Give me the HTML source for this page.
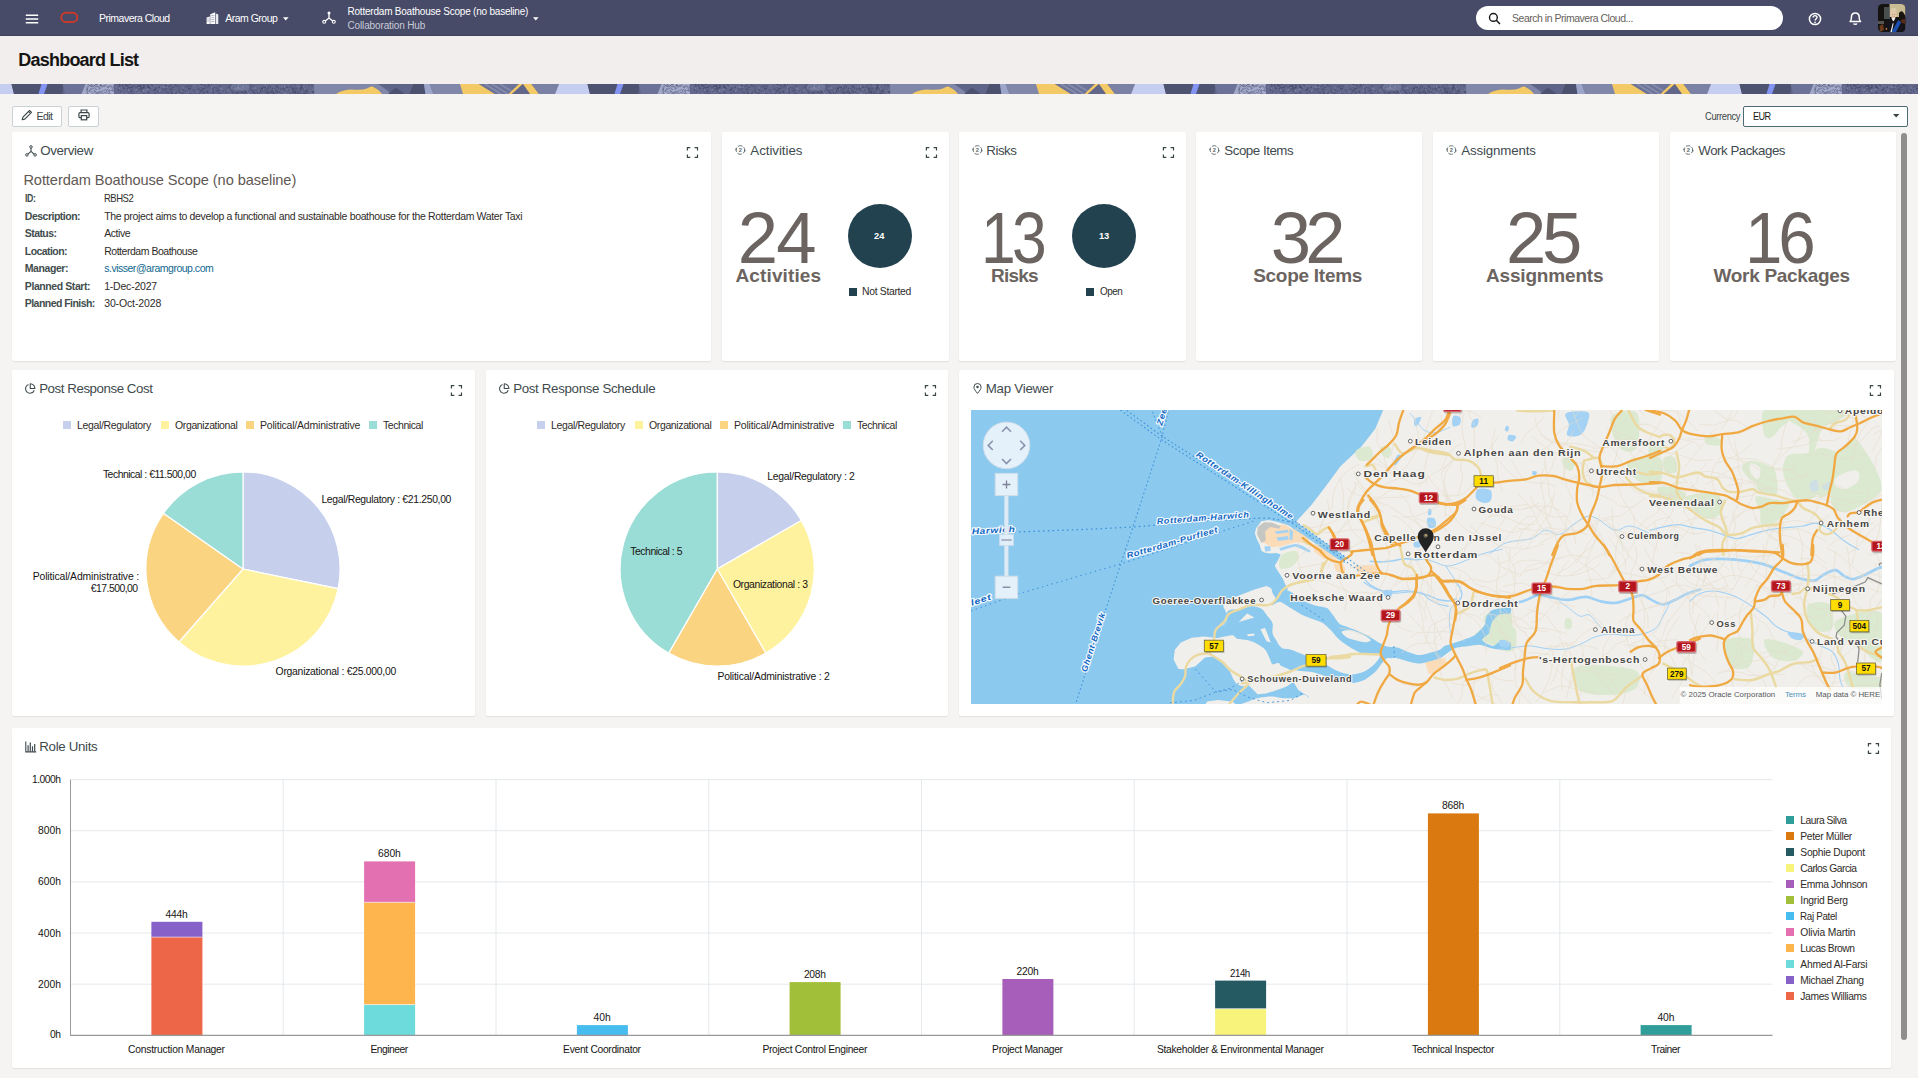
<!DOCTYPE html>
<html lang="en"><head><meta charset="utf-8"><title>Dashboard List</title>
<style>
html,body{margin:0;padding:0;}
body{width:1918px;height:1078px;overflow:hidden;position:relative;background:#f5f4f2;font-family:"Liberation Sans",sans-serif;}
.t{position:absolute;white-space:nowrap;line-height:1;transform-origin:left top;font-family:"Liberation Sans",sans-serif;}
.abs{position:absolute;}
.card{position:absolute;background:#fff;border-radius:2px;box-shadow:0 1px 1.5px rgba(0,0,0,.085);}
svg{position:absolute;overflow:visible;}
</style></head><body>
<div class="abs" style="left:0;top:0;width:1918px;height:36px;background:#474b68;box-shadow:inset 0 -1px 0 #3d4160;"></div>
<svg style="left:25px;top:14px" width="14" height="10" viewBox="0 0 14 10"><path d="M0.8 1.3h12.4M0.8 5h12.4M0.8 8.7h12.4" stroke="#fff" stroke-width="1.5" fill="none"/></svg>
<svg style="left:60px;top:11px" width="19" height="13" viewBox="0 0 19 13"><rect x="1.3" y="1.8" width="16" height="9.2" rx="4.6" ry="4.6" fill="none" stroke="#c9392c" stroke-width="2"/></svg>
<span class="t" style="font-size:10.5px;color:#fff;letter-spacing:-0.504px;left:99.00px;top:13.00px;">Primavera Cloud</span>
<svg style="left:206px;top:12px" width="13" height="13" viewBox="0 0 13 13">
<path d="M4.3 2.2 L9.2 0.3 L9.2 12 L4.3 12 Z" fill="#fff"/>
<path d="M9.8 1.6 L12.3 2.6 L12.3 12 L9.8 12 Z" fill="#e9e9f0"/>
<path d="M0.6 5.6 L3.8 4.6 L3.8 12 L0.6 12 Z" fill="#fff"/>
<path d="M5.3 3.6h3M5.3 5.6h3M5.3 7.6h3M5.3 9.6h3M1.2 7h2M1.2 9h2" stroke="#8a8da6" stroke-width=".7"/>
</svg>
<span class="t" style="font-size:10.5px;color:#fff;letter-spacing:-0.516px;left:225.30px;top:13.00px;">Aram Group</span>
<svg style="left:283px;top:16.7px" width="6" height="4" viewBox="0 0 6 4"><path d="M0 0.2h5.6L2.8 3.4z" fill="#fff"/></svg>
<svg style="left:322px;top:11px" width="14" height="13" viewBox="0 0 14 13">
<path d="M7 2.6V7M7 7L2.6 10.6M7 7L11.4 10.6" stroke="#fff" stroke-width="1.3" fill="none"/>
<circle cx="7" cy="1.9" r="1.5" fill="#fff"/><circle cx="2.2" cy="10.8" r="1.45" fill="#474b68" stroke="#fff" stroke-width="1.1"/><circle cx="11.8" cy="10.8" r="1.45" fill="#474b68" stroke="#fff" stroke-width="1.1"/>
</svg>
<span class="t" style="font-size:10px;color:#fff;letter-spacing:-0.215px;left:347.50px;top:7.00px;">Rotterdam Boathouse Scope (no baseline)</span>
<span class="t" style="font-size:10px;color:#c9cad6;letter-spacing:-0.137px;left:347.50px;top:21.00px;">Collaboration Hub</span>
<svg style="left:533px;top:16.7px" width="6" height="4" viewBox="0 0 6 4"><path d="M0 0.2h5.6L2.8 3.4z" fill="#fff"/></svg>
<div class="abs" style="left:1476px;top:6px;width:307px;height:24px;border-radius:12px;background:#fff;"></div>
<svg style="left:1488px;top:12px" width="13" height="13" viewBox="0 0 13 13"><circle cx="5.4" cy="5.4" r="3.9" fill="none" stroke="#161513" stroke-width="1.4"/><path d="M8.3 8.3L12 12" stroke="#161513" stroke-width="1.5"/></svg>
<span class="t" style="font-size:10.5px;color:#66615c;letter-spacing:-0.478px;left:1512.00px;top:13.00px;">Search in Primavera Cloud...</span>
<svg style="left:1808px;top:12px" width="14" height="14" viewBox="0 0 14 14"><circle cx="7" cy="7" r="5.6" fill="none" stroke="#fff" stroke-width="1.5"/>
<path d="M5.1 5.6c0-2.6 3.9-2.5 3.9-.2c0 1.5-1.9 1.4-1.9 3" fill="none" stroke="#fff" stroke-width="1.4"/><circle cx="7.05" cy="10.3" r=".85" fill="#fff"/></svg>
<svg style="left:1849px;top:12px" width="13" height="14" viewBox="0 0 13 14">
<path d="M1 9.6C2.5 8.6 2.4 7 2.4 5.2C2.4 2.6 4.1 .9 6.3 .9C8.5 .9 10.2 2.6 10.2 5.2C10.2 7 10.1 8.6 11.6 9.6Z" fill="none" stroke="#fff" stroke-width="1.5" stroke-linejoin="round"/>
<path d="M4.6 11.4c.5 1.2 2.9 1.2 3.4 0" fill="none" stroke="#fff" stroke-width="1.4"/></svg>
<svg style="left:1878px;top:4px" width="27.5" height="28" viewBox="0 0 27.5 28">
<defs><clipPath id="avc"><rect x="0" y="0" width="27.5" height="28" rx="4.5" ry="4.5"/></clipPath></defs>
<g clip-path="url(#avc)">
<rect width="27.5" height="28" fill="#15130f"/>
<rect x="11.5" y="0" width="16" height="13" fill="#c9bb92"/>
<rect x="6" y="3" width="6" height="12" fill="#5b6465" opacity=".75"/>
<path d="M21 9 Q23 6 25 8 L27.5 12 L27.5 20 L21 18 Z" fill="#1a1410"/>
<ellipse cx="15.4" cy="10.2" rx="3.2" ry="4.1" fill="#e3c9a8"/>
<path d="M11.9 8.5 Q12.5 3.8 15.6 3.9 Q18.9 4 18.9 8.4 Q17.5 5.8 15.2 6 Q13 6.1 11.9 8.5Z" fill="#d9cfb0"/>
<path d="M14 10.6h1M16.2 10.6h1" stroke="#7a5a48" stroke-width=".5"/>
<path d="M14.4 12.6h2" stroke="#c97b78" stroke-width=".6"/>
<path d="M7 28 L8 18.5 Q10.5 15.2 13.4 14.4 L15.4 17.5 L17.4 14.4 Q21 15.4 23.4 18.5 L27.5 28 Z" fill="#14141a"/>
<path d="M13.4 14.4 L15.4 17.5 L17.4 14.4 L15.6 13.6Z" fill="#f2f2f2"/>
<path d="M13.6 28 L20.2 16 L23.2 18.2 L18 28Z" fill="#1c50b0"/>
<path d="M12.4 28 L14.8 19 L15.6 19.6 L13.8 28Z" fill="#f2f2f2"/>
<path d="M0 17h6v3H0z" fill="#70706c" opacity=".7"/>
<path d="M1.5 22 L5 20 L6 26 L2 28Z" fill="#6c3a1c"/>
<path d="M22.5 16 L27.5 15 L27.5 20 L24 19Z" fill="#5a2c18"/>
<circle cx="8.4" cy="24.8" r=".9" fill="#d8863a"/>
</g></svg>
<div class="abs" style="left:0;top:36px;width:1918px;height:48px;background:#f1eeed;"></div>
<span class="t" style="font-size:18px;color:#161513;font-weight:700;letter-spacing:-0.786px;left:18.30px;top:51.00px;">Dashboard List</span>
<svg style="left:0;top:84px;overflow:hidden" width="1918" height="10" viewBox="0 0 1918 10"><defs><pattern id="bn" x="-6" y="0" width="576" height="10" patternUnits="userSpaceOnUse"><g transform="translate(18,0)"><rect x="-18" y="0" width="576" height="10" fill="#5d6286"/><path d="M-19 0H-0.5L2 10H-19Z" fill="#c5cdf1"/><path d="M-0.5 0H52L50 10H2Z" fill="#4e5372"/><path d="M29.5 0H35.5L32 10H26.5Z" fill="#8393f3"/><path d="M50.5 0H73.5L69.5 10H53Z" fill="#6b7197"/><path d="M73.5 0H103V10H69.5Z" fill="#a3a9c8"/><rect x="102" y="0" width="200" height="10" fill="#62678b"/><rect x="302" y="0" width="150" height="10" fill="#8087a9"/><path d="M366 0H401L397 10H380Q372 4 366 0Z" fill="#5f6589"/><path d="M324 10Q330 5.4 340 5.4Q350 6.2 355 4.4Q359 2 361 2.8Q366 5 370 10Z" fill="#f3ca66"/><path d="M376 10L384 3.6L393 10Z" fill="#4c5170"/><path d="M401 0H412L413.5 10H397Z" fill="#4c5170"/><path d="M412 0H417.5L421 10H413.5Z" fill="#9ca6cb"/><path d="M448 0H467L483 10H451Z" fill="#f3ca66"/><path d="M467 0H509L498 10H483Z" fill="#6e7499"/><path d="M473 0L489 10M480 0L496 10M488 0L501 8" stroke="#858bad" stroke-width="1.6" fill="none"/><path d="M507 0H511L500 10H496.5Z" fill="#f3ca66"/><path d="M511 0L518 10H500Z" fill="#61668a"/><path d="M511 0H519.5L527 10H518Z" fill="#f3ca66"/><path d="M519.5 0H547L543 10H527Z" fill="#7a81a5"/><path d="M547 0H559V10H543Z" fill="#c5cdf1"/><g fill="none"><path d="M147.8 1.5l-0.6 1.2" stroke="#3f4362" stroke-width=".7"/><path d="M157.4 0.6l-0.0 1.3" stroke="#3f4362" stroke-width=".7"/><path d="M89.9 0.9l0.6 2.5" stroke="#5d6286" stroke-width=".7"/><path d="M102.2 2.2l-1.1 2.5" stroke="#5d6286" stroke-width=".7"/><path d="M205.6 4.0l-1.3 0.1" stroke="#3f4362" stroke-width=".7"/><path d="M140.0 1.4l1.6 0.6" stroke="#3f4362" stroke-width=".7"/><path d="M115.2 5.8l-0.8 1.6" stroke="#3f4362" stroke-width=".7"/><path d="M88.3 0.6l1.8 1.4" stroke="#5d6286" stroke-width=".7"/><path d="M171.5 3.1l-0.5 1.9" stroke="#8288ab" stroke-width=".7"/><path d="M255.1 7.0l1.5 1.5" stroke="#3f4362" stroke-width=".7"/><path d="M273.5 7.3l1.7 2.2" stroke="#8288ab" stroke-width=".7"/><path d="M169.3 7.6l1.8 0.9" stroke="#8288ab" stroke-width=".7"/><path d="M226.4 7.6l-0.6 2.5" stroke="#3f4362" stroke-width=".7"/><path d="M232.5 5.9l-0.5 1.9" stroke="#3f4362" stroke-width=".7"/><path d="M289.4 4.7l-0.6 1.1" stroke="#3f4362" stroke-width=".7"/><path d="M221.5 9.9l-1.4 0.9" stroke="#3f4362" stroke-width=".7"/><path d="M226.5 0.2l0.2 1.5" stroke="#8288ab" stroke-width=".7"/><path d="M87.4 7.7l1.5 0.6" stroke="#5d6286" stroke-width=".7"/><path d="M163.1 8.7l1.9 0.5" stroke="#3f4362" stroke-width=".7"/><path d="M275.4 8.2l-1.5 0.7" stroke="#3f4362" stroke-width=".7"/><path d="M155.8 8.8l-1.4 0.2" stroke="#8288ab" stroke-width=".7"/><path d="M126.9 2.3l0.1 2.1" stroke="#8288ab" stroke-width=".7"/><path d="M74.9 4.2l0.8 1.9" stroke="#5d6286" stroke-width=".7"/><path d="M291.3 6.9l-0.1 2.2" stroke="#3f4362" stroke-width=".7"/><path d="M86.3 9.0l-2.0 1.7" stroke="#5d6286" stroke-width=".7"/><path d="M255.9 3.9l0.4 1.3" stroke="#3f4362" stroke-width=".7"/><path d="M88.2 0.7l1.2 0.9" stroke="#5d6286" stroke-width=".7"/><path d="M151.5 0.5l1.4 0.0" stroke="#8288ab" stroke-width=".7"/><path d="M156.9 0.3l-2.0 0.8" stroke="#8288ab" stroke-width=".7"/><path d="M131.5 3.5l0.6 1.3" stroke="#3f4362" stroke-width=".7"/><path d="M300.4 4.7l0.1 1.3" stroke="#8288ab" stroke-width=".7"/><path d="M152.1 2.6l-1.3 0.7" stroke="#8288ab" stroke-width=".7"/><path d="M290.8 5.3l1.9 0.9" stroke="#8288ab" stroke-width=".7"/><path d="M194.4 9.8l-2.1 1.0" stroke="#8288ab" stroke-width=".7"/><path d="M157.6 1.7l-1.5 1.3" stroke="#3f4362" stroke-width=".7"/><path d="M149.2 2.2l-2.3 1.5" stroke="#3f4362" stroke-width=".7"/><path d="M257.8 8.2l-1.1 1.1" stroke="#3f4362" stroke-width=".7"/><path d="M155.1 0.3l1.6 0.1" stroke="#8288ab" stroke-width=".7"/><path d="M231.9 9.6l0.4 2.7" stroke="#3f4362" stroke-width=".7"/><path d="M291.7 3.6l1.2 1.0" stroke="#8288ab" stroke-width=".7"/><path d="M120.6 6.2l-2.4 0.8" stroke="#3f4362" stroke-width=".7"/><path d="M222.9 8.0l2.2 0.6" stroke="#3f4362" stroke-width=".7"/><path d="M252.4 7.5l0.1 1.5" stroke="#3f4362" stroke-width=".7"/><path d="M149.8 8.0l-1.8 0.2" stroke="#3f4362" stroke-width=".7"/><path d="M289.9 7.2l1.2 0.7" stroke="#8288ab" stroke-width=".7"/><path d="M280.3 8.1l2.3 1.1" stroke="#3f4362" stroke-width=".7"/><path d="M223.9 3.5l-0.2 1.4" stroke="#8288ab" stroke-width=".7"/><path d="M295.4 6.5l-0.2 2.7" stroke="#3f4362" stroke-width=".7"/><path d="M272.8 8.3l1.3 1.0" stroke="#8288ab" stroke-width=".7"/><path d="M128.8 5.9l1.3 1.4" stroke="#8288ab" stroke-width=".7"/><path d="M281.5 3.5l0.3 2.1" stroke="#3f4362" stroke-width=".7"/><path d="M169.9 9.2l-0.0 2.1" stroke="#3f4362" stroke-width=".7"/><path d="M78.3 4.4l1.0 0.7" stroke="#5d6286" stroke-width=".7"/><path d="M256.2 1.7l0.2 2.4" stroke="#3f4362" stroke-width=".7"/><path d="M148.3 5.2l-0.4 2.4" stroke="#8288ab" stroke-width=".7"/><path d="M201.7 2.5l1.6 1.9" stroke="#3f4362" stroke-width=".7"/><path d="M202.1 7.6l-1.8 0.5" stroke="#3f4362" stroke-width=".7"/><path d="M189.3 5.1l-1.1 1.6" stroke="#3f4362" stroke-width=".7"/><path d="M183.0 9.4l-1.5 2.1" stroke="#3f4362" stroke-width=".7"/><path d="M133.2 5.6l-2.5 0.5" stroke="#8288ab" stroke-width=".7"/><path d="M101.7 4.4l1.5 0.4" stroke="#5d6286" stroke-width=".7"/><path d="M90.7 6.7l-2.1 1.7" stroke="#5d6286" stroke-width=".7"/><path d="M109.2 7.2l-0.7 1.3" stroke="#3f4362" stroke-width=".7"/><path d="M294.6 2.2l-1.8 0.3" stroke="#3f4362" stroke-width=".7"/><path d="M299.7 8.3l1.7 0.9" stroke="#3f4362" stroke-width=".7"/><path d="M151.3 2.0l1.3 2.0" stroke="#8288ab" stroke-width=".7"/><path d="M200.3 4.4l1.7 0.1" stroke="#3f4362" stroke-width=".7"/><path d="M190.8 0.6l-2.5 0.1" stroke="#3f4362" stroke-width=".7"/><path d="M97.9 2.7l2.4 0.3" stroke="#5d6286" stroke-width=".7"/><path d="M135.7 1.3l0.6 2.6" stroke="#3f4362" stroke-width=".7"/><path d="M133.0 1.5l-2.0 0.5" stroke="#3f4362" stroke-width=".7"/><path d="M94.4 0.6l-1.0 1.6" stroke="#5d6286" stroke-width=".7"/><path d="M90.5 9.4l-1.0 2.3" stroke="#5d6286" stroke-width=".7"/><path d="M93.1 8.6l2.5 0.5" stroke="#5d6286" stroke-width=".7"/><path d="M177.5 3.4l-0.4 2.6" stroke="#8288ab" stroke-width=".7"/><path d="M103.5 5.3l1.0 0.9" stroke="#8288ab" stroke-width=".7"/><path d="M85.5 2.0l0.9 1.4" stroke="#5d6286" stroke-width=".7"/><path d="M247.2 2.9l-0.0 1.5" stroke="#3f4362" stroke-width=".7"/><path d="M78.1 2.5l2.4 0.1" stroke="#5d6286" stroke-width=".7"/><path d="M199.6 1.9l0.2 2.7" stroke="#8288ab" stroke-width=".7"/><path d="M260.7 4.3l0.0 2.5" stroke="#3f4362" stroke-width=".7"/><path d="M189.5 6.9l-1.7 0.1" stroke="#3f4362" stroke-width=".7"/><path d="M235.1 6.4l0.5 1.7" stroke="#8288ab" stroke-width=".7"/><path d="M103.6 0.7l-1.1 1.2" stroke="#8288ab" stroke-width=".7"/><path d="M93.3 8.4l-2.1 0.9" stroke="#5d6286" stroke-width=".7"/><path d="M138.3 2.4l1.2 1.5" stroke="#8288ab" stroke-width=".7"/><path d="M175.6 2.6l-2.7 0.3" stroke="#3f4362" stroke-width=".7"/><path d="M129.7 9.7l1.0 1.5" stroke="#8288ab" stroke-width=".7"/><path d="M161.0 4.7l-0.0 1.5" stroke="#3f4362" stroke-width=".7"/><path d="M75.1 2.6l1.8 0.5" stroke="#5d6286" stroke-width=".7"/><path d="M83.5 0.2l0.9 1.3" stroke="#5d6286" stroke-width=".7"/><path d="M207.5 5.3l-1.6 1.6" stroke="#3f4362" stroke-width=".7"/><path d="M274.4 3.9l1.4 2.4" stroke="#8288ab" stroke-width=".7"/><path d="M239.1 6.4l2.5 0.3" stroke="#3f4362" stroke-width=".7"/><path d="M217.0 7.3l-1.2 0.8" stroke="#3f4362" stroke-width=".7"/><path d="M189.0 8.3l-2.1 1.5" stroke="#3f4362" stroke-width=".7"/><path d="M277.6 6.8l-0.9 1.3" stroke="#8288ab" stroke-width=".7"/><path d="M104.3 3.6l2.4 0.8" stroke="#3f4362" stroke-width=".7"/><path d="M217.1 6.3l-1.1 1.7" stroke="#8288ab" stroke-width=".7"/><path d="M255.9 7.5l-0.0 2.1" stroke="#3f4362" stroke-width=".7"/><path d="M89.1 7.4l0.9 0.9" stroke="#5d6286" stroke-width=".7"/><path d="M134.5 7.3l1.9 1.4" stroke="#3f4362" stroke-width=".7"/><path d="M186.6 3.8l0.2 2.3" stroke="#3f4362" stroke-width=".7"/><path d="M214.7 6.4l1.4 0.3" stroke="#8288ab" stroke-width=".7"/><path d="M243.5 3.0l-0.3 1.2" stroke="#8288ab" stroke-width=".7"/><path d="M135.3 6.7l-1.3 1.9" stroke="#8288ab" stroke-width=".7"/><path d="M191.8 4.6l0.1 1.4" stroke="#3f4362" stroke-width=".7"/><path d="M119.4 9.8l-1.2 0.2" stroke="#3f4362" stroke-width=".7"/><path d="M260.9 9.7l0.3 1.6" stroke="#8288ab" stroke-width=".7"/><path d="M289.6 2.1l-0.4 1.4" stroke="#3f4362" stroke-width=".7"/><path d="M291.2 1.3l-1.7 1.1" stroke="#3f4362" stroke-width=".7"/><path d="M234.4 2.3l-1.9 0.6" stroke="#8288ab" stroke-width=".7"/><path d="M74.8 4.9l0.3 1.7" stroke="#5d6286" stroke-width=".7"/><path d="M106.1 3.4l1.4 2.1" stroke="#8288ab" stroke-width=".7"/><path d="M245.2 8.4l2.5 1.0" stroke="#3f4362" stroke-width=".7"/><path d="M279.6 2.9l0.7 1.7" stroke="#3f4362" stroke-width=".7"/><path d="M208.3 3.6l0.4 1.6" stroke="#8288ab" stroke-width=".7"/><path d="M97.2 8.3l1.7 2.1" stroke="#5d6286" stroke-width=".7"/><path d="M130.8 2.7l-0.1 1.5" stroke="#3f4362" stroke-width=".7"/><path d="M292.0 8.8l-1.8 1.2" stroke="#3f4362" stroke-width=".7"/><path d="M288.5 5.5l-0.8 1.0" stroke="#3f4362" stroke-width=".7"/><path d="M176.8 7.5l-0.7 1.5" stroke="#8288ab" stroke-width=".7"/><path d="M285.3 1.3l0.2 1.7" stroke="#8288ab" stroke-width=".7"/><path d="M242.5 9.8l1.5 1.6" stroke="#3f4362" stroke-width=".7"/><path d="M201.1 3.9l1.3 0.7" stroke="#8288ab" stroke-width=".7"/><path d="M280.6 5.0l2.0 1.7" stroke="#3f4362" stroke-width=".7"/><path d="M176.6 1.4l1.1 0.8" stroke="#3f4362" stroke-width=".7"/><path d="M94.8 2.4l1.5 1.5" stroke="#5d6286" stroke-width=".7"/><path d="M276.3 7.5l0.5 1.8" stroke="#3f4362" stroke-width=".7"/><path d="M159.9 3.4l1.6 0.3" stroke="#3f4362" stroke-width=".7"/><path d="M102.7 5.0l-1.0 2.4" stroke="#5d6286" stroke-width=".7"/><path d="M123.2 2.7l1.3 1.3" stroke="#3f4362" stroke-width=".7"/><path d="M291.5 8.5l-1.1 0.5" stroke="#8288ab" stroke-width=".7"/><path d="M235.8 9.0l0.2 2.1" stroke="#8288ab" stroke-width=".7"/><path d="M163.3 9.3l-2.2 1.3" stroke="#3f4362" stroke-width=".7"/><path d="M130.7 1.1l1.8 0.9" stroke="#3f4362" stroke-width=".7"/><path d="M288.7 7.2l-1.1 2.2" stroke="#3f4362" stroke-width=".7"/><path d="M199.7 0.4l-1.2 1.0" stroke="#3f4362" stroke-width=".7"/><path d="M221.2 3.0l1.5 0.6" stroke="#3f4362" stroke-width=".7"/><path d="M233.3 1.1l2.0 0.4" stroke="#3f4362" stroke-width=".7"/><path d="M162.5 2.2l-0.4 1.2" stroke="#3f4362" stroke-width=".7"/><path d="M179.0 9.6l-1.1 2.3" stroke="#3f4362" stroke-width=".7"/><path d="M127.5 2.5l-2.3 0.3" stroke="#3f4362" stroke-width=".7"/><path d="M79.0 5.0l-1.0 1.6" stroke="#5d6286" stroke-width=".7"/><path d="M132.7 6.7l-1.5 0.4" stroke="#8288ab" stroke-width=".7"/><path d="M151.1 4.2l-0.8 1.3" stroke="#3f4362" stroke-width=".7"/><path d="M242.5 5.0l2.2 1.7" stroke="#3f4362" stroke-width=".7"/><path d="M261.0 2.3l1.9 1.5" stroke="#8288ab" stroke-width=".7"/><path d="M291.0 5.0l1.3 0.9" stroke="#3f4362" stroke-width=".7"/><path d="M225.7 9.5l1.6 0.8" stroke="#8288ab" stroke-width=".7"/><path d="M296.1 1.4l1.3 0.2" stroke="#3f4362" stroke-width=".7"/><path d="M278.8 8.8l-1.9 2.1" stroke="#3f4362" stroke-width=".7"/><path d="M149.1 1.9l-2.3 0.5" stroke="#8288ab" stroke-width=".7"/><path d="M225.5 3.8l0.7 1.6" stroke="#8288ab" stroke-width=".7"/><path d="M74.7 2.8l1.2 2.4" stroke="#5d6286" stroke-width=".7"/><path d="M102.2 9.6l1.4 1.1" stroke="#5d6286" stroke-width=".7"/><path d="M261.3 8.2l0.3 1.3" stroke="#3f4362" stroke-width=".7"/><path d="M159.0 9.2l1.5 1.0" stroke="#3f4362" stroke-width=".7"/><path d="M80.9 4.1l-2.0 1.4" stroke="#5d6286" stroke-width=".7"/><path d="M83.3 0.3l2.6 0.5" stroke="#5d6286" stroke-width=".7"/><path d="M132.6 7.5l-1.7 0.5" stroke="#8288ab" stroke-width=".7"/><path d="M292.4 6.2l1.6 1.7" stroke="#3f4362" stroke-width=".7"/><path d="M136.8 0.0l-1.9 1.9" stroke="#3f4362" stroke-width=".7"/><path d="M289.1 0.2l1.5 1.3" stroke="#3f4362" stroke-width=".7"/><path d="M291.5 3.9l1.3 1.3" stroke="#3f4362" stroke-width=".7"/><path d="M285.6 1.8l-1.9 1.4" stroke="#3f4362" stroke-width=".7"/><path d="M250.2 6.1l0.9 1.5" stroke="#3f4362" stroke-width=".7"/><path d="M252.4 0.8l2.0 1.4" stroke="#8288ab" stroke-width=".7"/><path d="M88.8 0.3l-0.3 1.7" stroke="#5d6286" stroke-width=".7"/><path d="M297.5 8.8l-1.6 0.1" stroke="#8288ab" stroke-width=".7"/><path d="M96.0 5.0l-1.2 1.5" stroke="#5d6286" stroke-width=".7"/><path d="M127.4 4.2l-0.8 2.1" stroke="#3f4362" stroke-width=".7"/><path d="M267.1 6.6l2.4 0.9" stroke="#8288ab" stroke-width=".7"/><path d="M203.2 3.7l-1.0 1.1" stroke="#8288ab" stroke-width=".7"/><path d="M129.9 1.5l-2.0 0.8" stroke="#3f4362" stroke-width=".7"/><path d="M164.3 9.9l-0.0 1.6" stroke="#3f4362" stroke-width=".7"/><path d="M223.0 9.9l1.9 0.6" stroke="#3f4362" stroke-width=".7"/><path d="M265.6 9.1l1.7 0.2" stroke="#8288ab" stroke-width=".7"/><path d="M117.2 9.7l-0.7 2.6" stroke="#3f4362" stroke-width=".7"/><path d="M271.5 4.5l1.7 1.8" stroke="#3f4362" stroke-width=".7"/><path d="M98.1 6.0l-0.6 1.4" stroke="#5d6286" stroke-width=".7"/><path d="M158.1 1.4l1.3 1.0" stroke="#3f4362" stroke-width=".7"/><path d="M222.6 2.0l1.7 0.1" stroke="#3f4362" stroke-width=".7"/><path d="M116.2 3.1l2.0 1.5" stroke="#3f4362" stroke-width=".7"/><path d="M88.4 1.0l0.7 2.0" stroke="#5d6286" stroke-width=".7"/><path d="M219.7 0.9l2.0 1.1" stroke="#3f4362" stroke-width=".7"/><path d="M138.6 3.1l-1.7 0.2" stroke="#3f4362" stroke-width=".7"/><path d="M155.4 4.2l-2.5 1.2" stroke="#3f4362" stroke-width=".7"/><path d="M119.0 7.3l1.0 0.7" stroke="#3f4362" stroke-width=".7"/><path d="M170.6 8.2l0.8 2.5" stroke="#3f4362" stroke-width=".7"/><path d="M111.1 0.1l-0.4 2.2" stroke="#3f4362" stroke-width=".7"/><path d="M94.3 6.2l0.8 1.8" stroke="#5d6286" stroke-width=".7"/><path d="M107.3 2.8l-0.2 2.7" stroke="#8288ab" stroke-width=".7"/><path d="M185.8 8.0l-1.5 0.2" stroke="#8288ab" stroke-width=".7"/><path d="M289.0 9.8l0.1 1.3" stroke="#3f4362" stroke-width=".7"/><path d="M162.4 9.0l-0.9 2.3" stroke="#8288ab" stroke-width=".7"/><path d="M253.2 2.2l0.8 2.4" stroke="#3f4362" stroke-width=".7"/><path d="M115.7 2.2l0.6 1.9" stroke="#3f4362" stroke-width=".7"/><path d="M102.1 2.5l-1.7 2.0" stroke="#5d6286" stroke-width=".7"/><path d="M83.4 5.6l-0.9 0.9" stroke="#5d6286" stroke-width=".7"/><path d="M265.1 1.2l-0.6 2.0" stroke="#3f4362" stroke-width=".7"/><path d="M143.8 4.2l-0.5 1.8" stroke="#3f4362" stroke-width=".7"/><path d="M175.9 4.4l2.2 0.2" stroke="#3f4362" stroke-width=".7"/><path d="M127.6 7.6l-1.5 1.2" stroke="#8288ab" stroke-width=".7"/><path d="M181.9 1.1l1.7 0.7" stroke="#8288ab" stroke-width=".7"/><path d="M174.8 5.1l2.2 0.3" stroke="#8288ab" stroke-width=".7"/><path d="M241.2 7.8l-0.0 1.3" stroke="#3f4362" stroke-width=".7"/><path d="M160.2 9.5l2.3 1.1" stroke="#3f4362" stroke-width=".7"/><path d="M240.9 8.1l2.3 1.6" stroke="#3f4362" stroke-width=".7"/><path d="M292.1 9.2l2.1 1.2" stroke="#3f4362" stroke-width=".7"/><path d="M88.9 3.5l-1.0 1.0" stroke="#5d6286" stroke-width=".7"/><path d="M278.4 2.7l-1.2 0.8" stroke="#3f4362" stroke-width=".7"/><path d="M283.7 2.1l1.4 1.5" stroke="#3f4362" stroke-width=".7"/><path d="M82.4 1.8l2.4 1.3" stroke="#5d6286" stroke-width=".7"/><path d="M229.0 9.0l2.1 1.2" stroke="#8288ab" stroke-width=".7"/><path d="M195.0 6.4l1.1 2.3" stroke="#3f4362" stroke-width=".7"/><path d="M206.2 8.8l2.6 0.9" stroke="#3f4362" stroke-width=".7"/><path d="M163.9 8.0l1.9 2.1" stroke="#3f4362" stroke-width=".7"/><path d="M156.1 7.6l0.3 1.5" stroke="#3f4362" stroke-width=".7"/><path d="M85.0 8.2l1.6 1.6" stroke="#5d6286" stroke-width=".7"/><path d="M298.4 5.9l-0.8 1.5" stroke="#8288ab" stroke-width=".7"/><path d="M81.7 1.5l-0.7 1.8" stroke="#5d6286" stroke-width=".7"/><path d="M190.9 9.0l1.4 0.6" stroke="#3f4362" stroke-width=".7"/><path d="M79.1 0.0l0.6 1.2" stroke="#5d6286" stroke-width=".7"/><path d="M155.4 2.2l-0.6 2.1" stroke="#8288ab" stroke-width=".7"/><path d="M216.3 4.7l2.5 1.1" stroke="#8288ab" stroke-width=".7"/><path d="M108.0 1.0l-1.1 2.4" stroke="#3f4362" stroke-width=".7"/><path d="M165.6 2.6l2.2 0.1" stroke="#3f4362" stroke-width=".7"/><path d="M153.9 6.5l0.5 2.7" stroke="#3f4362" stroke-width=".7"/><path d="M130.7 9.0l2.0 0.3" stroke="#3f4362" stroke-width=".7"/><path d="M128.2 0.6l-0.9 0.8" stroke="#3f4362" stroke-width=".7"/><path d="M288.5 1.4l1.8 1.3" stroke="#3f4362" stroke-width=".7"/><path d="M220.3 8.1l1.4 0.9" stroke="#3f4362" stroke-width=".7"/><path d="M85.1 8.9l-1.8 1.5" stroke="#5d6286" stroke-width=".7"/><path d="M75.4 8.4l-1.4 1.4" stroke="#5d6286" stroke-width=".7"/><path d="M243.1 4.5l1.0 0.9" stroke="#8288ab" stroke-width=".7"/><path d="M82.9 3.4l-1.6 1.6" stroke="#5d6286" stroke-width=".7"/><path d="M266.7 7.1l1.4 1.5" stroke="#3f4362" stroke-width=".7"/><path d="M253.8 5.2l1.5 1.6" stroke="#3f4362" stroke-width=".7"/><path d="M123.5 8.8l1.6 0.1" stroke="#8288ab" stroke-width=".7"/><path d="M243.6 9.4l-1.2 1.2" stroke="#3f4362" stroke-width=".7"/><path d="M148.9 2.4l-2.1 0.6" stroke="#3f4362" stroke-width=".7"/><path d="M225.7 9.8l0.2 2.5" stroke="#3f4362" stroke-width=".7"/><path d="M269.5 4.4l-1.4 1.6" stroke="#3f4362" stroke-width=".7"/><path d="M122.3 6.2l2.6 0.6" stroke="#8288ab" stroke-width=".7"/><path d="M80.1 1.1l-1.7 0.4" stroke="#5d6286" stroke-width=".7"/><path d="M106.3 0.3l2.3 0.3" stroke="#3f4362" stroke-width=".7"/><path d="M232.9 7.4l2.1 0.4" stroke="#3f4362" stroke-width=".7"/><path d="M260.4 8.2l-1.2 0.4" stroke="#3f4362" stroke-width=".7"/><path d="M282.5 9.4l1.4 0.5" stroke="#8288ab" stroke-width=".7"/><path d="M81.8 8.5l-1.8 1.2" stroke="#5d6286" stroke-width=".7"/><path d="M262.1 6.3l0.8 1.1" stroke="#8288ab" stroke-width=".7"/><path d="M246.7 2.0l1.0 1.6" stroke="#8288ab" stroke-width=".7"/><path d="M132.5 2.8l-1.1 1.4" stroke="#3f4362" stroke-width=".7"/><path d="M293.8 5.0l-2.0 1.0" stroke="#8288ab" stroke-width=".7"/><path d="M168.1 4.4l-1.3 1.1" stroke="#3f4362" stroke-width=".7"/><path d="M196.6 2.2l-1.2 0.6" stroke="#3f4362" stroke-width=".7"/><path d="M112.8 0.0l1.9 1.4" stroke="#3f4362" stroke-width=".7"/><path d="M75.0 4.9l0.1 2.5" stroke="#5d6286" stroke-width=".7"/><path d="M116.1 4.9l1.2 2.2" stroke="#8288ab" stroke-width=".7"/><path d="M289.2 2.8l1.8 1.4" stroke="#3f4362" stroke-width=".7"/><path d="M99.1 6.4l2.4 0.6" stroke="#5d6286" stroke-width=".7"/><path d="M233.0 7.9l-0.7 1.6" stroke="#3f4362" stroke-width=".7"/><path d="M164.0 8.9l2.5 0.7" stroke="#8288ab" stroke-width=".7"/><path d="M121.0 2.6l-1.9 0.6" stroke="#3f4362" stroke-width=".7"/><path d="M275.5 2.3l0.3 2.0" stroke="#3f4362" stroke-width=".7"/><path d="M245.7 6.5l0.8 1.5" stroke="#8288ab" stroke-width=".7"/><path d="M266.2 6.6l-1.0 1.1" stroke="#3f4362" stroke-width=".7"/><path d="M250.3 5.8l1.8 0.7" stroke="#3f4362" stroke-width=".7"/><path d="M128.3 1.9l1.4 1.9" stroke="#3f4362" stroke-width=".7"/><path d="M109.2 1.6l1.2 1.2" stroke="#3f4362" stroke-width=".7"/><path d="M110.7 3.3l2.3 1.5" stroke="#3f4362" stroke-width=".7"/><path d="M97.2 9.6l1.7 0.6" stroke="#5d6286" stroke-width=".7"/><path d="M298.3 7.9l-1.3 1.4" stroke="#8288ab" stroke-width=".7"/><path d="M219.5 1.1l1.5 1.1" stroke="#8288ab" stroke-width=".7"/><path d="M165.0 7.9l-1.1 1.6" stroke="#3f4362" stroke-width=".7"/><path d="M179.6 1.4l-0.6 1.8" stroke="#3f4362" stroke-width=".7"/><path d="M281.0 4.3l-0.6 2.3" stroke="#3f4362" stroke-width=".7"/><path d="M126.1 7.2l-2.3 0.9" stroke="#3f4362" stroke-width=".7"/><path d="M268.4 6.8l-0.8 1.7" stroke="#3f4362" stroke-width=".7"/><path d="M217.2 1.0l0.6 2.4" stroke="#3f4362" stroke-width=".7"/><path d="M217.6 2.5l0.5 1.9" stroke="#3f4362" stroke-width=".7"/><path d="M167.3 6.8l-1.5 0.3" stroke="#3f4362" stroke-width=".7"/><path d="M251.4 3.9l0.1 2.8" stroke="#8288ab" stroke-width=".7"/><path d="M197.9 1.6l-2.1 1.7" stroke="#3f4362" stroke-width=".7"/><path d="M97.0 5.7l-0.3 2.3" stroke="#5d6286" stroke-width=".7"/><path d="M190.8 6.4l-1.7 1.0" stroke="#3f4362" stroke-width=".7"/><path d="M290.1 2.1l-1.0 1.5" stroke="#3f4362" stroke-width=".7"/><path d="M101.9 9.8l0.6 1.2" stroke="#5d6286" stroke-width=".7"/><path d="M136.6 4.0l1.9 0.1" stroke="#3f4362" stroke-width=".7"/><path d="M233.2 3.5l1.0 1.2" stroke="#3f4362" stroke-width=".7"/><path d="M288.3 5.3l1.9 1.6" stroke="#3f4362" stroke-width=".7"/><path d="M122.3 1.3l-1.9 1.6" stroke="#3f4362" stroke-width=".7"/><path d="M181.0 5.6l2.1 1.8" stroke="#3f4362" stroke-width=".7"/><path d="M219.6 8.2l-1.6 1.1" stroke="#8288ab" stroke-width=".7"/><path d="M199.0 1.3l-1.5 0.9" stroke="#3f4362" stroke-width=".7"/><path d="M135.0 3.8l1.3 1.3" stroke="#8288ab" stroke-width=".7"/><path d="M74.6 7.2l1.0 1.2" stroke="#5d6286" stroke-width=".7"/><path d="M142.8 4.8l0.5 2.2" stroke="#3f4362" stroke-width=".7"/><path d="M156.6 9.3l-1.2 0.6" stroke="#3f4362" stroke-width=".7"/><path d="M280.5 7.8l2.3 1.1" stroke="#3f4362" stroke-width=".7"/><path d="M77.4 0.1l-2.2 0.3" stroke="#5d6286" stroke-width=".7"/><path d="M131.0 1.0l1.4 0.7" stroke="#3f4362" stroke-width=".7"/><path d="M153.0 1.5l-2.4 0.7" stroke="#8288ab" stroke-width=".7"/><path d="M277.2 6.1l-1.8 1.4" stroke="#3f4362" stroke-width=".7"/><path d="M253.7 8.4l1.9 1.3" stroke="#3f4362" stroke-width=".7"/><path d="M243.2 4.4l-1.9 0.8" stroke="#8288ab" stroke-width=".7"/><path d="M127.4 1.4l0.0 1.3" stroke="#3f4362" stroke-width=".7"/><path d="M106.9 4.9l0.0 2.1" stroke="#3f4362" stroke-width=".7"/><path d="M75.5 8.4l0.2 2.1" stroke="#5d6286" stroke-width=".7"/><path d="M225.7 8.4l0.7 1.7" stroke="#3f4362" stroke-width=".7"/><path d="M91.2 6.4l-0.5 1.1" stroke="#5d6286" stroke-width=".7"/><path d="M213.0 6.8l-1.7 0.4" stroke="#3f4362" stroke-width=".7"/><path d="M190.4 4.8l-1.2 0.4" stroke="#3f4362" stroke-width=".7"/><path d="M216.6 3.4l-1.6 0.8" stroke="#3f4362" stroke-width=".7"/><path d="M193.8 7.7l1.5 1.2" stroke="#3f4362" stroke-width=".7"/><path d="M200.3 8.3l1.5 2.0" stroke="#3f4362" stroke-width=".7"/><path d="M188.9 2.7l-0.1 2.8" stroke="#3f4362" stroke-width=".7"/><path d="M254.6 3.3l0.9 1.4" stroke="#3f4362" stroke-width=".7"/><path d="M218.7 7.8l2.3 0.3" stroke="#3f4362" stroke-width=".7"/><path d="M198.4 0.5l0.7 1.0" stroke="#8288ab" stroke-width=".7"/><path d="M284.1 6.1l-1.2 2.2" stroke="#3f4362" stroke-width=".7"/><path d="M213.5 6.2l-0.9 2.1" stroke="#3f4362" stroke-width=".7"/><path d="M229.3 2.1l-1.0 1.7" stroke="#3f4362" stroke-width=".7"/><path d="M97.1 1.8l2.4 0.3" stroke="#5d6286" stroke-width=".7"/><path d="M282.4 6.6l1.0 2.3" stroke="#3f4362" stroke-width=".7"/><path d="M202.2 2.6l1.1 1.5" stroke="#3f4362" stroke-width=".7"/><path d="M172.2 6.4l-1.3 0.3" stroke="#3f4362" stroke-width=".7"/><path d="M83.0 1.2l-1.8 1.2" stroke="#5d6286" stroke-width=".7"/><path d="M283.4 4.5l1.8 0.1" stroke="#3f4362" stroke-width=".7"/><path d="M287.8 9.8l0.1 1.9" stroke="#8288ab" stroke-width=".7"/><path d="M220.9 2.1l1.1 0.6" stroke="#8288ab" stroke-width=".7"/><path d="M229.9 1.2l-1.3 0.1" stroke="#3f4362" stroke-width=".7"/><path d="M103.4 0.2l-1.0 1.2" stroke="#3f4362" stroke-width=".7"/><path d="M116.7 0.5l-1.8 1.5" stroke="#3f4362" stroke-width=".7"/><path d="M240.4 0.8l-0.9 2.1" stroke="#3f4362" stroke-width=".7"/><path d="M286.6 2.5l-2.3 0.3" stroke="#8288ab" stroke-width=".7"/><path d="M77.4 6.5l-1.1 0.7" stroke="#5d6286" stroke-width=".7"/><path d="M144.9 7.3l2.2 1.3" stroke="#3f4362" stroke-width=".7"/><path d="M87.6 3.7l-0.4 1.8" stroke="#5d6286" stroke-width=".7"/><path d="M228.3 1.4l-1.4 1.1" stroke="#3f4362" stroke-width=".7"/><path d="M217.6 4.2l0.9 2.3" stroke="#3f4362" stroke-width=".7"/><path d="M252.9 5.7l0.8 1.0" stroke="#3f4362" stroke-width=".7"/><path d="M234.3 8.3l1.1 1.9" stroke="#3f4362" stroke-width=".7"/><path d="M263.5 6.0l1.1 1.6" stroke="#3f4362" stroke-width=".7"/><path d="M159.9 6.8l-0.8 2.5" stroke="#3f4362" stroke-width=".7"/><path d="M138.6 0.0l1.3 1.4" stroke="#3f4362" stroke-width=".7"/><path d="M260.0 8.9l2.5 0.3" stroke="#3f4362" stroke-width=".7"/><path d="M271.7 5.7l1.7 1.9" stroke="#3f4362" stroke-width=".7"/><path d="M230.1 9.1l0.6 1.2" stroke="#3f4362" stroke-width=".7"/><path d="M255.8 2.0l-1.9 1.9" stroke="#8288ab" stroke-width=".7"/><path d="M212.4 6.8l0.2 1.5" stroke="#8288ab" stroke-width=".7"/><path d="M245.3 7.9l0.2 1.3" stroke="#3f4362" stroke-width=".7"/><path d="M250.1 2.3l-0.7 2.6" stroke="#3f4362" stroke-width=".7"/><path d="M193.0 4.8l-0.4 1.4" stroke="#8288ab" stroke-width=".7"/><path d="M115.2 7.0l0.9 1.9" stroke="#3f4362" stroke-width=".7"/><path d="M191.9 1.5l2.8 0.4" stroke="#3f4362" stroke-width=".7"/><path d="M98.2 6.3l-1.1 0.9" stroke="#5d6286" stroke-width=".7"/><path d="M210.2 3.4l-0.1 1.2" stroke="#8288ab" stroke-width=".7"/><path d="M299.8 8.7l0.1 2.1" stroke="#8288ab" stroke-width=".7"/><path d="M251.7 4.3l-2.4 0.4" stroke="#3f4362" stroke-width=".7"/><path d="M293.7 2.5l1.5 0.2" stroke="#8288ab" stroke-width=".7"/><path d="M93.1 0.5l-0.5 2.6" stroke="#5d6286" stroke-width=".7"/><path d="M178.5 9.5l-1.3 0.4" stroke="#3f4362" stroke-width=".7"/><path d="M164.6 1.2l-1.6 0.2" stroke="#3f4362" stroke-width=".7"/><path d="M220.1 9.6l-0.9 1.6" stroke="#3f4362" stroke-width=".7"/><path d="M110.4 9.7l-1.6 0.0" stroke="#8288ab" stroke-width=".7"/><path d="M132.3 3.5l-2.5 0.8" stroke="#3f4362" stroke-width=".7"/><path d="M84.7 7.9l-1.4 1.8" stroke="#5d6286" stroke-width=".7"/><path d="M298.7 0.6l2.2 1.1" stroke="#3f4362" stroke-width=".7"/><path d="M228.3 3.0l-0.7 2.3" stroke="#8288ab" stroke-width=".7"/><path d="M147.9 2.6l1.8 0.7" stroke="#8288ab" stroke-width=".7"/><path d="M128.4 1.4l-0.6 1.0" stroke="#3f4362" stroke-width=".7"/><path d="M118.5 0.4l-1.5 0.3" stroke="#3f4362" stroke-width=".7"/><path d="M271.6 8.9l1.7 0.8" stroke="#8288ab" stroke-width=".7"/><path d="M285.8 8.4l-0.8 1.8" stroke="#3f4362" stroke-width=".7"/><path d="M261.7 4.8l-0.6 1.3" stroke="#8288ab" stroke-width=".7"/><path d="M86.9 7.1l-0.2 1.4" stroke="#5d6286" stroke-width=".7"/><path d="M272.5 2.7l0.4 1.4" stroke="#8288ab" stroke-width=".7"/><path d="M265.4 3.3l1.7 1.0" stroke="#3f4362" stroke-width=".7"/><path d="M279.9 1.1l-1.3 0.1" stroke="#3f4362" stroke-width=".7"/><path d="M226.4 2.1l0.1 1.7" stroke="#8288ab" stroke-width=".7"/><path d="M120.0 3.6l-2.8 0.1" stroke="#3f4362" stroke-width=".7"/><path d="M96.2 2.9l-1.2 0.4" stroke="#5d6286" stroke-width=".7"/><path d="M239.6 2.9l-1.2 0.1" stroke="#3f4362" stroke-width=".7"/><path d="M151.7 1.4l2.5 0.0" stroke="#3f4362" stroke-width=".7"/><path d="M116.4 4.4l-1.5 0.4" stroke="#3f4362" stroke-width=".7"/><path d="M105.5 1.8l-1.8 1.5" stroke="#8288ab" stroke-width=".7"/><path d="M92.1 0.9l-0.7 1.9" stroke="#5d6286" stroke-width=".7"/><path d="M136.4 2.1l-0.8 2.2" stroke="#3f4362" stroke-width=".7"/><path d="M206.9 2.0l2.3 0.5" stroke="#3f4362" stroke-width=".7"/><path d="M238.5 0.6l-1.4 1.0" stroke="#3f4362" stroke-width=".7"/><path d="M271.1 4.9l2.7 0.1" stroke="#3f4362" stroke-width=".7"/><path d="M272.8 2.7l2.1 1.4" stroke="#3f4362" stroke-width=".7"/><path d="M111.3 3.7l-0.4 1.2" stroke="#3f4362" stroke-width=".7"/><path d="M175.6 5.2l2.2 0.9" stroke="#3f4362" stroke-width=".7"/><path d="M271.3 3.2l-1.1 1.4" stroke="#3f4362" stroke-width=".7"/><path d="M88.0 8.7l-2.0 0.3" stroke="#5d6286" stroke-width=".7"/><path d="M191.0 5.3l-0.1 1.2" stroke="#3f4362" stroke-width=".7"/><path d="M125.0 1.8l1.5 0.5" stroke="#3f4362" stroke-width=".7"/><path d="M80.9 1.0l-0.9 1.2" stroke="#5d6286" stroke-width=".7"/><path d="M78.0 6.0l-0.5 2.0" stroke="#5d6286" stroke-width=".7"/><path d="M234.2 1.0l-2.2 0.9" stroke="#8288ab" stroke-width=".7"/><path d="M102.1 4.9l-0.0 1.6" stroke="#5d6286" stroke-width=".7"/><path d="M101.8 4.1l2.0 0.9" stroke="#5d6286" stroke-width=".7"/><path d="M270.3 1.5l-0.5 2.3" stroke="#8288ab" stroke-width=".7"/><path d="M262.3 9.4l0.6 1.8" stroke="#3f4362" stroke-width=".7"/><path d="M193.8 4.0l-2.4 0.4" stroke="#3f4362" stroke-width=".7"/><path d="M128.8 3.4l0.6 2.7" stroke="#3f4362" stroke-width=".7"/><path d="M282.1 8.2l-1.1 0.6" stroke="#3f4362" stroke-width=".7"/><path d="M292.4 9.3l1.3 1.3" stroke="#3f4362" stroke-width=".7"/><path d="M157.1 5.3l1.8 0.4" stroke="#3f4362" stroke-width=".7"/><path d="M78.7 1.4l-2.4 0.2" stroke="#5d6286" stroke-width=".7"/><path d="M287.6 6.3l-2.2 1.5" stroke="#3f4362" stroke-width=".7"/><path d="M81.8 6.4l1.5 1.7" stroke="#5d6286" stroke-width=".7"/><path d="M136.3 5.4l-2.1 0.5" stroke="#8288ab" stroke-width=".7"/><path d="M192.6 4.3l-1.6 0.3" stroke="#3f4362" stroke-width=".7"/><path d="M221.6 1.2l-0.8 2.6" stroke="#3f4362" stroke-width=".7"/><path d="M135.2 4.7l-0.2 1.4" stroke="#8288ab" stroke-width=".7"/><path d="M104.0 2.9l0.5 1.6" stroke="#8288ab" stroke-width=".7"/><path d="M94.0 5.5l-1.9 1.0" stroke="#5d6286" stroke-width=".7"/><path d="M204.0 6.5l1.9 1.4" stroke="#3f4362" stroke-width=".7"/><path d="M199.0 6.1l0.2 1.7" stroke="#8288ab" stroke-width=".7"/><path d="M124.5 5.1l0.8 2.0" stroke="#8288ab" stroke-width=".7"/><path d="M154.4 8.6l1.5 1.4" stroke="#3f4362" stroke-width=".7"/><path d="M138.9 9.9l1.5 1.9" stroke="#8288ab" stroke-width=".7"/><path d="M89.2 8.7l0.2 1.3" stroke="#5d6286" stroke-width=".7"/><path d="M162.4 4.4l-0.9 1.0" stroke="#8288ab" stroke-width=".7"/><path d="M292.7 7.4l1.5 0.8" stroke="#3f4362" stroke-width=".7"/><path d="M228.0 6.2l-2.2 1.1" stroke="#3f4362" stroke-width=".7"/><path d="M242.4 7.4l-1.4 1.3" stroke="#3f4362" stroke-width=".7"/><path d="M235.5 9.1l2.4 1.0" stroke="#8288ab" stroke-width=".7"/><path d="M248.6 5.9l0.0 2.7" stroke="#3f4362" stroke-width=".7"/><path d="M169.3 7.8l-2.0 0.8" stroke="#3f4362" stroke-width=".7"/><path d="M177.1 4.6l-1.1 1.3" stroke="#3f4362" stroke-width=".7"/><path d="M200.6 3.8l1.3 2.1" stroke="#3f4362" stroke-width=".7"/><path d="M187.9 4.4l1.4 0.9" stroke="#8288ab" stroke-width=".7"/><path d="M205.2 5.8l2.6 0.7" stroke="#3f4362" stroke-width=".7"/><path d="M266.3 8.4l-1.5 0.2" stroke="#3f4362" stroke-width=".7"/><path d="M281.6 0.1l2.1 0.3" stroke="#3f4362" stroke-width=".7"/><path d="M283.8 7.7l-0.3 2.8" stroke="#3f4362" stroke-width=".7"/><path d="M191.9 6.9l0.6 1.7" stroke="#3f4362" stroke-width=".7"/><path d="M154.1 9.5l-1.1 1.7" stroke="#8288ab" stroke-width=".7"/><path d="M159.4 4.0l-0.4 2.1" stroke="#3f4362" stroke-width=".7"/><path d="M293.9 4.9l0.4 2.2" stroke="#3f4362" stroke-width=".7"/><path d="M152.3 5.3l-1.2 0.8" stroke="#3f4362" stroke-width=".7"/><path d="M297.1 8.3l-0.1 1.4" stroke="#3f4362" stroke-width=".7"/><path d="M231.3 8.2l-2.6 0.1" stroke="#3f4362" stroke-width=".7"/><path d="M109.7 2.9l-0.1 2.0" stroke="#8288ab" stroke-width=".7"/><path d="M115.6 6.3l-0.6 1.7" stroke="#3f4362" stroke-width=".7"/><path d="M219.1 0.4l0.7 2.4" stroke="#3f4362" stroke-width=".7"/><path d="M231.5 0.0l1.5 2.1" stroke="#3f4362" stroke-width=".7"/><path d="M226.3 2.0l0.0 2.1" stroke="#8288ab" stroke-width=".7"/><path d="M221.5 5.3l-2.1 0.0" stroke="#3f4362" stroke-width=".7"/><path d="M101.7 1.6l-1.0 0.9" stroke="#5d6286" stroke-width=".7"/><path d="M96.8 1.7l-0.2 2.5" stroke="#5d6286" stroke-width=".7"/><path d="M213.8 8.1l1.2 0.2" stroke="#3f4362" stroke-width=".7"/><path d="M147.6 7.2l0.7 1.3" stroke="#8288ab" stroke-width=".7"/><path d="M96.7 9.0l-0.4 1.7" stroke="#5d6286" stroke-width=".7"/><path d="M176.6 3.9l2.6 0.4" stroke="#3f4362" stroke-width=".7"/><path d="M292.8 4.4l-0.6 1.5" stroke="#8288ab" stroke-width=".7"/><path d="M286.2 8.5l1.4 2.2" stroke="#3f4362" stroke-width=".7"/><path d="M143.2 6.0l-2.0 0.2" stroke="#3f4362" stroke-width=".7"/><path d="M129.4 3.9l-1.0 1.2" stroke="#3f4362" stroke-width=".7"/><path d="M273.6 4.8l-1.3 1.0" stroke="#8288ab" stroke-width=".7"/><path d="M155.7 1.9l-1.7 0.1" stroke="#3f4362" stroke-width=".7"/><path d="M100.2 5.3l0.6 1.7" stroke="#5d6286" stroke-width=".7"/><path d="M88.9 1.2l-1.5 0.9" stroke="#5d6286" stroke-width=".7"/><path d="M129.8 1.9l1.0 1.2" stroke="#8288ab" stroke-width=".7"/><path d="M225.5 3.4l2.1 1.1" stroke="#8288ab" stroke-width=".7"/><path d="M135.5 8.4l1.8 0.7" stroke="#3f4362" stroke-width=".7"/><path d="M257.5 1.6l1.1 2.1" stroke="#3f4362" stroke-width=".7"/><path d="M292.5 2.1l-2.0 0.3" stroke="#8288ab" stroke-width=".7"/><path d="M177.2 1.3l-1.0 1.3" stroke="#3f4362" stroke-width=".7"/><path d="M208.0 3.7l1.6 1.5" stroke="#8288ab" stroke-width=".7"/><path d="M272.9 1.2l-0.1 2.1" stroke="#8288ab" stroke-width=".7"/><path d="M250.0 3.8l-1.0 1.9" stroke="#3f4362" stroke-width=".7"/><path d="M162.9 0.9l2.2 1.4" stroke="#3f4362" stroke-width=".7"/><path d="M225.1 1.1l-0.3 1.7" stroke="#3f4362" stroke-width=".7"/><path d="M141.7 0.7l0.9 1.3" stroke="#8288ab" stroke-width=".7"/><path d="M237.4 2.8l0.8 2.5" stroke="#3f4362" stroke-width=".7"/><path d="M275.3 8.6l1.5 0.7" stroke="#8288ab" stroke-width=".7"/><path d="M229.0 6.6l0.8 1.7" stroke="#3f4362" stroke-width=".7"/><path d="M233.4 2.5l-1.6 0.8" stroke="#3f4362" stroke-width=".7"/><path d="M115.4 1.2l-2.3 0.6" stroke="#3f4362" stroke-width=".7"/><path d="M83.2 0.4l1.3 0.7" stroke="#5d6286" stroke-width=".7"/><path d="M143.1 3.8l1.7 0.2" stroke="#3f4362" stroke-width=".7"/><path d="M115.0 8.4l-0.5 2.3" stroke="#8288ab" stroke-width=".7"/><path d="M173.2 6.8l0.5 1.1" stroke="#3f4362" stroke-width=".7"/><path d="M251.0 2.9l2.5 0.3" stroke="#3f4362" stroke-width=".7"/><path d="M84.8 2.4l2.3 0.8" stroke="#5d6286" stroke-width=".7"/><path d="M121.9 9.1l-0.9 0.9" stroke="#3f4362" stroke-width=".7"/><path d="M163.7 7.5l-1.4 0.8" stroke="#8288ab" stroke-width=".7"/><path d="M289.8 4.2l-2.3 0.5" stroke="#3f4362" stroke-width=".7"/><path d="M263.2 6.3l0.2 1.3" stroke="#3f4362" stroke-width=".7"/><path d="M171.7 5.1l-1.4 0.3" stroke="#3f4362" stroke-width=".7"/><path d="M84.0 7.0l-1.3 0.9" stroke="#5d6286" stroke-width=".7"/><path d="M198.6 9.7l-0.9 1.9" stroke="#8288ab" stroke-width=".7"/><path d="M87.5 3.6l0.4 1.5" stroke="#5d6286" stroke-width=".7"/><path d="M144.8 1.4l-1.4 1.8" stroke="#8288ab" stroke-width=".7"/><path d="M129.1 5.2l0.5 2.7" stroke="#3f4362" stroke-width=".7"/><path d="M142.3 8.8l1.9 0.9" stroke="#3f4362" stroke-width=".7"/><path d="M259.9 5.5l-1.1 1.0" stroke="#3f4362" stroke-width=".7"/><path d="M210.5 4.6l-1.9 1.7" stroke="#8288ab" stroke-width=".7"/><path d="M140.0 3.6l1.0 0.8" stroke="#8288ab" stroke-width=".7"/><path d="M118.9 7.0l0.2 1.4" stroke="#3f4362" stroke-width=".7"/><path d="M180.9 3.6l1.1 0.7" stroke="#8288ab" stroke-width=".7"/><path d="M300.2 7.5l2.3 0.6" stroke="#3f4362" stroke-width=".7"/><path d="M202.5 1.1l0.1 1.9" stroke="#8288ab" stroke-width=".7"/><path d="M197.8 0.1l-2.2 0.6" stroke="#3f4362" stroke-width=".7"/><path d="M287.2 6.5l1.1 1.1" stroke="#8288ab" stroke-width=".7"/><path d="M80.3 7.7l-1.5 0.8" stroke="#5d6286" stroke-width=".7"/><path d="M116.3 6.4l-2.4 1.2" stroke="#8288ab" stroke-width=".7"/><path d="M252.9 8.3l-1.2 1.2" stroke="#8288ab" stroke-width=".7"/><path d="M262.2 3.2l0.8 1.9" stroke="#3f4362" stroke-width=".7"/><path d="M263.6 2.4l2.1 0.3" stroke="#3f4362" stroke-width=".7"/><path d="M260.9 7.1l-2.6 0.8" stroke="#3f4362" stroke-width=".7"/><path d="M187.9 1.6l1.3 1.7" stroke="#8288ab" stroke-width=".7"/><path d="M230.9 1.6l0.5 2.7" stroke="#8288ab" stroke-width=".7"/><path d="M83.1 4.4l1.9 1.3" stroke="#5d6286" stroke-width=".7"/></g><ellipse cx="228" cy="3" rx="10" ry="4" fill="#9097b8" opacity=".35"/></g></pattern></defs><rect x="0" y="0" width="1918" height="10" fill="url(#bn)"/></svg>
<div class="abs" style="left:12px;top:106px;width:47.6px;height:18.6px;border:1px solid #c9d3d6;border-radius:2px;background:#fefefe;box-sizing:content-box;"></div>
<svg style="left:21px;top:108.5px" width="12" height="12" viewBox="0 0 12 12"><path d="M1.2 10.8L1.9 8.2L8.6 1.5L10.5 3.4L3.8 10.1Z" fill="none" stroke="#3a4548" stroke-width="1.1" stroke-linejoin="round"/><path d="M7.5 2.6L9.4 4.5" stroke="#3a4548" stroke-width="1"/></svg>
<span class="t" style="font-size:10.5px;color:#3a4548;letter-spacing:-0.592px;left:36.60px;top:111.00px;">Edit</span>
<div class="abs" style="left:68px;top:106px;width:28.8px;height:18.6px;border:1px solid #c9d3d6;border-radius:2px;background:#fefefe;"></div>
<svg style="left:78px;top:108.5px" width="12" height="12" viewBox="0 0 12 12"><path d="M3.1 3.6V1h5.8v2.6" fill="none" stroke="#3a4548" stroke-width="1.2"/><rect x=".9" y="3.7" width="10.2" height="4.9" rx="1.2" fill="none" stroke="#3a4548" stroke-width="1.2"/><rect x="3.3" y="6.6" width="5.4" height="4.2" fill="#fff" stroke="#3a4548" stroke-width="1.2"/></svg>
<span class="t" style="font-size:10px;color:#3a4548;letter-spacing:-0.348px;transform:scaleX(0.9310);left:1704.50px;top:112.00px;">Currency</span>
<div class="abs" style="left:1743px;top:106px;width:163px;height:18.6px;border:1px solid #4a6b73;border-radius:2px;background:#fff;"></div>
<span class="t" style="font-size:10.5px;color:#161513;letter-spacing:-0.678px;transform:scaleX(0.8714);left:1752.50px;top:111.00px;">EUR</span>
<svg style="left:1892.5px;top:113.5px" width="7" height="4" viewBox="0 0 7 4"><path d="M0 0h6.4L3.2 3.6z" fill="#3a4548"/></svg>
<div class="abs" style="left:1901px;top:133px;width:6px;height:907px;border-radius:3px;background:#8e8e8e;"></div>
<div class="card" style="left:12px;top:132px;width:699px;height:229px;"></div>
<svg style="left:24.5px;top:144.5px" width="12" height="12" viewBox="0 0 12 12">
<path d="M6 2.6V6.4M6 6.4L2.3 9.6M6 6.4L9.7 9.6" stroke="#3e4a4d" stroke-width="1.1" fill="none"/>
<circle cx="6" cy="1.9" r="1.25" fill="#fff" stroke="#3e4a4d" stroke-width="1"/><circle cx="1.9" cy="9.9" r="1.25" fill="#fff" stroke="#3e4a4d" stroke-width="1"/><circle cx="10.1" cy="9.9" r="1.25" fill="#fff" stroke="#3e4a4d" stroke-width="1"/></svg>
<span class="t" style="font-size:13.3px;color:#3e4a4d;letter-spacing:-0.330px;left:40.20px;top:144.00px;">Overview</span>
<svg style="left:686px;top:147px" width="13" height="12" viewBox="0 0 13 12"><path d="M1.4 3.5V0.6H4.3M8.6 0.6H11.5V3.5M11.5 7.5V10.4H8.6M4.3 10.4H1.4V7.5" fill="none" stroke="#3b4649" stroke-width="1.2"/></svg>
<span class="t" style="font-size:14.6px;color:#5f5854;letter-spacing:-0.078px;left:23.40px;top:173.00px;">Rotterdam Boathouse Scope (no baseline)</span>
<span class="t" style="font-size:10.5px;color:#434d4e;font-weight:700;letter-spacing:-0.405px;transform:scaleX(0.8353);left:24.80px;top:193.00px;">ID:</span>
<span class="t" style="font-size:10.5px;color:#2f2b28;letter-spacing:-0.528px;transform:scaleX(0.9013);left:104.20px;top:193.00px;">RBHS2</span>
<span class="t" style="font-size:10.5px;color:#434d4e;font-weight:700;letter-spacing:-0.496px;left:24.80px;top:211.00px;">Description:</span>
<span class="t" style="font-size:10.5px;color:#2f2b28;letter-spacing:-0.343px;left:104.20px;top:211.00px;">The project aims to develop a functional and sustainable boathouse for the Rotterdam Water Taxi</span>
<span class="t" style="font-size:10.5px;color:#434d4e;font-weight:700;letter-spacing:-0.582px;left:24.80px;top:228.00px;">Status:</span>
<span class="t" style="font-size:10.5px;color:#2f2b28;letter-spacing:-0.431px;left:104.20px;top:228.00px;">Active</span>
<span class="t" style="font-size:10.5px;color:#434d4e;font-weight:700;letter-spacing:-0.569px;left:24.80px;top:246.00px;">Location:</span>
<span class="t" style="font-size:10.5px;color:#2f2b28;letter-spacing:-0.472px;left:104.20px;top:246.00px;">Rotterdam Boathouse</span>
<span class="t" style="font-size:10.5px;color:#434d4e;font-weight:700;letter-spacing:-0.426px;left:24.80px;top:263.00px;">Manager:</span>
<span class="t" style="font-size:10.5px;color:#12688f;letter-spacing:-0.487px;left:104.20px;top:263.00px;">s.visser@aramgroup.com</span>
<span class="t" style="font-size:10.5px;color:#434d4e;font-weight:700;letter-spacing:-0.414px;left:24.80px;top:281.00px;">Planned Start:</span>
<span class="t" style="font-size:10.5px;color:#2f2b28;letter-spacing:-0.214px;left:104.20px;top:281.00px;">1-Dec-2027</span>
<span class="t" style="font-size:10.5px;color:#434d4e;font-weight:700;letter-spacing:-0.548px;left:24.80px;top:298.00px;">Planned Finish:</span>
<span class="t" style="font-size:10.5px;color:#2f2b28;letter-spacing:-0.133px;left:104.20px;top:298.00px;">30-Oct-2028</span>
<div class="card" style="left:722px;top:132px;width:226.5px;height:229px;"></div>
<svg style="left:735.3px;top:145.3px" width="11" height="10" viewBox="0 0 11 10"><circle cx="5.4" cy="5" r="4.3" fill="none" stroke="#5a6669" stroke-width=".95" stroke-dasharray="4.6 1.5" stroke-dashoffset="1"/><path d="M0.2 4.2h1.6M9 5.8h1.7" stroke="#5a6669" stroke-width=".9"/><text x="5.3" y="7" font-size="5.6" font-weight="700" text-anchor="middle" fill="#5a6669" font-family="Liberation Sans">2</text></svg>
<span class="t" style="font-size:13.3px;color:#3e4a4d;letter-spacing:-0.035px;left:750.30px;top:144.00px;">Activities</span>
<svg style="left:924.6px;top:147px" width="13" height="12" viewBox="0 0 13 12"><path d="M1.4 3.5V0.6H4.3M8.6 0.6H11.5V3.5M11.5 7.5V10.4H8.6M4.3 10.4H1.4V7.5" fill="none" stroke="#3b4649" stroke-width="1.2"/></svg>
<span class="t" style="font-size:72.5px;color:#6b6460;letter-spacing:-1.921px;left:737.80px;top:202.00px;">24</span>
<span class="t" style="font-size:19px;color:#6b6460;font-weight:700;letter-spacing:0.121px;left:735.50px;top:266.00px;">Activities</span>
<div class="abs" style="left:847.7px;top:204px;width:64px;height:64px;border-radius:50%;background:#22424f;"></div>
<span class="t" style="font-size:9.3px;color:#fff;font-weight:700;letter-spacing:0.130px;left:874.05px;top:232.00px;">24</span>
<div class="abs" style="left:848.5px;top:288px;width:8px;height:7.8px;background:#22424f;"></div>
<span class="t" style="font-size:10.4px;color:#2f2b28;letter-spacing:-0.338px;left:862.10px;top:287.00px;">Not Started</span>
<div class="card" style="left:959px;top:132px;width:226.5px;height:229px;"></div>
<svg style="left:972.3px;top:145.3px" width="11" height="10" viewBox="0 0 11 10"><circle cx="5.4" cy="5" r="4.3" fill="none" stroke="#5a6669" stroke-width=".95" stroke-dasharray="4.6 1.5" stroke-dashoffset="1"/><path d="M0.2 4.2h1.6M9 5.8h1.7" stroke="#5a6669" stroke-width=".9"/><text x="5.3" y="7" font-size="5.6" font-weight="700" text-anchor="middle" fill="#5a6669" font-family="Liberation Sans">2</text></svg>
<span class="t" style="font-size:13.3px;color:#3e4a4d;letter-spacing:-0.463px;left:986.30px;top:144.00px;">Risks</span>
<svg style="left:1161.6px;top:147px" width="13" height="12" viewBox="0 0 13 12"><path d="M1.4 3.5V0.6H4.3M8.6 0.6H11.5V3.5M11.5 7.5V10.4H8.6M4.3 10.4H1.4V7.5" fill="none" stroke="#3b4649" stroke-width="1.2"/></svg>
<span class="t" style="font-size:72.5px;color:#6b6460;letter-spacing:-4.399px;transform:scaleX(0.8618);left:980.99px;top:202.00px;">13</span>
<span class="t" style="font-size:19px;color:#6b6460;font-weight:700;letter-spacing:-0.733px;left:990.90px;top:266.00px;">Risks</span>
<div class="abs" style="left:1072px;top:204px;width:64px;height:64px;border-radius:50%;background:#22424f;"></div>
<span class="t" style="font-size:9.3px;color:#fff;font-weight:700;letter-spacing:0.030px;left:1098.90px;top:232.00px;">13</span>
<div class="abs" style="left:1086.0px;top:288px;width:8px;height:7.8px;background:#22424f;"></div>
<span class="t" style="font-size:10.4px;color:#2f2b28;letter-spacing:-0.513px;transform:scaleX(0.9543);left:1099.60px;top:287.00px;">Open</span>
<div class="card" style="left:1196px;top:132px;width:226.2px;height:229px;"></div>
<svg style="left:1209.3px;top:145.3px" width="11" height="10" viewBox="0 0 11 10"><circle cx="5.4" cy="5" r="4.3" fill="none" stroke="#5a6669" stroke-width=".95" stroke-dasharray="4.6 1.5" stroke-dashoffset="1"/><path d="M0.2 4.2h1.6M9 5.8h1.7" stroke="#5a6669" stroke-width=".9"/><text x="5.3" y="7" font-size="5.6" font-weight="700" text-anchor="middle" fill="#5a6669" font-family="Liberation Sans">2</text></svg>
<span class="t" style="font-size:13.3px;color:#3e4a4d;letter-spacing:-0.456px;left:1224.30px;top:144.00px;">Scope Items</span>
<span class="t" style="font-size:72.5px;color:#6b6460;letter-spacing:-5.921px;left:1270.80px;top:202.00px;">32</span>
<span class="t" style="font-size:19px;color:#6b6460;font-weight:700;letter-spacing:-0.266px;left:1253.15px;top:266.00px;">Scope Items</span>
<div class="card" style="left:1433px;top:132px;width:226.2px;height:229px;"></div>
<svg style="left:1446.3px;top:145.3px" width="11" height="10" viewBox="0 0 11 10"><circle cx="5.4" cy="5" r="4.3" fill="none" stroke="#5a6669" stroke-width=".95" stroke-dasharray="4.6 1.5" stroke-dashoffset="1"/><path d="M0.2 4.2h1.6M9 5.8h1.7" stroke="#5a6669" stroke-width=".9"/><text x="5.3" y="7" font-size="5.6" font-weight="700" text-anchor="middle" fill="#5a6669" font-family="Liberation Sans">2</text></svg>
<span class="t" style="font-size:13.3px;color:#3e4a4d;letter-spacing:-0.147px;left:1461.30px;top:144.00px;">Assignments</span>
<span class="t" style="font-size:72.5px;color:#6b6460;letter-spacing:-4.321px;left:1506.00px;top:202.00px;">25</span>
<span class="t" style="font-size:19px;color:#6b6460;font-weight:700;letter-spacing:-0.174px;left:1486.00px;top:266.00px;">Assignments</span>
<div class="card" style="left:1670px;top:132px;width:225.5px;height:229px;"></div>
<svg style="left:1683.3px;top:145.3px" width="11" height="10" viewBox="0 0 11 10"><circle cx="5.4" cy="5" r="4.3" fill="none" stroke="#5a6669" stroke-width=".95" stroke-dasharray="4.6 1.5" stroke-dashoffset="1"/><path d="M0.2 4.2h1.6M9 5.8h1.7" stroke="#5a6669" stroke-width=".9"/><text x="5.3" y="7" font-size="5.6" font-weight="700" text-anchor="middle" fill="#5a6669" font-family="Liberation Sans">2</text></svg>
<span class="t" style="font-size:13.3px;color:#3e4a4d;letter-spacing:-0.477px;left:1698.30px;top:144.00px;">Work Packages</span>
<span class="t" style="font-size:72.5px;color:#6b6460;letter-spacing:-4.399px;transform:scaleX(0.9286);left:1744.86px;top:202.00px;">16</span>
<span class="t" style="font-size:19px;color:#6b6460;font-weight:700;letter-spacing:-0.296px;left:1713.50px;top:266.00px;">Work Packages</span>
<div class="card" style="left:12px;top:370px;width:463px;height:346px;"></div>
<svg style="left:24.4px;top:382.8px" width="11.7" height="11.7" viewBox="0 0 12 12"><path d="M4.6 1.5A4.6 4.6 0 1 0 10.5 7.4" fill="none" stroke="#3e4a4d" stroke-width="1.1"/><path d="M6.4 0.8V5.6H11.2A4.8 4.8 0 0 0 6.4 0.8Z" fill="none" stroke="#3e4a4d" stroke-width="1.1" stroke-linejoin="round"/></svg>
<span class="t" style="font-size:13.3px;color:#3e4a4d;letter-spacing:-0.442px;left:39.20px;top:382.00px;">Post Response Cost</span>
<svg style="left:450px;top:385px" width="13" height="12" viewBox="0 0 13 12"><path d="M1.4 3.5V0.6H4.3M8.6 0.6H11.5V3.5M11.5 7.5V10.4H8.6M4.3 10.4H1.4V7.5" fill="none" stroke="#3b4649" stroke-width="1.2"/></svg>
<div class="abs" style="left:63px;top:421.2px;width:7.8px;height:7.8px;background:#c6cfeb;"></div>
<span class="t" style="font-size:10.5px;color:#2f2b28;letter-spacing:-0.342px;left:77.00px;top:420.00px;">Legal/Regulatory</span>
<div class="abs" style="left:161px;top:421.2px;width:7.8px;height:7.8px;background:#fff29e;"></div>
<span class="t" style="font-size:10.5px;color:#2f2b28;letter-spacing:-0.375px;left:175.00px;top:420.00px;">Organizational</span>
<div class="abs" style="left:246px;top:421.2px;width:7.8px;height:7.8px;background:#fbd482;"></div>
<span class="t" style="font-size:10.5px;color:#2f2b28;letter-spacing:-0.204px;left:260.00px;top:420.00px;">Political/Administrative</span>
<div class="abs" style="left:369px;top:421.2px;width:7.8px;height:7.8px;background:#9adcd6;"></div>
<span class="t" style="font-size:10.5px;color:#2f2b28;letter-spacing:-0.430px;left:383.00px;top:420.00px;">Technical</span>
<div class="card" style="left:485.5px;top:370px;width:462.5px;height:346px;"></div>
<svg style="left:498.4px;top:382.8px" width="11.7" height="11.7" viewBox="0 0 12 12"><path d="M4.6 1.5A4.6 4.6 0 1 0 10.5 7.4" fill="none" stroke="#3e4a4d" stroke-width="1.1"/><path d="M6.4 0.8V5.6H11.2A4.8 4.8 0 0 0 6.4 0.8Z" fill="none" stroke="#3e4a4d" stroke-width="1.1" stroke-linejoin="round"/></svg>
<span class="t" style="font-size:13.3px;color:#3e4a4d;letter-spacing:-0.330px;left:513.20px;top:382.00px;">Post Response Schedule</span>
<svg style="left:924.0px;top:385px" width="13" height="12" viewBox="0 0 13 12"><path d="M1.4 3.5V0.6H4.3M8.6 0.6H11.5V3.5M11.5 7.5V10.4H8.6M4.3 10.4H1.4V7.5" fill="none" stroke="#3b4649" stroke-width="1.2"/></svg>
<div class="abs" style="left:537.0px;top:421.2px;width:7.8px;height:7.8px;background:#c6cfeb;"></div>
<span class="t" style="font-size:10.5px;color:#2f2b28;letter-spacing:-0.342px;left:551.00px;top:420.00px;">Legal/Regulatory</span>
<div class="abs" style="left:635.0px;top:421.2px;width:7.8px;height:7.8px;background:#fff29e;"></div>
<span class="t" style="font-size:10.5px;color:#2f2b28;letter-spacing:-0.375px;left:649.00px;top:420.00px;">Organizational</span>
<div class="abs" style="left:720.0px;top:421.2px;width:7.8px;height:7.8px;background:#fbd482;"></div>
<span class="t" style="font-size:10.5px;color:#2f2b28;letter-spacing:-0.204px;left:734.00px;top:420.00px;">Political/Administrative</span>
<div class="abs" style="left:843.0px;top:421.2px;width:7.8px;height:7.8px;background:#9adcd6;"></div>
<span class="t" style="font-size:10.5px;color:#2f2b28;letter-spacing:-0.430px;left:857.00px;top:420.00px;">Technical</span>
<svg style="left:0;top:0" width="1918" height="1078" viewBox="0 0 1918 1078"><path d="M243 569L243.00 471.90A97.1 97.1 0 0 1 338.10 588.63Z" fill="#c6cfeb" stroke="#fff" stroke-width="1.2" stroke-linejoin="round"/><path d="M243 569L338.10 588.63A97.1 97.1 0 0 1 178.96 641.99Z" fill="#fff29e" stroke="#fff" stroke-width="1.2" stroke-linejoin="round"/><path d="M243 569L178.96 641.99A97.1 97.1 0 0 1 163.44 513.33Z" fill="#fbd482" stroke="#fff" stroke-width="1.2" stroke-linejoin="round"/><path d="M243 569L163.44 513.33A97.1 97.1 0 0 1 243.00 471.90Z" fill="#9adcd6" stroke="#fff" stroke-width="1.2" stroke-linejoin="round"/><path d="M717.2 569L717.20 471.90A97.1 97.1 0 0 1 801.29 520.45Z" fill="#c6cfeb" stroke="#fff" stroke-width="1.2" stroke-linejoin="round"/><path d="M717.2 569L801.29 520.45A97.1 97.1 0 0 1 765.75 653.09Z" fill="#fff29e" stroke="#fff" stroke-width="1.2" stroke-linejoin="round"/><path d="M717.2 569L765.75 653.09A97.1 97.1 0 0 1 668.65 653.09Z" fill="#fbd482" stroke="#fff" stroke-width="1.2" stroke-linejoin="round"/><path d="M717.2 569L668.65 653.09A97.1 97.1 0 0 1 717.20 471.90Z" fill="#9adcd6" stroke="#fff" stroke-width="1.2" stroke-linejoin="round"/></svg>
<span class="t" style="font-size:10.4px;color:#161513;letter-spacing:-0.473px;left:102.90px;top:470.00px;">Technical : €11.500,00</span>
<span class="t" style="font-size:10.4px;color:#161513;letter-spacing:-0.330px;left:321.40px;top:495.00px;">Legal/Regulatory : €21.250,00</span>
<span class="t" style="font-size:10.4px;color:#161513;letter-spacing:-0.129px;left:32.70px;top:572.00px;">Political/Administrative :</span>
<span class="t" style="font-size:10.4px;color:#161513;letter-spacing:-0.525px;left:90.80px;top:584.00px;">€17.500,00</span>
<span class="t" style="font-size:10.4px;color:#161513;letter-spacing:-0.269px;left:275.60px;top:667.00px;">Organizational : €25.000,00</span>
<span class="t" style="font-size:10.4px;color:#161513;letter-spacing:-0.285px;left:767.30px;top:472.00px;">Legal/Regulatory : 2</span>
<span class="t" style="font-size:10.4px;color:#161513;letter-spacing:-0.465px;left:630.30px;top:547.00px;">Technical : 5</span>
<span class="t" style="font-size:10.4px;color:#161513;letter-spacing:-0.368px;left:732.90px;top:580.00px;">Organizational : 3</span>
<span class="t" style="font-size:10.4px;color:#161513;letter-spacing:-0.226px;left:717.50px;top:672.00px;">Political/Administrative : 2</span>
<div class="card" style="left:959px;top:370px;width:934.5px;height:346px;"></div>
<svg style="left:972.5px;top:383px" width="9" height="11" viewBox="0 0 9 11"><path d="M4.5 10.4C2.2 7.6 .9 5.8 .9 4.1A3.6 3.6 0 0 1 8.1 4.1C8.1 5.8 6.8 7.6 4.5 10.4Z" fill="none" stroke="#3e4a4d" stroke-width="1"/><circle cx="4.5" cy="4" r="1.25" fill="#3e4a4d"/></svg>
<span class="t" style="font-size:13.3px;color:#3e4a4d;letter-spacing:-0.260px;left:985.80px;top:382.00px;">Map Viewer</span>
<svg style="left:1869px;top:385px" width="13" height="12" viewBox="0 0 13 12"><path d="M1.4 3.5V0.6H4.3M8.6 0.6H11.5V3.5M11.5 7.5V10.4H8.6M4.3 10.4H1.4V7.5" fill="none" stroke="#3b4649" stroke-width="1.2"/></svg>
<svg style="left:971px;top:410px;overflow:hidden" width="911" height="293.6" viewBox="971 410 911 293.6" font-family="Liberation Sans, sans-serif"><rect x="971" y="410" width="911" height="294" fill="#8bc9ef"/><path d="M1383.6 409.0L1375.3 428.7L1361.3 446.8L1340.5 466.2L1325.2 487.1L1311.2 505.2L1295.9 521.9L1295.8 522.6L1289.6 525.7L1284.4 524.0L1276.4 521.7L1268.5 520.0L1261.4 521.3L1256.2 527.9L1254.8 533.2L1257.0 539.4L1259.7 544.7L1261.4 550.8L1264.1 552.6L1270.3 553.5L1276.4 553.0L1280.8 554.4L1277.3 561.4L1274.7 565.8L1277.3 570.2L1282.6 578.2L1285.2 584.3L1287.9 589.6L1276.1 599.1L1272.5 593.1L1271.3 588.3L1266.5 585.9L1254.4 589.5L1242.3 594.3L1230.3 599.1L1223.1 606.3L1226.7 613.6L1225.5 623.2L1215.8 629.3L1214.6 637.7L1203.8 636.5L1191.7 637.7L1180.9 642.5L1174.8 649.8L1173.6 659.4L1178.4 669.0L1183.4 669.2L1195.1 666.6L1205.0 657.5L1213.4 656.6L1223.4 664.2L1230.0 671.7L1233.4 679.2L1236.7 684.2L1243.4 686.6L1248.4 685.1L1253.4 690.0L1257.5 694.2L1266.0 693.4L1274.3 690.9L1286.7 686.6L1293.5 681.7L1295.2 685.1L1298.4 690.0L1303.5 693.4L1308.7 696.2L1306.2 706.4L1890.0 712.0L1890.0 405.0Z" fill="#f1efeb" /><path d="M1243.9 706.3C1234.1 705.3 1247.5 702.2 1250.1 700.8C1252.7 699.3 1255.8 698.4 1259.5 697.7C1263.1 696.9 1267.8 696.3 1272.0 696.4C1276.2 696.5 1280.6 698.1 1284.5 698.3C1288.4 698.5 1292.2 698.2 1295.5 697.7C1298.7 697.1 1301.9 694.8 1304.1 694.8C1306.2 694.8 1307.5 695.7 1308.3 697.7C1309.1 699.6 1319.4 704.8 1308.6 706.3C1297.9 707.7 1253.6 707.2 1243.9 706.3Z" fill="#f1efeb" /><path d="M1203.8 705.8L1207.4 701.4L1218.2 699.9L1232.7 701.8L1237.5 705.8Z" fill="#f1efeb" /><path d="M1764.1 409.9C1768.3 405.8 1785.0 408.1 1789.1 409.9C1793.3 411.6 1791.9 415.8 1789.1 420.3C1786.3 424.8 1776.6 434.7 1772.4 437.0C1768.3 439.3 1765.5 438.7 1764.1 434.2C1762.7 429.7 1759.9 413.9 1764.1 409.9Z" fill="#dbe9d0" /><path d="M1789.1 409.9C1798.9 408.1 1839.7 407.9 1847.6 409.9C1855.4 411.8 1840.6 418.6 1836.4 421.7C1832.3 424.8 1826.2 423.8 1822.5 428.7C1818.8 433.5 1816.5 447.0 1814.2 450.9C1811.9 454.9 1809.5 454.6 1808.6 452.3C1807.7 450.0 1810.0 441.2 1808.6 437.0C1807.2 432.8 1803.5 430.0 1800.3 427.3C1797.0 424.5 1791.0 423.2 1789.1 420.3C1787.3 417.4 1779.4 411.6 1789.1 409.9Z" fill="#dbe9d0" /><path d="M1783.6 463.4C1784.5 460.2 1785.0 456.8 1789.1 455.1C1793.3 453.3 1804.4 453.6 1808.6 453.0C1812.8 452.4 1812.8 444.8 1814.2 451.6C1815.6 458.4 1819.7 486.3 1817.0 494.0C1814.2 501.8 1802.1 499.1 1797.5 498.2C1792.8 497.3 1791.4 492.4 1789.1 488.5C1786.8 484.5 1784.5 478.7 1783.6 474.6C1782.6 470.4 1782.6 466.7 1783.6 463.4Z" fill="#dbe9d0" /><path d="M1814.2 451.6C1817.4 444.7 1833.2 449.6 1836.4 452.3C1839.7 455.0 1834.8 461.1 1833.7 467.6C1832.5 474.1 1832.3 486.9 1829.5 491.3C1826.7 495.7 1819.5 500.7 1817.0 494.0C1814.4 487.4 1810.9 458.6 1814.2 451.6Z" fill="#dbe9d0" /><path d="M1836.4 453.7C1838.2 450.4 1841.8 449.3 1844.8 446.7C1847.8 444.2 1850.8 437.2 1854.5 438.4C1858.2 439.6 1863.1 447.7 1867.0 453.7C1871.0 459.7 1875.9 468.3 1878.2 474.6C1880.5 480.8 1882.8 486.6 1881.0 491.3C1879.1 495.9 1873.1 498.9 1867.0 502.4C1861.0 505.9 1850.6 511.7 1844.8 512.1C1839.0 512.6 1834.6 509.1 1832.3 505.2C1829.9 501.2 1830.5 495.0 1830.9 488.5C1831.2 482.0 1833.4 472.0 1834.3 466.2C1835.3 460.4 1834.7 456.9 1836.4 453.7Z" fill="#dbe9d0" /><path d="M1741.8 466.2C1742.8 463.4 1748.3 460.7 1753.0 460.7C1757.6 460.7 1765.9 464.6 1769.7 466.2C1773.4 467.8 1774.1 465.8 1775.2 470.4C1776.4 475.0 1779.4 490.6 1776.6 494.0C1773.8 497.5 1762.0 493.1 1758.5 491.3C1755.0 489.4 1757.6 485.2 1755.7 482.9C1753.9 480.6 1749.7 480.1 1747.4 477.3C1745.1 474.6 1740.9 469.0 1741.8 466.2Z" fill="#dbe9d0" /><path d="M1755.7 496.8C1758.3 495.0 1769.7 498.7 1775.2 499.6C1780.8 500.5 1788.0 499.6 1789.1 502.4C1790.3 505.2 1785.4 512.4 1782.2 516.3C1778.9 520.2 1773.1 524.7 1769.7 526.0C1766.2 527.4 1762.9 527.2 1761.3 524.7C1759.7 522.1 1760.8 515.4 1759.9 510.7C1759.0 506.1 1753.2 498.7 1755.7 496.8Z" fill="#dbe9d0" /><path d="M1663.9 457.9C1665.5 455.6 1673.0 455.6 1675.0 457.9C1677.1 460.2 1678.1 469.5 1676.4 471.8C1674.8 474.1 1667.4 474.1 1665.3 471.8C1663.2 469.5 1662.3 460.2 1663.9 457.9Z" fill="#dbe9d0" /><path d="M1658.3 487.1C1661.1 485.7 1673.2 486.9 1677.8 488.5C1682.5 490.1 1686.6 494.5 1686.2 496.8C1685.7 499.1 1679.2 502.4 1675.0 502.4C1670.9 502.4 1663.9 499.4 1661.1 496.8C1658.3 494.3 1655.6 488.5 1658.3 487.1Z" fill="#dbe9d0" /><path d="M1686.2 496.8C1689.9 494.0 1710.8 491.7 1716.8 494.0C1722.8 496.4 1723.5 506.6 1722.3 510.7C1721.2 514.9 1714.5 519.1 1709.8 519.1C1705.2 519.1 1698.5 514.4 1694.5 510.7C1690.6 507.0 1682.5 499.6 1686.2 496.8Z" fill="#dbe9d0" /><path d="M1650.0 444.0C1651.9 441.9 1659.0 443.7 1661.1 445.3C1663.2 447.0 1664.4 451.6 1662.5 453.7C1660.7 455.8 1652.1 459.5 1650.0 457.9C1647.9 456.2 1648.1 446.0 1650.0 444.0Z" fill="#dbe9d0" /><path d="M1705.7 437.0C1707.7 436.1 1717.2 437.0 1719.6 438.4C1721.9 439.8 1721.7 444.4 1719.6 445.3C1717.5 446.3 1709.4 445.3 1707.0 444.0C1704.7 442.6 1703.6 437.9 1705.7 437.0Z" fill="#dbe9d0" /><path d="M1612.0 416.1C1615.7 411.7 1632.9 408.2 1637.0 413.3C1641.2 418.4 1639.1 440.5 1637.0 446.7C1635.0 453.0 1628.2 452.1 1624.5 450.9C1620.8 449.8 1616.9 445.6 1614.8 439.8C1612.7 434.0 1608.3 420.5 1612.0 416.1Z" fill="#dbe9d0" /><path d="M1628.7 460.7C1633.4 457.9 1654.8 454.2 1660.0 457.9C1665.2 461.6 1662.9 478.7 1660.0 482.9C1657.1 487.1 1647.4 484.3 1642.6 482.9C1637.9 481.5 1633.8 478.3 1631.5 474.6C1629.2 470.9 1623.9 463.4 1628.7 460.7Z" fill="#dbe9d0" /><path d="M1563.3 457.9C1564.9 456.7 1573.0 458.6 1574.4 460.7C1575.8 462.7 1573.3 469.2 1571.7 470.4C1570.0 471.6 1566.1 469.7 1564.7 467.6C1563.3 465.5 1561.7 459.0 1563.3 457.9Z" fill="#dbe9d0" /><path d="M1725.6 640.0C1729.8 637.0 1747.9 636.5 1752.3 640.0C1756.8 643.4 1753.3 656.0 1752.3 660.7C1751.3 665.4 1749.6 666.9 1746.4 668.1C1743.2 669.4 1736.2 669.9 1733.0 668.1C1729.8 666.4 1728.3 662.5 1727.1 657.8C1725.9 653.1 1721.4 642.9 1725.6 640.0Z" fill="#dbe9d0" /><path d="M1808.7 604.3C1812.2 601.9 1825.5 600.4 1829.5 604.3C1833.4 608.3 1834.4 623.6 1832.4 628.1C1830.5 632.5 1821.6 632.5 1817.6 631.1C1813.6 629.6 1810.2 623.6 1808.7 619.2C1807.2 614.7 1805.2 606.8 1808.7 604.3Z" fill="#dbe9d0" /><path d="M1838.4 619.2C1845.6 615.7 1874.6 606.3 1881.8 613.2C1889.1 620.2 1885.4 654.8 1881.8 660.7C1878.3 666.7 1867.9 653.3 1860.6 648.9C1853.4 644.4 1842.1 639.0 1838.4 634.0C1834.7 629.1 1831.1 622.6 1838.4 619.2Z" fill="#dbe9d0" /><path d="M1845.8 672.6C1848.8 670.6 1862.0 674.6 1868.0 675.6C1874.1 676.6 1879.5 676.6 1881.8 678.5C1884.1 680.5 1887.1 685.9 1881.8 687.4C1876.6 688.9 1856.2 689.9 1850.2 687.4C1844.2 685.0 1842.8 674.6 1845.8 672.6Z" fill="#dbe9d0" /><path d="M1764.2 640.0C1766.2 637.5 1778.5 640.9 1785.0 642.9C1791.4 644.9 1801.3 648.9 1802.8 651.8C1804.2 654.8 1798.8 659.7 1793.9 660.7C1788.9 661.7 1778.0 661.2 1773.1 657.8C1768.1 654.3 1762.2 642.4 1764.2 640.0Z" fill="#dbe9d0" /><path d="M1500.0 628.1C1502.5 624.6 1512.4 624.6 1514.8 628.1C1517.3 631.5 1517.3 645.4 1514.8 648.9C1512.4 652.3 1502.5 652.3 1500.0 648.9C1497.5 645.4 1497.5 631.5 1500.0 628.1Z" fill="#dbe9d0" /><path d="M1577.2 666.7C1586.1 663.2 1623.6 666.2 1633.5 669.6C1643.4 673.1 1640.0 683.2 1636.5 687.4C1633.0 691.6 1622.2 694.4 1612.8 694.9C1603.4 695.3 1586.1 695.1 1580.1 690.4C1574.2 685.7 1568.2 670.1 1577.2 666.7Z" fill="#dbe9d0" /><path d="M1565.3 619.2C1566.3 617.7 1570.2 617.7 1571.2 619.2C1572.2 620.7 1572.2 626.6 1571.2 628.1C1570.2 629.6 1566.3 629.6 1565.3 628.1C1564.3 626.6 1564.3 620.7 1565.3 619.2Z" fill="#dbe9d0" /><path d="M1485.5 614.8C1489.8 612.0 1505.9 603.3 1510.0 608.8C1514.1 614.2 1512.3 641.1 1510.0 647.3C1507.7 653.6 1501.3 647.3 1496.4 646.1C1491.5 644.9 1484.3 641.9 1480.7 640.1C1477.1 638.3 1474.1 637.7 1474.7 635.3C1475.3 632.9 1482.5 629.1 1484.3 625.6C1486.1 622.2 1481.3 617.6 1485.5 614.8Z" fill="#dbe9d0" /><path d="M1282.6 554.4C1285.2 552.6 1292.3 550.2 1294.9 550.8C1297.6 551.4 1299.1 555.2 1298.5 557.9C1297.9 560.5 1294.4 564.9 1291.4 566.7C1288.5 568.5 1282.9 569.3 1280.8 568.5C1278.8 567.6 1278.8 563.8 1279.1 561.4C1279.4 559.1 1280.0 556.1 1282.6 554.4Z" fill="#dbe9d0" /><path d="M1355.8 450.9C1357.4 448.6 1366.9 445.6 1369.7 446.8C1372.5 447.9 1374.1 455.6 1372.5 457.9C1370.9 460.2 1362.7 461.8 1360.0 460.7C1357.2 459.5 1354.2 453.2 1355.8 450.9Z" fill="#dbe9d0" /><path d="M1380.8 446.8C1382.2 445.6 1389.2 446.3 1390.6 448.1C1392.0 450.0 1390.6 456.7 1389.2 457.9C1387.8 459.0 1383.6 457.0 1382.2 455.1C1380.8 453.2 1379.4 447.9 1380.8 446.8Z" fill="#dbe9d0" /><path d="M1772.4 438.4C1774.8 433.8 1783.3 422.9 1789.1 423.1C1794.9 423.3 1804.2 434.9 1807.2 439.8C1810.2 444.7 1810.2 450.0 1807.2 452.3C1804.2 454.6 1793.3 451.8 1789.1 453.7C1785.0 455.6 1784.5 463.9 1782.2 463.4C1779.9 463.0 1776.8 455.1 1775.2 450.9C1773.6 446.7 1770.1 443.0 1772.4 438.4Z" fill="#f1efeb" /><path d="M1836.4 477.3C1839.7 474.6 1852.2 469.9 1855.9 470.4C1859.6 470.9 1860.1 477.1 1858.7 480.1C1857.3 483.1 1851.3 487.3 1847.6 488.5C1843.9 489.6 1838.3 488.9 1836.4 487.1C1834.6 485.2 1833.2 480.1 1836.4 477.3Z" fill="#f1efeb" /><path d="M1750.2 463.4C1751.6 462.3 1758.5 465.1 1759.9 467.6C1761.3 470.2 1759.9 477.6 1758.5 478.7C1757.1 479.9 1753.0 477.1 1751.6 474.6C1750.2 472.0 1748.8 464.6 1750.2 463.4Z" fill="#f1efeb" /><path d="M1265.9 526.2L1284.4 524.4L1293.2 529.7L1296.7 534.1L1302.0 535.9L1310.8 542.0L1303.8 542.9L1296.7 542.0L1289.6 543.8L1280.8 546.4L1272.0 547.3L1264.1 542.9L1261.4 542.0L1265.0 531.4L1270.3 527.0Z" fill="#fbdcb9" /><path d="M1257.9 527.0L1264.1 522.2L1272.0 522.6L1280.8 526.2L1279.1 528.8L1270.3 527.0L1265.0 531.4L1265.9 540.3L1261.4 542.9L1257.0 534.1Z" fill="#c6c6c2" /><path d="M1293.4 527.5L1310.6 537.9L1306.1 542.4L1292.3 534.4Z" fill="#fbdcb9" /><path d="M1312.9 545.9L1327.9 553.9L1324.4 559.6L1314.1 551.6Z" fill="#fbdcb9" /><path d="M1333.6 564.2L1343.9 563.7L1342.2 573.4L1335.9 571.1Z" fill="#fbdcb9" /><path d="M1354.2 565.4L1377.2 565.4L1377.2 573.4L1358.8 573.4Z" fill="#fbdcb9" /><path d="M1312.6 543.8L1321.4 546.4L1332.0 555.2L1339.0 561.4L1332.0 561.4L1323.1 554.4L1314.3 547.3Z" fill="#fbdcb9" /><path d="M1333.7 563.2L1345.0 566.7L1345.0 572.0L1336.4 568.5Z" fill="#fbdcb9" /><path d="M1424.0 659.4L1445.7 658.2L1445.7 666.6L1438.5 671.5L1428.9 673.9Z" fill="#fbdcb9" /><path d="M1284.4 521.7L1295.8 522.6L1303.8 527.0L1314.3 535.0L1323.1 541.1L1332.0 547.3L1345.0 557.0L1345.0 563.2L1337.2 558.8L1328.4 552.6L1319.6 546.4L1310.8 540.3L1302.0 534.1L1293.2 528.8Z" fill="#8bc9ef" /><path d="M1274.7 531.4L1287.9 529.7L1288.8 532.3L1276.4 534.1Z" fill="#a3d2f4" /><path d="M1276.4 537.6L1287.9 535.9L1288.8 539.4L1278.2 541.1Z" fill="#a3d2f4" /><path d="M1289.6 528.8L1293.2 531.4L1292.3 540.3L1289.6 539.4Z" fill="#a3d2f4" /><path d="M1264.1 546.6L1270.3 546.0L1270.7 550.8L1265.4 551.7Z" fill="#a3d2f4" /><path d="M1279.1 548.2L1287.9 545.5L1295.8 543.8L1302.0 545.5L1310.8 550.8L1309.0 552.6L1300.2 548.2L1294.9 546.4L1288.8 548.2L1280.8 550.8Z" fill="#a3d2f4" /><path d="M1226.7 613.6C1227.5 611.4 1227.7 610.8 1230.3 610.0C1232.9 609.2 1238.7 609.4 1242.3 608.8C1246.0 608.2 1248.8 606.3 1252.0 606.3C1255.2 606.3 1259.2 607.4 1261.6 608.8C1264.0 610.2 1264.6 612.4 1266.5 614.8C1268.3 617.2 1271.5 620.2 1272.5 623.2C1273.5 626.2 1271.9 630.1 1272.5 632.9C1273.1 635.7 1274.7 637.7 1276.1 640.1C1277.5 642.5 1278.5 645.3 1280.9 647.3C1283.3 649.4 1287.4 651.2 1290.6 652.2C1293.8 653.2 1297.4 652.6 1300.2 653.4C1303.0 654.2 1306.2 655.2 1307.4 657.0C1308.7 658.8 1308.7 662.6 1307.4 664.2C1306.2 665.8 1302.6 665.6 1300.2 666.6C1297.8 667.6 1295.4 670.0 1293.0 670.2C1290.6 670.5 1288.2 669.0 1285.7 667.8C1283.3 666.6 1280.7 663.6 1278.5 663.0C1276.3 662.4 1273.9 664.8 1272.5 664.2C1271.1 663.6 1271.3 661.8 1270.1 659.4C1268.9 657.0 1267.5 652.4 1265.2 649.8C1263.0 647.1 1259.8 645.3 1256.8 643.7C1253.8 642.1 1250.4 640.9 1247.2 640.1C1243.9 639.3 1239.9 639.7 1237.5 638.9C1235.1 638.1 1234.9 635.7 1232.7 635.3C1230.5 634.9 1227.3 636.1 1224.3 636.5C1221.2 636.9 1216.0 638.9 1214.6 637.7C1213.2 636.5 1214.0 631.7 1215.8 629.3C1217.6 626.8 1223.7 625.8 1225.5 623.2C1227.3 620.6 1225.9 615.8 1226.7 613.6Z" fill="#8bc9ef" /><path d="M1238.7 622.0L1247.2 613.6L1254.4 617.4Z" fill="#f1efeb" /><path d="M1260.4 629.3L1265.2 628.1L1270.7 642.5L1266.5 641.3Z" fill="#f1efeb" /><path d="M1247.2 634.3L1254.4 633.6L1254.4 635.8L1247.8 636.2Z" fill="#f1efeb" /><path d="M1282.4 590.1C1284.8 588.7 1290.9 592.0 1292.8 593.0C1294.7 594.1 1296.3 597.6 1298.7 599.0C1301.2 600.4 1310.3 603.8 1313.6 604.9C1316.9 606.0 1324.6 606.9 1326.9 608.1C1329.2 609.4 1331.8 613.7 1333.3 615.6C1334.8 617.5 1338.0 622.8 1339.7 624.1C1341.5 625.5 1346.0 626.5 1348.3 627.3C1350.5 628.2 1356.4 630.5 1358.9 631.6C1361.4 632.7 1367.1 635.6 1369.6 636.9C1372.1 638.3 1378.3 642.2 1380.3 643.3C1382.3 644.5 1384.7 646.0 1386.7 646.5C1388.7 647.0 1394.8 647.0 1397.3 647.6C1399.8 648.2 1405.5 651.0 1408.0 651.9C1410.5 652.7 1416.2 654.9 1418.7 655.1C1421.2 655.2 1426.8 653.6 1429.3 652.9C1431.8 652.3 1438.2 650.5 1440.0 649.7C1441.8 648.9 1443.2 646.8 1444.5 646.1C1445.9 645.4 1449.7 644.4 1451.8 643.7C1453.9 643.0 1460.0 641.1 1462.6 640.1C1465.3 639.1 1472.2 637.0 1474.7 635.3C1477.2 633.6 1482.9 627.9 1484.3 625.6C1485.7 623.4 1485.8 617.8 1486.7 616.0C1487.7 614.2 1490.1 610.9 1492.8 610.0C1495.5 609.0 1508.0 607.1 1510.0 607.6C1512.0 608.0 1511.3 612.7 1510.0 613.6C1508.7 614.4 1500.9 613.7 1498.8 614.8C1496.6 615.9 1492.7 621.1 1491.6 623.2C1490.4 625.3 1490.3 630.9 1489.2 632.9C1488.0 634.8 1481.5 638.6 1481.9 640.1C1482.3 641.7 1490.8 645.9 1492.8 646.1C1494.7 646.4 1496.8 642.9 1498.8 642.5C1500.8 642.1 1508.7 641.7 1510.0 642.5C1511.3 643.4 1512.0 649.0 1510.0 649.8C1508.0 650.5 1496.2 649.1 1492.8 648.5C1489.4 648.0 1483.5 645.2 1480.7 644.9C1477.9 644.6 1471.7 645.7 1468.7 646.1C1465.6 646.6 1457.5 647.1 1454.2 648.5C1450.8 650.0 1443.4 656.6 1440.0 658.3C1436.6 659.9 1427.6 661.9 1425.1 662.5C1422.6 663.2 1420.7 663.7 1418.7 663.6C1416.7 663.5 1410.5 662.1 1408.0 661.5C1405.5 660.8 1399.3 658.6 1397.3 658.3C1395.3 657.9 1392.2 658.3 1390.9 658.3C1389.7 658.3 1387.7 657.8 1386.7 658.3C1385.7 658.8 1383.6 661.0 1382.4 662.5C1381.2 664.0 1378.0 669.1 1376.0 671.1C1374.0 673.1 1367.8 678.2 1365.3 679.6C1362.8 681.0 1357.2 682.4 1354.7 682.8C1352.2 683.2 1346.5 683.2 1344.0 682.8C1341.5 682.4 1335.8 680.5 1333.3 679.6C1330.8 678.7 1325.2 676.2 1322.7 675.3C1320.2 674.5 1314.5 672.6 1312.0 672.1C1309.5 671.6 1303.8 671.4 1301.3 671.1C1298.8 670.7 1293.2 669.7 1290.7 668.9C1288.2 668.2 1281.2 666.9 1280.0 664.7C1278.8 662.4 1278.8 651.5 1280.0 649.7C1281.2 648.0 1288.2 649.2 1290.7 649.7C1293.2 650.2 1299.5 653.0 1301.3 654.0C1303.2 655.0 1303.8 657.0 1306.7 658.3C1309.5 659.5 1322.8 663.4 1325.9 664.7C1329.0 665.9 1331.2 667.9 1333.3 668.9C1335.4 669.9 1341.5 672.6 1344.0 673.2C1346.5 673.8 1352.2 674.5 1354.7 674.3C1357.2 674.0 1363.1 672.2 1365.3 671.1C1367.6 669.9 1372.2 666.2 1373.9 664.7C1375.5 663.2 1378.6 659.5 1379.2 658.3C1379.8 657.0 1380.1 654.5 1379.2 654.0C1378.3 653.5 1373.8 654.1 1371.7 654.0C1369.6 653.9 1363.3 653.6 1361.1 652.9C1358.8 652.3 1354.5 649.8 1352.5 648.7C1350.5 647.5 1345.7 644.6 1344.0 643.3C1342.3 642.1 1339.1 639.5 1337.6 638.0C1336.1 636.5 1332.9 632.3 1331.2 630.5C1329.5 628.8 1324.9 624.4 1322.7 623.1C1320.4 621.7 1314.5 619.8 1312.0 618.8C1309.5 617.8 1303.8 615.8 1301.3 614.5C1298.8 613.3 1293.2 609.6 1290.7 608.1C1288.2 606.6 1282.2 602.1 1280.0 601.7C1277.8 601.4 1271.7 606.3 1272.0 604.9C1272.3 603.6 1280.0 591.5 1282.4 590.1Z" fill="#8bc9ef"/><path d="M1341.9 631.6C1342.9 630.5 1349.0 630.0 1352.5 630.5C1356.1 631.1 1360.2 633.2 1363.2 634.8C1366.2 636.4 1370.3 638.9 1370.7 640.1C1371.0 641.4 1368.0 642.3 1365.3 642.3C1362.7 642.3 1357.9 641.0 1354.7 640.1C1351.5 639.2 1348.3 638.4 1346.1 636.9C1344.0 635.5 1340.8 632.7 1341.9 631.6Z" fill="#f1efeb" /><path d="M1453.4 416.1C1454.7 414.7 1459.3 416.1 1460.3 417.5C1461.4 418.9 1460.9 423.1 1459.7 424.5C1458.4 425.9 1453.7 427.3 1452.7 425.9C1451.7 424.5 1452.1 417.5 1453.4 416.1Z" fill="#a3d2f4" /><path d="M1566.1 413.3C1569.1 411.3 1583.2 410.8 1587.0 412.0C1590.7 413.1 1589.3 416.6 1588.3 420.3C1587.4 424.0 1584.9 431.7 1581.4 434.2C1577.9 436.8 1569.6 437.2 1567.5 435.6C1565.4 434.0 1569.1 428.2 1568.9 424.5C1568.6 420.8 1563.1 415.4 1566.1 413.3Z" fill="#a3d2f4" /><path d="M1477.7 489.2C1480.1 487.7 1488.0 488.4 1490.3 490.1C1492.5 491.9 1492.0 497.5 1491.2 499.6C1490.4 501.8 1487.9 503.2 1485.4 503.1C1482.9 503.0 1477.6 501.2 1476.3 498.9C1475.1 496.6 1475.4 490.6 1477.7 489.2Z" fill="#a3d2f4" /><path d="M1506.3 425.9C1507.0 425.4 1508.8 426.3 1509.0 427.3C1509.3 428.2 1508.3 431.0 1507.7 431.4C1507.0 431.9 1505.1 431.0 1504.9 430.0C1504.6 429.1 1505.6 426.3 1506.3 425.9Z" fill="#a3d2f4" /><path d="M1509.0 434.9C1510.4 434.3 1515.3 435.3 1516.0 436.3C1516.7 437.3 1514.6 440.6 1513.2 441.2C1511.8 441.8 1508.3 440.8 1507.7 439.8C1507.0 438.7 1507.7 435.5 1509.0 434.9Z" fill="#a3d2f4" /><path d="M1472.9 420.3C1474.0 418.9 1477.7 418.0 1478.4 418.9C1479.1 419.8 1478.2 424.5 1477.0 425.9C1475.9 427.3 1472.2 428.2 1471.5 427.3C1470.8 426.3 1471.7 421.7 1472.9 420.3Z" fill="#a3d2f4" /><path d="M1532.7 471.1C1533.4 470.6 1536.4 471.1 1536.9 471.8C1537.3 472.5 1536.2 474.8 1535.5 475.3C1534.7 475.7 1532.9 475.3 1532.4 474.6C1532.0 473.9 1532.0 471.6 1532.7 471.1Z" fill="#a3d2f4" /><path d="M1428.6 509.3C1429.2 508.6 1431.0 508.7 1431.4 509.6C1431.8 510.6 1431.4 514.1 1430.9 514.9C1430.3 515.7 1428.4 515.3 1428.1 514.4C1427.7 513.4 1428.1 510.1 1428.6 509.3Z" fill="#a3d2f4" /><path d="M1430.0 521.3C1430.7 520.8 1433.4 521.0 1433.9 521.6C1434.5 522.2 1434.1 524.5 1433.4 524.9C1432.7 525.4 1430.3 525.0 1429.7 524.4C1429.2 523.8 1429.3 521.8 1430.0 521.3Z" fill="#a3d2f4" /><path d="M1397.5 455.1C1398.9 453.9 1401.9 454.9 1401.7 456.5C1401.5 458.1 1397.5 463.7 1396.1 464.8C1394.7 466.0 1393.1 465.1 1393.4 463.5C1393.6 461.8 1396.1 456.3 1397.5 455.1Z" fill="#a3d2f4" /><path d="M1414.9 418.9C1416.1 417.8 1420.8 416.4 1421.2 417.5C1421.5 418.7 1418.2 424.7 1417.0 425.9C1415.9 427.0 1414.6 425.6 1414.2 424.5C1413.9 423.3 1413.8 420.1 1414.9 418.9Z" fill="#a3d2f4" /><path d="M1427.6 518.0C1428.2 517.2 1430.5 517.4 1430.9 518.4C1431.4 519.5 1431.0 523.3 1430.4 524.1C1429.7 524.9 1427.5 524.3 1427.0 523.3C1426.6 522.3 1426.9 518.8 1427.6 518.0Z" fill="#a3d2f4" /><path d="M1427.6 519.5C1428.6 518.0 1433.2 517.2 1434.5 518.4C1435.9 519.5 1436.6 524.9 1435.7 526.4C1434.7 527.9 1430.1 528.7 1428.8 527.5C1427.5 526.4 1426.7 521.0 1427.6 519.5Z" fill="#a3d2f4" /><path d="M1413.9 542.4C1414.7 541.6 1418.6 541.1 1419.6 541.9C1420.7 542.6 1421.1 546.2 1420.2 547.0C1419.3 547.9 1415.5 547.8 1414.5 547.0C1413.4 546.3 1413.0 543.3 1413.9 542.4Z" fill="#a3d2f4" /><path d="M1384.1 591.8C1385.0 590.8 1389.6 590.0 1390.9 590.6C1392.3 591.2 1393.0 594.2 1392.1 595.2C1391.1 596.2 1386.5 596.9 1385.2 596.4C1383.9 595.8 1383.1 592.7 1384.1 591.8Z" fill="#a3d2f4" /><path d="M1787.9 632.5C1789.7 631.8 1800.5 632.8 1802.8 634.0C1805.0 635.3 1803.0 639.2 1801.3 640.0C1799.5 640.7 1794.6 639.7 1792.4 638.5C1790.1 637.2 1786.2 633.3 1787.9 632.5Z" fill="#a3d2f4" /><path d="M1500.0 640.0C1501.5 639.2 1507.7 640.2 1508.9 641.4C1510.1 642.7 1508.9 646.6 1507.4 647.4C1505.9 648.1 1501.2 647.1 1500.0 645.9C1498.8 644.7 1498.5 640.7 1500.0 640.0Z" fill="#a3d2f4" /><path d="M1383.1 590.7C1384.4 590.0 1390.3 589.5 1391.5 590.1C1392.7 590.7 1391.6 593.6 1390.3 594.3C1389.0 595.0 1384.9 594.9 1383.7 594.3C1382.4 593.7 1381.7 591.4 1383.1 590.7Z" fill="#a3d2f4" /><path d="M1810.0 482.9C1810.9 481.1 1815.6 479.0 1817.0 480.1C1818.3 481.3 1819.3 488.0 1818.3 489.9C1817.4 491.7 1812.8 492.4 1811.4 491.3C1810.0 490.1 1809.1 484.8 1810.0 482.9Z" fill="#cfe0e4" /><path d="M1822.5 485.7C1823.4 484.3 1829.5 481.1 1830.9 481.5C1832.3 482.0 1831.8 487.1 1830.9 488.5C1829.9 489.9 1826.7 490.3 1825.3 489.9C1823.9 489.4 1821.6 487.1 1822.5 485.7Z" fill="#cfe0e4" /><path d="M1424.2 558.5C1425.9 559.1 1430.9 560.7 1434.5 561.9C1438.2 563.2 1442.4 565.6 1446.0 566.0C1449.6 566.3 1452.7 565.3 1456.3 564.2C1460.0 563.2 1464.0 561.2 1467.8 559.6C1471.6 558.1 1475.4 556.4 1479.3 555.1C1483.1 553.7 1486.9 552.6 1490.7 551.6C1494.6 550.7 1500.3 549.7 1502.2 549.3" fill="none" stroke="#9fd0f5" stroke-width="1.0" stroke-linecap="round" stroke-linejoin="round" /><path d="M1370.3 561.4C1372.2 561.5 1377.9 562.0 1381.8 561.9C1385.6 561.8 1389.4 561.3 1393.2 560.8C1397.1 560.3 1400.9 558.9 1404.7 558.7C1408.5 558.5 1412.9 559.7 1416.2 559.6C1419.4 559.6 1422.9 558.7 1424.2 558.5" fill="none" stroke="#9fd0f5" stroke-width="1.6" stroke-linecap="round" stroke-linejoin="round" /><path d="M1363.4 578.0C1364.6 579.1 1367.2 582.8 1370.3 584.9C1373.4 587.0 1377.9 589.5 1381.8 590.6C1385.6 591.8 1389.4 591.8 1393.2 591.8C1397.1 591.8 1401.3 590.6 1404.7 590.6C1408.1 590.6 1410.1 591.0 1413.9 591.8C1417.7 592.5 1423.4 593.9 1427.6 595.2C1431.9 596.5 1435.3 598.8 1439.1 599.8C1442.9 600.7 1447.7 601.1 1450.6 600.9C1453.5 600.7 1455.4 599.0 1456.3 598.6" fill="none" stroke="#9fd0f5" stroke-width="1.4" stroke-linecap="round" stroke-linejoin="round" /><path d="M1446.0 566.0C1446.8 567.2 1449.1 571.0 1450.6 573.4C1452.1 575.8 1453.6 578.0 1455.2 580.3C1456.7 582.6 1458.6 584.9 1459.8 587.2C1460.9 589.5 1462.2 591.8 1462.1 594.1C1461.9 596.4 1459.2 599.8 1458.6 600.9" fill="none" stroke="#9fd0f5" stroke-width="1.0" stroke-linecap="round" stroke-linejoin="round" /><path d="M1489.6 553.9C1492.3 552.0 1499.3 545.3 1506.3 542.7C1513.2 540.2 1524.8 540.7 1531.3 538.6C1537.8 536.5 1540.6 530.9 1545.2 530.2C1549.9 529.5 1554.5 535.3 1559.1 534.4C1563.8 533.5 1568.4 527.7 1573.0 524.7C1577.7 521.6 1582.8 517.2 1587.0 516.3C1591.1 515.4 1593.4 516.8 1598.1 519.1C1602.7 521.4 1609.7 529.1 1614.8 530.2C1619.9 531.4 1624.1 526.0 1628.7 526.0C1633.3 526.0 1637.4 528.1 1642.6 530.2C1647.8 532.3 1657.1 537.2 1660.0 538.6" fill="none" stroke="#9fd0f5" stroke-width="1.0" stroke-linecap="round" stroke-linejoin="round" /><path d="M1650.0 530.2C1651.9 529.8 1656.5 528.4 1661.1 527.4C1665.8 526.5 1672.7 524.7 1677.8 524.7C1682.9 524.7 1686.6 526.5 1691.7 527.4C1696.8 528.4 1703.3 529.1 1708.4 530.2C1713.5 531.4 1717.7 533.0 1722.3 534.4C1727.0 535.8 1732.1 538.3 1736.3 538.6C1740.4 538.8 1743.2 536.9 1747.4 535.8C1751.6 534.6 1756.7 532.8 1761.3 531.6C1765.9 530.4 1770.6 529.5 1775.2 528.8C1779.9 528.1 1784.5 527.9 1789.1 527.4C1793.8 527.0 1798.4 526.7 1803.0 526.0C1807.7 525.3 1812.3 522.6 1817.0 523.3C1821.6 524.0 1826.2 527.2 1830.9 530.2C1835.5 533.2 1840.1 538.1 1844.8 541.3C1849.4 544.6 1856.4 548.3 1858.7 549.7" fill="none" stroke="#9fd0f5" stroke-width="1.2" stroke-linecap="round" stroke-linejoin="round" /><path d="M1500.0 604.3C1503.7 603.9 1516.1 602.9 1522.3 601.4C1528.4 599.9 1532.6 596.2 1537.1 595.4C1541.5 594.7 1544.0 596.2 1549.0 596.9C1553.9 597.7 1560.6 599.9 1566.8 599.9C1572.9 599.9 1580.4 596.7 1586.1 596.9C1591.7 597.2 1595.9 600.4 1600.9 601.4C1605.8 602.4 1610.8 603.4 1615.7 602.9C1620.7 602.4 1626.1 599.6 1630.6 598.4C1635.0 597.2 1638.5 595.0 1642.4 595.4C1646.4 595.9 1650.8 599.9 1654.3 601.4C1657.8 602.9 1659.7 604.6 1663.2 604.3C1666.7 604.1 1671.1 601.6 1675.1 599.9C1679.0 598.2 1682.8 595.7 1686.9 594.0C1691.1 592.2 1697.8 590.3 1700.0 589.5" fill="none" stroke="#9fd0f5" stroke-width="2.6" stroke-linecap="round" stroke-linejoin="round" /><path d="M1500.0 648.9C1502.5 648.6 1509.9 647.9 1514.8 647.4C1519.8 646.9 1524.0 645.6 1529.7 645.9C1535.4 646.1 1542.8 648.4 1549.0 648.9C1555.1 649.4 1561.1 649.8 1566.8 648.9C1572.5 647.9 1578.4 644.9 1583.1 642.9C1587.8 640.9 1590.5 638.5 1595.0 637.0C1599.4 635.5 1604.4 634.3 1609.8 634.0C1615.2 633.8 1622.2 635.5 1627.6 635.5C1633.0 635.5 1637.7 635.3 1642.4 634.0C1647.1 632.8 1652.3 631.1 1655.8 628.1C1659.2 625.1 1661.0 620.2 1663.2 616.2C1665.4 612.3 1668.2 606.3 1669.1 604.3" fill="none" stroke="#9fd0f5" stroke-width="1.0" stroke-linecap="round" stroke-linejoin="round" /><path d="M1559.3 601.4C1561.1 602.6 1566.3 606.3 1569.7 608.8C1573.2 611.3 1576.9 615.2 1580.1 616.2C1583.3 617.2 1586.3 613.7 1589.0 614.7C1591.7 615.7 1594.5 619.9 1596.4 622.2C1598.4 624.4 1600.1 627.1 1600.9 628.1" fill="none" stroke="#9fd0f5" stroke-width="0.9" stroke-linecap="round" stroke-linejoin="round" /><path d="M1690.0 565.8C1692.5 564.8 1698.7 560.9 1704.8 559.8C1711.0 558.7 1719.7 558.8 1727.1 559.1C1734.5 559.3 1743.2 560.5 1749.3 561.3C1755.5 562.2 1759.2 562.8 1764.2 564.3C1769.1 565.8 1774.1 568.2 1779.0 570.2C1784.0 572.2 1789.9 574.7 1793.9 576.2C1797.8 577.6 1799.3 578.4 1802.8 579.1C1806.2 579.9 1811.2 581.4 1814.6 580.6C1818.1 579.9 1820.1 576.4 1823.5 574.7C1827.0 572.9 1831.9 570.0 1835.4 570.2C1838.9 570.5 1841.3 574.7 1844.3 576.2C1847.3 577.6 1849.7 579.4 1853.2 579.1C1856.7 578.9 1861.1 576.4 1865.1 574.7C1869.0 572.9 1874.1 570.0 1876.9 568.7C1879.7 567.5 1881.0 567.5 1881.8 567.3" fill="none" stroke="#9fd0f5" stroke-width="2.8" stroke-linecap="round" stroke-linejoin="round" /><path d="M1690.0 601.4C1691.5 600.1 1695.2 595.7 1698.9 594.0C1702.6 592.2 1707.3 591.0 1712.3 591.0C1717.2 591.0 1723.6 592.5 1728.6 594.0C1733.5 595.4 1737.5 597.4 1741.9 599.9C1746.4 602.4 1751.1 605.8 1755.3 608.8C1759.5 611.8 1763.9 615.0 1767.2 617.7C1770.4 620.4 1771.6 622.9 1774.6 625.1C1777.5 627.3 1781.2 629.6 1785.0 631.1C1788.7 632.5 1792.9 632.5 1796.8 634.0C1800.8 635.5 1804.7 638.0 1808.7 640.0C1812.7 641.9 1816.6 643.9 1820.6 645.9C1824.5 647.9 1829.5 648.9 1832.4 651.8C1835.4 654.8 1837.1 659.2 1838.4 663.7C1839.6 668.1 1839.1 674.6 1839.9 678.5C1840.6 682.5 1842.3 685.9 1842.8 687.4" fill="none" stroke="#9fd0f5" stroke-width="1.1" stroke-linecap="round" stroke-linejoin="round" /><path d="M1363.8 582.2C1365.4 583.2 1369.8 586.7 1373.4 588.3C1377.0 589.9 1381.4 591.1 1385.5 591.9C1389.5 592.7 1393.5 593.1 1397.5 593.1C1401.5 593.1 1405.6 591.9 1409.6 591.9C1413.6 591.9 1418.4 591.9 1421.6 593.1C1424.8 594.3 1426.1 597.3 1428.9 599.1C1431.7 600.9 1435.3 602.7 1438.5 603.9C1441.7 605.1 1446.6 605.9 1448.2 606.3" fill="none" stroke="#9fd0f5" stroke-width="1.1" stroke-linecap="round" stroke-linejoin="round" /><path d="M1455.4 582.2C1456.2 583.4 1459.2 586.9 1460.2 589.5C1461.2 592.1 1462.0 595.7 1461.4 597.9C1460.8 600.1 1458.4 600.9 1456.6 602.7C1454.8 604.5 1451.8 605.7 1450.6 608.8C1449.4 611.8 1449.4 616.8 1449.4 620.8C1449.4 624.8 1450.4 630.9 1450.6 632.9" fill="none" stroke="#9fd0f5" stroke-width="0.9" stroke-linecap="round" stroke-linejoin="round" /><path d="M1410.1 413.4C1411.2 414.7 1414.7 418.9 1417.0 421.7C1419.3 424.5 1421.0 428.2 1424.0 430.1C1427.0 431.9 1430.8 433.3 1435.1 432.8C1439.4 432.4 1447.5 428.2 1450.0 427.3" fill="none" stroke="#9fd0f5" stroke-width="0.9" stroke-linecap="round" stroke-linejoin="round" /><g opacity=".85"><path d="M1556.9 573.2C1559.1 572.1 1566.3 569.4 1570.0 566.6C1573.7 563.8 1575.3 560.0 1579.0 556.4C1582.8 552.9 1589.5 548.9 1592.4 545.4C1595.3 541.9 1595.9 537.0 1596.6 535.3" fill="none" stroke="#e6dccb" stroke-width="0.7" stroke-linecap="round" stroke-linejoin="round" /><path d="M1699.1 424.1C1701.6 424.2 1710.5 425.4 1714.1 425.2C1717.7 424.9 1718.5 423.6 1720.9 422.8C1723.2 422.0 1725.7 421.9 1728.3 420.4C1730.9 419.0 1734.2 417.2 1736.2 414.1C1738.2 411.0 1739.7 403.8 1740.4 401.8" fill="none" stroke="#e6dccb" stroke-width="0.7" stroke-linecap="round" stroke-linejoin="round" /><path d="M1549.9 654.6C1547.3 654.3 1538.8 653.2 1534.4 652.8C1530.1 652.3 1528.2 654.2 1523.8 652.0C1519.4 649.8 1512.0 644.1 1508.1 639.7C1504.2 635.3 1501.7 627.8 1500.4 625.5" fill="none" stroke="#e6dccb" stroke-width="0.7" stroke-linecap="round" stroke-linejoin="round" /><path d="M1476.0 478.1C1474.9 479.9 1472.2 485.6 1469.5 488.5C1466.7 491.3 1464.2 493.9 1459.5 495.1C1454.8 496.4 1444.5 495.8 1441.5 495.9" fill="none" stroke="#e6dccb" stroke-width="0.7" stroke-linecap="round" stroke-linejoin="round" /><path d="M1827.1 547.4C1829.1 545.9 1835.6 540.4 1839.3 538.3C1843.0 536.3 1846.3 537.1 1849.3 535.2C1852.3 533.4 1853.2 529.1 1857.2 527.1C1861.3 525.1 1870.9 523.8 1873.6 523.1" fill="none" stroke="#e6dccb" stroke-width="0.7" stroke-linecap="round" stroke-linejoin="round" /><path d="M1359.6 483.0C1360.5 484.3 1362.8 487.6 1364.7 490.7C1366.6 493.9 1367.8 498.3 1371.0 501.9C1374.1 505.6 1381.6 510.7 1383.7 512.5" fill="none" stroke="#e6dccb" stroke-width="0.7" stroke-linecap="round" stroke-linejoin="round" /><path d="M1367.3 597.4C1368.9 598.1 1373.7 598.3 1377.0 601.4C1380.3 604.4 1383.1 611.2 1387.1 615.6C1391.1 620.0 1396.8 625.0 1401.0 627.7C1405.3 630.5 1410.5 631.4 1412.4 632.1" fill="none" stroke="#e6dccb" stroke-width="0.7" stroke-linecap="round" stroke-linejoin="round" /><path d="M1794.1 596.8C1795.7 597.3 1800.8 598.2 1804.0 599.8C1807.2 601.3 1810.5 604.7 1813.2 606.3C1816.0 607.8 1817.0 609.0 1820.7 609.1C1824.3 609.3 1830.5 608.7 1835.1 607.4C1839.8 606.0 1846.3 602.2 1848.6 601.2" fill="none" stroke="#e6dccb" stroke-width="0.7" stroke-linecap="round" stroke-linejoin="round" /><path d="M1509.3 542.5C1512.3 542.0 1523.0 540.8 1527.3 539.5C1531.6 538.2 1530.8 535.7 1535.0 534.8C1539.2 533.8 1548.2 534.5 1552.6 533.8C1557.0 533.1 1560.0 531.0 1561.5 530.5" fill="none" stroke="#e6dccb" stroke-width="0.7" stroke-linecap="round" stroke-linejoin="round" /><path d="M1726.3 682.8C1726.0 685.3 1724.8 693.7 1724.4 697.6C1724.1 701.4 1722.6 701.7 1724.2 705.9C1725.8 710.1 1730.3 718.2 1734.0 722.8C1737.6 727.4 1741.3 730.5 1746.0 733.6C1750.7 736.7 1759.3 739.9 1762.0 741.2" fill="none" stroke="#e6dccb" stroke-width="0.7" stroke-linecap="round" stroke-linejoin="round" /><path d="M1641.9 496.5C1643.3 497.4 1646.5 499.3 1650.2 502.0C1654.0 504.8 1660.9 509.9 1664.6 513.0C1668.2 516.1 1670.3 517.8 1672.0 520.6C1673.7 523.4 1672.9 527.2 1674.7 529.9C1676.4 532.6 1681.3 535.6 1682.6 536.8" fill="none" stroke="#e6dccb" stroke-width="0.7" stroke-linecap="round" stroke-linejoin="round" /><path d="M1553.0 429.4C1553.5 430.8 1554.0 433.5 1556.2 437.5C1558.3 441.5 1564.3 448.2 1565.8 453.4C1567.3 458.7 1565.9 464.0 1565.2 469.0C1564.5 473.9 1562.1 480.7 1561.4 483.1" fill="none" stroke="#e6dccb" stroke-width="0.7" stroke-linecap="round" stroke-linejoin="round" /><path d="M1703.6 689.3C1706.3 689.6 1713.9 691.2 1720.0 691.1C1726.0 691.1 1734.6 690.7 1739.8 689.0C1745.1 687.3 1746.5 683.3 1751.4 680.9C1756.2 678.5 1766.1 675.8 1769.1 674.8" fill="none" stroke="#e6dccb" stroke-width="0.7" stroke-linecap="round" stroke-linejoin="round" /><path d="M1724.9 614.7C1725.1 612.0 1724.5 604.0 1726.4 598.8C1728.3 593.6 1733.4 588.6 1736.3 583.4C1739.3 578.3 1741.0 572.1 1744.3 568.1C1747.5 564.1 1752.0 561.7 1755.7 559.2C1759.3 556.8 1764.4 554.4 1766.1 553.4" fill="none" stroke="#e6dccb" stroke-width="0.7" stroke-linecap="round" stroke-linejoin="round" /><path d="M1633.8 587.4C1635.2 590.1 1640.4 599.1 1642.2 603.8C1644.0 608.5 1644.4 611.2 1644.6 615.6C1644.8 619.9 1643.7 624.7 1643.4 630.1C1643.2 635.5 1643.3 645.0 1643.3 648.0" fill="none" stroke="#e6dccb" stroke-width="0.7" stroke-linecap="round" stroke-linejoin="round" /><path d="M1339.4 628.1C1341.1 628.3 1345.6 628.5 1349.3 629.7C1353.0 630.8 1359.6 634.1 1361.7 635.0" fill="none" stroke="#e6dccb" stroke-width="0.7" stroke-linecap="round" stroke-linejoin="round" /><path d="M1440.9 415.3C1441.0 416.8 1442.3 420.6 1441.3 424.5C1440.2 428.3 1436.8 433.3 1434.5 438.5C1432.2 443.7 1429.2 450.3 1427.6 455.7C1426.0 461.2 1424.9 466.5 1424.9 471.2C1424.8 475.8 1426.8 481.5 1427.2 483.5" fill="none" stroke="#e6dccb" stroke-width="0.7" stroke-linecap="round" stroke-linejoin="round" /><path d="M1765.5 675.3C1767.0 674.2 1771.9 671.7 1774.4 668.5C1776.9 665.4 1777.2 660.5 1780.6 656.6C1784.0 652.7 1789.3 648.5 1794.6 645.2C1799.8 642.0 1809.2 638.5 1812.1 637.1" fill="none" stroke="#e6dccb" stroke-width="0.7" stroke-linecap="round" stroke-linejoin="round" /><path d="M1453.3 460.7C1451.7 462.0 1447.1 465.9 1443.5 468.2C1439.9 470.6 1435.9 471.6 1431.7 474.7C1427.5 477.7 1420.5 484.6 1418.3 486.6" fill="none" stroke="#e6dccb" stroke-width="0.7" stroke-linecap="round" stroke-linejoin="round" /><path d="M1869.4 542.3C1870.2 543.3 1872.3 545.1 1874.0 548.3C1875.7 551.5 1877.0 557.0 1879.7 561.6C1882.3 566.1 1888.2 573.2 1889.9 575.5" fill="none" stroke="#e6dccb" stroke-width="0.7" stroke-linecap="round" stroke-linejoin="round" /><path d="M1558.4 419.1C1558.4 417.9 1558.3 414.9 1558.9 411.5C1559.4 408.2 1560.3 403.5 1561.7 399.0C1563.2 394.6 1566.5 387.0 1567.5 384.6" fill="none" stroke="#e6dccb" stroke-width="0.7" stroke-linecap="round" stroke-linejoin="round" /><path d="M1766.4 688.0C1765.7 686.6 1764.9 682.1 1762.4 679.6C1759.8 677.1 1754.1 675.1 1751.1 672.8C1748.2 670.6 1745.7 667.3 1744.6 666.1" fill="none" stroke="#e6dccb" stroke-width="0.7" stroke-linecap="round" stroke-linejoin="round" /><path d="M1450.7 511.6C1450.1 508.8 1448.9 500.5 1447.4 495.1C1446.0 489.6 1442.7 482.7 1442.0 478.6C1441.3 474.6 1441.4 474.1 1443.3 470.6C1445.3 467.2 1452.0 460.0 1453.7 457.9" fill="none" stroke="#e6dccb" stroke-width="0.7" stroke-linecap="round" stroke-linejoin="round" /><path d="M1366.6 542.6C1364.7 541.2 1358.4 538.0 1355.1 534.0C1351.9 530.0 1348.4 523.3 1347.2 518.6C1346.0 513.8 1347.4 509.3 1347.9 505.6C1348.4 501.8 1348.4 500.3 1350.2 496.2C1352.0 492.0 1357.4 483.3 1358.8 480.8" fill="none" stroke="#e6dccb" stroke-width="0.7" stroke-linecap="round" stroke-linejoin="round" /><path d="M1668.6 618.7C1667.4 621.8 1664.1 631.5 1661.9 637.2C1659.7 643.0 1656.9 647.5 1655.3 653.2C1653.7 659.0 1653.7 667.1 1652.0 671.7C1650.4 676.4 1646.8 677.6 1645.5 681.3C1644.2 684.9 1644.4 691.8 1644.2 693.9" fill="none" stroke="#e6dccb" stroke-width="0.7" stroke-linecap="round" stroke-linejoin="round" /><path d="M1614.7 633.3C1613.4 632.9 1609.7 632.3 1607.2 631.0C1604.7 629.7 1603.6 627.6 1599.8 625.4C1596.0 623.2 1586.9 619.1 1584.3 617.8" fill="none" stroke="#e6dccb" stroke-width="0.7" stroke-linecap="round" stroke-linejoin="round" /><path d="M1848.0 553.9C1849.8 552.5 1855.5 549.0 1859.0 545.4C1862.5 541.9 1865.8 536.2 1869.2 532.5C1872.5 528.8 1877.6 524.7 1879.3 523.2" fill="none" stroke="#e6dccb" stroke-width="0.7" stroke-linecap="round" stroke-linejoin="round" /><path d="M1787.7 573.3C1785.5 575.4 1777.8 581.4 1774.3 586.3C1770.7 591.2 1769.7 598.6 1766.4 602.5C1763.1 606.5 1758.1 607.9 1754.7 609.8C1751.3 611.8 1747.5 613.4 1746.1 614.2" fill="none" stroke="#e6dccb" stroke-width="0.7" stroke-linecap="round" stroke-linejoin="round" /><path d="M1606.2 556.9C1605.4 554.8 1603.6 548.8 1601.5 544.0C1599.5 539.3 1595.9 533.1 1593.7 528.5C1591.6 523.8 1589.5 518.1 1588.6 516.1" fill="none" stroke="#e6dccb" stroke-width="0.7" stroke-linecap="round" stroke-linejoin="round" /><path d="M1697.7 431.0C1695.5 428.7 1688.5 420.8 1684.3 417.5C1680.2 414.1 1676.9 412.2 1672.9 411.0C1668.9 409.8 1665.2 411.6 1660.3 410.1C1655.4 408.7 1646.2 403.4 1643.4 402.1" fill="none" stroke="#e6dccb" stroke-width="0.7" stroke-linecap="round" stroke-linejoin="round" /><path d="M1571.2 503.4C1570.9 504.8 1570.7 509.4 1569.9 512.0C1569.2 514.5 1567.3 515.7 1566.6 518.4C1565.8 521.2 1566.3 524.9 1565.5 528.3C1564.7 531.7 1562.4 537.1 1561.8 538.9" fill="none" stroke="#e6dccb" stroke-width="0.7" stroke-linecap="round" stroke-linejoin="round" /><path d="M1499.7 590.5C1501.9 591.0 1509.2 593.0 1513.0 593.3C1516.8 593.6 1518.8 592.7 1522.5 592.4C1526.2 592.1 1531.1 592.2 1535.2 591.7C1539.3 591.1 1543.8 589.8 1547.3 589.2C1550.8 588.5 1554.8 587.9 1556.2 587.6" fill="none" stroke="#e6dccb" stroke-width="0.7" stroke-linecap="round" stroke-linejoin="round" /><path d="M1410.5 593.8C1409.8 591.4 1406.8 583.5 1406.4 579.4C1406.0 575.4 1406.4 573.8 1407.9 569.5C1409.4 565.2 1412.6 557.4 1415.3 553.6C1418.0 549.9 1422.7 548.0 1424.2 546.9" fill="none" stroke="#e6dccb" stroke-width="0.7" stroke-linecap="round" stroke-linejoin="round" /><path d="M1475.8 677.8C1475.5 679.2 1473.8 682.0 1473.6 686.2C1473.3 690.3 1473.8 698.6 1474.3 702.6C1474.9 706.7 1476.7 707.0 1477.1 710.4C1477.4 713.8 1477.0 719.5 1476.3 722.9C1475.6 726.3 1473.4 729.5 1472.9 730.8" fill="none" stroke="#e6dccb" stroke-width="0.7" stroke-linecap="round" stroke-linejoin="round" /><path d="M1527.6 609.3C1530.6 610.4 1541.6 613.3 1545.5 615.5C1549.3 617.6 1548.2 618.8 1550.8 622.1C1553.4 625.4 1559.5 633.1 1561.3 635.3" fill="none" stroke="#e6dccb" stroke-width="0.7" stroke-linecap="round" stroke-linejoin="round" /><path d="M1586.6 609.5C1587.6 610.3 1589.7 612.0 1592.3 614.4C1594.9 616.8 1599.5 621.3 1602.1 624.0C1604.7 626.7 1606.9 629.6 1607.9 630.7" fill="none" stroke="#e6dccb" stroke-width="0.7" stroke-linecap="round" stroke-linejoin="round" /><path d="M1398.9 470.7C1400.1 470.1 1403.2 470.2 1406.1 466.8C1409.0 463.4 1413.2 455.6 1416.3 450.4C1419.4 445.1 1422.5 440.1 1424.6 435.6C1426.6 431.0 1427.1 427.1 1428.4 423.1C1429.7 419.0 1431.7 413.1 1432.4 411.1" fill="none" stroke="#e6dccb" stroke-width="0.7" stroke-linecap="round" stroke-linejoin="round" /><path d="M1644.5 415.8C1643.2 414.2 1638.5 409.4 1636.3 405.9C1634.2 402.3 1633.4 397.6 1631.5 394.6C1629.7 391.6 1627.0 390.0 1625.2 388.0C1623.3 386.0 1621.9 386.4 1620.2 382.8C1618.6 379.1 1616.2 368.8 1615.4 366.0" fill="none" stroke="#e6dccb" stroke-width="0.7" stroke-linecap="round" stroke-linejoin="round" /><path d="M1705.8 659.9C1704.4 658.1 1699.2 653.7 1697.7 649.0C1696.2 644.3 1697.9 637.4 1696.6 631.6C1695.4 625.7 1691.4 619.7 1690.2 613.9C1689.0 608.1 1689.4 599.6 1689.2 596.8" fill="none" stroke="#e6dccb" stroke-width="0.7" stroke-linecap="round" stroke-linejoin="round" /><path d="M1770.6 528.8C1773.2 527.7 1781.5 523.3 1786.2 522.0C1790.8 520.6 1795.0 520.7 1798.4 520.8C1801.7 520.8 1802.7 521.9 1806.2 522.1C1809.7 522.3 1815.5 523.0 1819.3 521.8C1823.0 520.7 1827.2 516.3 1828.8 515.2" fill="none" stroke="#e6dccb" stroke-width="0.7" stroke-linecap="round" stroke-linejoin="round" /><path d="M1666.8 591.7C1666.7 593.6 1666.7 598.9 1665.9 603.1C1665.0 607.3 1663.2 612.7 1661.9 616.9C1660.6 621.1 1660.8 624.9 1658.1 628.4C1655.5 631.8 1650.5 635.0 1645.9 637.7C1641.3 640.4 1633.0 643.3 1630.4 644.5" fill="none" stroke="#e6dccb" stroke-width="0.7" stroke-linecap="round" stroke-linejoin="round" /><path d="M1868.3 418.6C1866.4 417.7 1860.6 414.1 1857.2 413.4C1853.7 412.8 1850.6 413.9 1847.7 414.5C1844.8 415.0 1843.7 414.6 1839.7 416.6C1835.7 418.5 1828.4 423.7 1823.7 426.4C1819.0 429.2 1813.7 431.8 1811.7 432.9" fill="none" stroke="#e6dccb" stroke-width="0.7" stroke-linecap="round" stroke-linejoin="round" /><path d="M1860.6 575.6C1861.9 576.0 1864.4 576.6 1868.1 578.2C1871.9 579.9 1877.6 584.7 1883.3 585.7C1889.0 586.7 1897.2 585.3 1902.3 584.0C1907.4 582.7 1911.9 578.8 1913.8 577.8" fill="none" stroke="#e6dccb" stroke-width="0.7" stroke-linecap="round" stroke-linejoin="round" /><path d="M1389.8 554.7C1389.1 552.7 1387.1 547.3 1385.6 542.9C1384.2 538.6 1382.7 532.8 1381.2 528.9C1379.7 524.9 1377.2 520.9 1376.4 519.3" fill="none" stroke="#e6dccb" stroke-width="0.7" stroke-linecap="round" stroke-linejoin="round" /><path d="M1676.5 573.5C1676.6 574.7 1676.3 578.3 1676.8 580.6C1677.2 583.0 1676.9 584.5 1679.3 587.8C1681.6 591.0 1686.4 596.0 1690.8 600.0C1695.1 604.1 1702.1 608.8 1705.2 611.9C1708.3 614.9 1708.7 617.2 1709.4 618.3" fill="none" stroke="#e6dccb" stroke-width="0.7" stroke-linecap="round" stroke-linejoin="round" /><path d="M1873.4 684.0C1875.4 684.8 1882.6 686.7 1885.7 688.9C1888.7 691.1 1888.8 693.1 1891.6 697.1C1894.4 701.1 1899.9 708.3 1902.4 713.0C1904.9 717.7 1906.7 720.4 1906.7 725.4C1906.6 730.3 1903.1 739.6 1902.4 742.4" fill="none" stroke="#e6dccb" stroke-width="0.7" stroke-linecap="round" stroke-linejoin="round" /><path d="M1646.1 445.1C1645.0 444.6 1641.6 443.1 1639.1 442.0C1636.7 440.8 1635.1 439.8 1631.4 438.2C1627.7 436.5 1621.0 433.8 1616.9 432.2C1612.9 430.6 1608.7 429.3 1607.1 428.8" fill="none" stroke="#e6dccb" stroke-width="0.7" stroke-linecap="round" stroke-linejoin="round" /><path d="M1633.5 532.8C1635.8 530.5 1643.3 522.1 1647.1 518.9C1650.8 515.8 1652.6 517.4 1655.8 514.0C1659.0 510.6 1662.4 502.6 1666.2 498.5C1669.9 494.4 1676.3 491.0 1678.3 489.5" fill="none" stroke="#e6dccb" stroke-width="0.7" stroke-linecap="round" stroke-linejoin="round" /><path d="M1501.9 490.2C1501.2 487.8 1498.2 479.6 1497.4 475.6C1496.7 471.6 1498.4 470.9 1497.5 466.2C1496.6 461.4 1492.1 453.4 1491.8 447.3C1491.4 441.1 1494.9 432.3 1495.5 429.2" fill="none" stroke="#e6dccb" stroke-width="0.7" stroke-linecap="round" stroke-linejoin="round" /><path d="M1449.9 534.5C1449.0 533.5 1447.9 530.4 1444.5 528.6C1441.1 526.8 1434.4 525.3 1429.5 523.5C1424.7 521.7 1417.8 518.7 1415.5 517.7" fill="none" stroke="#e6dccb" stroke-width="0.7" stroke-linecap="round" stroke-linejoin="round" /><path d="M1510.2 549.8C1510.0 552.8 1508.8 563.5 1509.3 567.7C1509.8 572.0 1512.3 571.6 1513.2 575.4C1514.1 579.1 1514.7 586.3 1514.6 590.4C1514.5 594.5 1512.7 598.3 1512.4 599.9" fill="none" stroke="#e6dccb" stroke-width="0.7" stroke-linecap="round" stroke-linejoin="round" /><path d="M1540.4 486.3C1542.1 483.5 1548.4 474.5 1550.9 469.5C1553.5 464.5 1553.1 461.0 1555.8 456.2C1558.5 451.5 1564.3 445.3 1567.2 441.1C1570.2 436.9 1572.4 432.8 1573.5 431.1" fill="none" stroke="#e6dccb" stroke-width="0.7" stroke-linecap="round" stroke-linejoin="round" /><path d="M1622.9 551.6C1622.8 550.3 1623.4 547.4 1622.3 543.7C1621.1 540.0 1618.4 532.9 1615.9 529.4C1613.4 525.9 1608.7 523.9 1607.2 522.8" fill="none" stroke="#e6dccb" stroke-width="0.7" stroke-linecap="round" stroke-linejoin="round" /><path d="M1717.7 611.9C1717.6 614.6 1717.1 624.1 1717.2 628.3C1717.2 632.4 1718.3 633.0 1718.2 636.8C1718.1 640.5 1716.7 648.7 1716.4 651.0" fill="none" stroke="#e6dccb" stroke-width="0.7" stroke-linecap="round" stroke-linejoin="round" /><path d="M1831.9 682.7C1833.7 682.4 1839.1 681.9 1842.7 680.7C1846.4 679.6 1849.0 676.4 1854.0 676.0C1858.9 675.6 1867.5 678.2 1872.5 678.3C1877.5 678.3 1882.1 676.5 1884.0 676.2" fill="none" stroke="#e6dccb" stroke-width="0.7" stroke-linecap="round" stroke-linejoin="round" /><path d="M1505.7 516.6C1504.4 518.7 1501.3 525.4 1498.2 528.9C1495.1 532.3 1491.3 535.5 1487.2 537.5C1483.0 539.6 1477.9 538.9 1473.3 541.2C1468.8 543.5 1462.2 549.7 1459.9 551.4" fill="none" stroke="#e6dccb" stroke-width="0.7" stroke-linecap="round" stroke-linejoin="round" /><path d="M1809.7 493.1C1812.1 493.5 1819.6 493.6 1823.8 495.8C1828.1 498.0 1832.7 503.4 1835.1 506.4C1837.6 509.3 1836.9 509.6 1838.6 513.4C1840.2 517.2 1844.1 526.7 1845.2 529.3" fill="none" stroke="#e6dccb" stroke-width="0.7" stroke-linecap="round" stroke-linejoin="round" /><path d="M1724.9 670.9C1727.6 671.2 1737.1 671.9 1741.5 672.7C1745.9 673.4 1746.8 675.2 1751.3 675.5C1755.7 675.9 1762.5 674.9 1768.2 674.7C1773.8 674.4 1782.3 674.3 1785.1 674.2" fill="none" stroke="#e6dccb" stroke-width="0.7" stroke-linecap="round" stroke-linejoin="round" /><path d="M1522.7 509.3C1525.0 508.8 1531.4 506.7 1536.4 506.4C1541.4 506.1 1548.1 506.1 1552.6 507.4C1557.0 508.6 1559.8 510.7 1563.0 513.9C1566.3 517.1 1570.1 521.6 1572.2 526.6C1574.3 531.6 1575.1 540.9 1575.6 543.7" fill="none" stroke="#e6dccb" stroke-width="0.7" stroke-linecap="round" stroke-linejoin="round" /><path d="M1782.0 667.9C1784.6 667.3 1793.0 664.5 1797.7 664.1C1802.4 663.8 1806.6 665.4 1810.1 665.7C1813.7 666.0 1814.4 664.9 1819.0 666.0C1823.6 667.1 1834.7 671.2 1837.9 672.2" fill="none" stroke="#e6dccb" stroke-width="0.7" stroke-linecap="round" stroke-linejoin="round" /><path d="M1511.6 460.3C1513.2 463.1 1518.3 473.4 1521.6 477.1C1524.9 480.8 1527.0 481.5 1531.2 482.5C1535.4 483.5 1542.6 482.5 1546.6 483.1C1550.6 483.8 1553.9 486.0 1555.3 486.6" fill="none" stroke="#e6dccb" stroke-width="0.7" stroke-linecap="round" stroke-linejoin="round" /><path d="M1326.8 544.1C1325.4 544.2 1321.3 543.7 1318.4 544.4C1315.5 545.0 1312.9 545.8 1309.3 548.2C1305.8 550.7 1299.2 557.3 1297.1 559.1" fill="none" stroke="#e6dccb" stroke-width="0.7" stroke-linecap="round" stroke-linejoin="round" /><path d="M1399.1 492.9C1400.7 494.7 1406.1 499.8 1408.4 503.6C1410.6 507.5 1410.2 511.5 1412.7 516.1C1415.2 520.7 1421.4 526.8 1423.5 531.2C1425.5 535.6 1424.4 537.5 1424.9 542.6C1425.3 547.7 1425.9 558.8 1426.1 562.0" fill="none" stroke="#e6dccb" stroke-width="0.7" stroke-linecap="round" stroke-linejoin="round" /><path d="M1574.7 475.6C1576.3 476.9 1580.8 480.4 1584.1 483.1C1587.4 485.9 1589.8 489.2 1594.5 492.0C1599.3 494.9 1608.2 498.1 1612.6 500.4C1616.9 502.8 1617.2 505.3 1620.7 506.4C1624.3 507.4 1631.7 506.8 1633.9 506.9" fill="none" stroke="#e6dccb" stroke-width="0.7" stroke-linecap="round" stroke-linejoin="round" /><path d="M1509.2 641.5C1508.3 640.3 1506.0 636.6 1503.8 634.2C1501.6 631.9 1498.2 630.7 1496.0 627.4C1493.8 624.2 1492.2 620.2 1490.5 614.9C1488.7 609.6 1486.4 598.8 1485.6 595.6" fill="none" stroke="#e6dccb" stroke-width="0.7" stroke-linecap="round" stroke-linejoin="round" /><path d="M1447.2 566.0C1450.0 567.0 1459.0 568.9 1463.9 572.0C1468.8 575.0 1472.8 581.7 1476.6 584.2C1480.5 586.7 1483.9 585.8 1486.8 586.9C1489.7 588.1 1490.8 589.3 1493.9 591.1C1497.1 592.8 1503.5 596.3 1505.4 597.3" fill="none" stroke="#e6dccb" stroke-width="0.7" stroke-linecap="round" stroke-linejoin="round" /><path d="M1853.7 581.0C1855.5 579.9 1861.2 575.6 1864.3 574.5C1867.5 573.3 1869.6 573.6 1872.5 574.1C1875.4 574.5 1880.1 576.8 1881.7 577.3" fill="none" stroke="#e6dccb" stroke-width="0.7" stroke-linecap="round" stroke-linejoin="round" /><path d="M1610.6 563.4C1611.9 564.7 1615.5 569.3 1618.6 571.0C1621.7 572.8 1624.8 572.8 1629.2 573.8C1633.6 574.8 1639.8 576.6 1645.1 577.3C1650.4 578.0 1656.5 578.7 1661.0 578.0C1665.5 577.3 1670.2 573.9 1672.1 573.0" fill="none" stroke="#e6dccb" stroke-width="0.7" stroke-linecap="round" stroke-linejoin="round" /><path d="M1562.4 690.5C1562.3 688.5 1561.3 682.2 1561.4 678.6C1561.6 675.0 1562.3 672.4 1563.1 668.7C1563.9 664.9 1566.9 661.3 1566.3 656.1C1565.7 650.9 1560.7 640.5 1559.6 637.4" fill="none" stroke="#e6dccb" stroke-width="0.7" stroke-linecap="round" stroke-linejoin="round" /><path d="M1761.7 471.5C1759.7 470.3 1753.7 465.8 1750.0 463.9C1746.2 461.9 1743.6 461.2 1739.2 460.1C1734.9 458.9 1726.4 457.4 1723.9 456.8" fill="none" stroke="#e6dccb" stroke-width="0.7" stroke-linecap="round" stroke-linejoin="round" /><path d="M1441.3 469.6C1442.3 467.4 1444.9 460.1 1447.1 456.5C1449.3 452.9 1451.9 449.8 1454.3 447.7C1456.7 445.6 1460.3 444.5 1461.5 443.9" fill="none" stroke="#e6dccb" stroke-width="0.7" stroke-linecap="round" stroke-linejoin="round" /><path d="M1783.8 582.7C1785.2 582.9 1789.6 583.8 1792.3 584.0C1795.0 584.3 1797.1 583.2 1800.2 584.4C1803.3 585.5 1809.2 589.8 1810.9 590.9" fill="none" stroke="#e6dccb" stroke-width="0.7" stroke-linecap="round" stroke-linejoin="round" /><path d="M1591.8 598.4C1591.8 596.5 1591.7 590.2 1591.5 587.1C1591.3 584.0 1591.3 583.8 1590.5 580.0C1589.7 576.2 1586.2 569.7 1586.4 564.4C1586.7 559.1 1589.8 552.9 1591.9 548.0C1594.0 543.1 1598.0 537.2 1599.3 535.0" fill="none" stroke="#e6dccb" stroke-width="0.7" stroke-linecap="round" stroke-linejoin="round" /><path d="M1491.9 599.4C1494.2 601.2 1501.9 606.3 1505.3 610.2C1508.8 614.2 1509.1 619.4 1512.5 623.3C1516.0 627.3 1522.7 629.9 1525.9 633.7C1529.2 637.6 1530.8 644.5 1531.8 646.6" fill="none" stroke="#e6dccb" stroke-width="0.7" stroke-linecap="round" stroke-linejoin="round" /><path d="M1498.0 556.1C1498.2 558.4 1499.6 564.6 1499.3 569.8C1499.1 575.0 1496.3 581.3 1496.4 587.4C1496.6 593.5 1499.6 601.5 1500.3 606.3C1501.0 611.0 1499.8 612.8 1500.7 615.8C1501.7 618.9 1505.2 623.1 1506.1 624.5" fill="none" stroke="#e6dccb" stroke-width="0.7" stroke-linecap="round" stroke-linejoin="round" /><path d="M1630.1 612.8C1629.4 614.8 1626.2 619.8 1625.9 625.1C1625.6 630.4 1626.2 638.7 1628.3 644.6C1630.3 650.5 1635.4 655.8 1638.2 660.5C1641.0 665.2 1643.2 669.3 1645.1 673.0C1647.0 676.7 1648.7 680.9 1649.5 682.5" fill="none" stroke="#e6dccb" stroke-width="0.7" stroke-linecap="round" stroke-linejoin="round" /><path d="M1826.5 697.7C1826.4 694.8 1826.9 686.0 1826.0 680.0C1825.0 674.1 1823.0 667.1 1820.8 662.1C1818.6 657.1 1814.4 653.6 1812.7 650.1C1811.1 646.6 1811.2 642.4 1810.9 640.9" fill="none" stroke="#e6dccb" stroke-width="0.7" stroke-linecap="round" stroke-linejoin="round" /><path d="M1613.2 434.0C1615.5 436.2 1623.5 443.8 1626.8 447.6C1630.1 451.3 1630.9 452.6 1633.0 456.7C1635.1 460.7 1638.2 469.5 1639.3 472.0" fill="none" stroke="#e6dccb" stroke-width="0.7" stroke-linecap="round" stroke-linejoin="round" /><path d="M1515.2 582.5C1515.1 580.3 1515.8 573.4 1514.9 569.4C1514.0 565.4 1511.1 561.8 1509.6 558.6C1508.2 555.3 1506.9 551.4 1506.3 549.9" fill="none" stroke="#e6dccb" stroke-width="0.7" stroke-linecap="round" stroke-linejoin="round" /><path d="M1596.7 487.9C1595.6 487.2 1592.5 485.5 1590.5 483.7C1588.4 482.0 1585.9 480.8 1584.3 477.3C1582.7 473.9 1581.6 465.3 1581.1 462.9" fill="none" stroke="#e6dccb" stroke-width="0.7" stroke-linecap="round" stroke-linejoin="round" /><path d="M1567.2 530.5C1565.9 528.0 1562.3 521.0 1559.5 515.6C1556.6 510.2 1551.8 504.1 1549.9 498.2C1548.0 492.2 1548.9 485.2 1548.2 480.1C1547.5 475.0 1546.4 472.9 1545.6 467.7C1544.8 462.6 1543.7 452.2 1543.3 449.1" fill="none" stroke="#e6dccb" stroke-width="0.7" stroke-linecap="round" stroke-linejoin="round" /><path d="M1600.3 563.2C1599.3 564.0 1598.1 565.9 1594.1 567.8C1590.2 569.7 1582.1 573.2 1576.7 574.6C1571.4 575.9 1566.2 576.1 1562.0 575.9C1557.8 575.8 1554.3 574.4 1551.3 573.6C1548.2 572.8 1545.0 571.6 1543.8 571.1" fill="none" stroke="#e6dccb" stroke-width="0.7" stroke-linecap="round" stroke-linejoin="round" /><path d="M1363.4 540.7C1361.1 542.1 1353.3 546.6 1349.5 548.7C1345.7 550.8 1343.6 551.3 1340.6 553.5C1337.6 555.6 1333.7 559.0 1331.5 561.5C1329.3 564.0 1328.1 567.2 1327.5 568.3" fill="none" stroke="#e6dccb" stroke-width="0.7" stroke-linecap="round" stroke-linejoin="round" /><path d="M1827.7 690.3C1826.0 688.0 1821.4 680.1 1817.5 676.2C1813.5 672.2 1808.5 670.2 1803.8 666.6C1799.1 663.0 1794.6 657.2 1789.4 654.6C1784.2 652.0 1777.5 651.0 1772.5 650.9C1767.4 650.9 1761.1 653.7 1758.9 654.3" fill="none" stroke="#e6dccb" stroke-width="0.7" stroke-linecap="round" stroke-linejoin="round" /><path d="M1851.1 412.2C1851.4 413.4 1853.3 415.6 1853.0 419.7C1852.7 423.9 1849.9 432.1 1849.1 436.9C1848.2 441.7 1848.1 446.5 1847.9 448.5" fill="none" stroke="#e6dccb" stroke-width="0.7" stroke-linecap="round" stroke-linejoin="round" /><path d="M1635.5 425.2C1637.7 425.1 1643.8 423.3 1648.9 424.7C1654.1 426.2 1662.0 431.7 1666.3 433.9C1670.7 436.2 1670.5 436.8 1675.1 438.2C1679.6 439.5 1689.3 440.4 1693.6 442.1C1698.0 443.7 1699.8 447.1 1701.0 448.1" fill="none" stroke="#e6dccb" stroke-width="0.7" stroke-linecap="round" stroke-linejoin="round" /><path d="M1784.4 514.0C1781.2 513.1 1770.9 509.2 1765.2 508.4C1759.5 507.7 1755.3 508.1 1750.0 509.6C1744.7 511.1 1736.2 516.2 1733.4 517.5" fill="none" stroke="#e6dccb" stroke-width="0.7" stroke-linecap="round" stroke-linejoin="round" /><path d="M1718.2 502.1C1719.6 501.6 1721.8 499.9 1726.4 499.0C1730.9 498.0 1740.9 497.1 1745.4 496.4C1749.9 495.7 1750.4 496.0 1753.2 494.8C1756.1 493.6 1759.6 490.6 1762.7 489.2C1765.8 487.8 1770.4 487.0 1771.9 486.5" fill="none" stroke="#e6dccb" stroke-width="0.7" stroke-linecap="round" stroke-linejoin="round" /><path d="M1396.8 479.8C1395.1 477.8 1389.1 472.2 1386.9 467.8C1384.7 463.4 1385.1 457.4 1383.6 453.5C1382.0 449.6 1378.9 448.4 1377.8 444.2C1376.8 440.0 1377.3 431.1 1377.2 428.5" fill="none" stroke="#e6dccb" stroke-width="0.7" stroke-linecap="round" stroke-linejoin="round" /><path d="M1549.8 564.1C1548.1 563.6 1544.2 561.4 1539.6 560.9C1535.0 560.3 1526.7 559.8 1522.2 560.6C1517.7 561.4 1514.3 564.7 1512.7 565.6" fill="none" stroke="#e6dccb" stroke-width="0.7" stroke-linecap="round" stroke-linejoin="round" /><path d="M1735.9 482.8C1736.5 485.9 1739.3 496.9 1739.4 501.1C1739.6 505.3 1738.0 504.2 1736.6 508.0C1735.2 511.8 1732.5 518.0 1730.9 523.8C1729.3 529.5 1727.6 539.3 1727.0 542.4" fill="none" stroke="#e6dccb" stroke-width="0.7" stroke-linecap="round" stroke-linejoin="round" /><path d="M1584.9 463.8C1582.4 463.3 1574.2 462.6 1569.6 461.0C1565.1 459.4 1562.3 456.8 1557.8 454.1C1553.2 451.5 1546.5 448.1 1542.2 445.0C1538.0 441.9 1533.9 437.2 1532.2 435.6" fill="none" stroke="#e6dccb" stroke-width="0.7" stroke-linecap="round" stroke-linejoin="round" /><path d="M1851.4 462.1C1851.9 460.5 1853.3 456.9 1854.5 452.5C1855.7 448.2 1856.4 441.1 1858.7 436.0C1860.9 430.8 1866.7 424.0 1868.3 421.6" fill="none" stroke="#e6dccb" stroke-width="0.7" stroke-linecap="round" stroke-linejoin="round" /><path d="M1429.2 552.9C1429.4 554.1 1430.2 556.3 1430.6 560.2C1431.0 564.1 1431.5 570.7 1431.6 576.5C1431.7 582.2 1430.8 590.3 1431.2 594.8C1431.7 599.3 1433.9 601.8 1434.4 603.2" fill="none" stroke="#e6dccb" stroke-width="0.7" stroke-linecap="round" stroke-linejoin="round" /><path d="M1625.6 568.5C1625.4 566.6 1625.4 560.8 1623.9 557.6C1622.3 554.3 1619.1 552.5 1616.6 549.2C1614.2 545.8 1610.4 539.4 1609.2 537.5" fill="none" stroke="#e6dccb" stroke-width="0.7" stroke-linecap="round" stroke-linejoin="round" /><path d="M1446.2 581.5C1447.9 581.8 1452.1 583.6 1456.4 583.2C1460.6 582.8 1466.4 579.5 1471.9 579.3C1477.3 579.1 1484.1 582.2 1488.9 581.9C1493.6 581.6 1497.1 579.0 1500.4 577.4C1503.7 575.8 1507.4 573.2 1508.8 572.3" fill="none" stroke="#e6dccb" stroke-width="0.7" stroke-linecap="round" stroke-linejoin="round" /><path d="M1862.6 424.1C1861.3 423.4 1858.7 421.7 1854.9 419.7C1851.1 417.8 1844.1 413.4 1840.0 412.3C1835.8 411.2 1832.9 413.6 1829.9 413.2C1826.8 412.8 1824.8 410.9 1821.7 409.9C1818.6 408.9 1812.9 407.6 1811.1 407.2" fill="none" stroke="#e6dccb" stroke-width="0.7" stroke-linecap="round" stroke-linejoin="round" /><path d="M1540.4 434.0C1542.8 435.4 1550.6 440.7 1554.7 442.4C1558.7 444.2 1561.4 443.7 1564.8 444.5C1568.1 445.3 1569.8 446.1 1574.5 447.2C1579.3 448.4 1588.2 450.6 1593.2 451.5C1598.2 452.3 1602.6 452.0 1604.5 452.1" fill="none" stroke="#e6dccb" stroke-width="0.7" stroke-linecap="round" stroke-linejoin="round" /><path d="M1868.9 587.9C1870.1 588.5 1872.2 590.0 1876.0 591.2C1879.8 592.3 1887.1 592.8 1891.6 595.0C1896.1 597.2 1900.2 600.7 1903.0 604.2C1905.8 607.7 1907.5 614.1 1908.4 616.0" fill="none" stroke="#e6dccb" stroke-width="0.7" stroke-linecap="round" stroke-linejoin="round" /><path d="M1521.8 654.8C1520.9 656.5 1517.6 661.0 1516.5 665.0C1515.4 669.0 1514.8 675.2 1515.0 679.1C1515.3 683.0 1516.1 685.0 1517.9 688.3C1519.7 691.6 1522.8 695.6 1525.7 698.8C1528.7 701.9 1533.9 705.6 1535.6 707.0" fill="none" stroke="#e6dccb" stroke-width="0.7" stroke-linecap="round" stroke-linejoin="round" /><path d="M1876.1 607.6C1876.8 606.5 1878.2 603.4 1880.3 600.9C1882.4 598.4 1886.7 595.1 1888.7 592.7C1890.7 590.3 1891.7 587.5 1892.4 586.5" fill="none" stroke="#e6dccb" stroke-width="0.7" stroke-linecap="round" stroke-linejoin="round" /><path d="M1397.4 487.6C1395.8 488.3 1390.7 490.2 1387.8 491.8C1385.0 493.3 1383.5 495.8 1380.3 496.7C1377.1 497.6 1373.2 498.0 1368.6 497.4C1364.0 496.8 1356.3 494.7 1352.8 493.1C1349.3 491.6 1348.4 489.0 1347.5 488.2" fill="none" stroke="#e6dccb" stroke-width="0.7" stroke-linecap="round" stroke-linejoin="round" /><path d="M1480.0 522.7C1482.7 523.6 1492.3 526.7 1496.2 527.9C1500.1 529.2 1500.6 529.7 1503.5 530.5C1506.4 531.3 1510.3 532.7 1513.4 532.6C1516.4 532.4 1519.2 530.4 1521.8 529.6C1524.4 528.8 1527.8 528.2 1529.0 527.9" fill="none" stroke="#e6dccb" stroke-width="0.7" stroke-linecap="round" stroke-linejoin="round" /><path d="M1474.2 534.1C1472.7 533.3 1468.6 531.7 1465.3 528.9C1461.9 526.2 1457.6 520.2 1454.3 517.8C1451.0 515.3 1446.8 514.8 1445.3 514.2" fill="none" stroke="#e6dccb" stroke-width="0.7" stroke-linecap="round" stroke-linejoin="round" /><path d="M1455.4 617.3C1453.8 617.5 1449.0 617.8 1445.6 618.8C1442.2 619.8 1437.7 621.7 1435.0 623.3C1432.4 625.0 1431.1 625.2 1429.5 628.5C1427.9 631.8 1426.3 640.7 1425.7 643.2" fill="none" stroke="#e6dccb" stroke-width="0.7" stroke-linecap="round" stroke-linejoin="round" /><path d="M1623.9 644.9C1627.1 645.1 1637.1 646.5 1642.8 645.9C1648.5 645.3 1652.4 642.4 1658.1 641.3C1663.9 640.3 1674.2 639.9 1677.5 639.6" fill="none" stroke="#e6dccb" stroke-width="0.7" stroke-linecap="round" stroke-linejoin="round" /><path d="M1802.3 479.6C1800.9 478.2 1796.9 473.2 1793.5 471.4C1790.0 469.6 1785.9 469.2 1781.8 468.8C1777.6 468.3 1770.5 468.6 1768.3 468.6" fill="none" stroke="#e6dccb" stroke-width="0.7" stroke-linecap="round" stroke-linejoin="round" /><path d="M1455.1 457.7C1453.7 459.9 1448.5 467.4 1446.8 470.9C1445.1 474.5 1445.3 475.5 1444.8 478.9C1444.4 482.3 1443.4 487.0 1444.1 491.4C1444.9 495.7 1448.4 502.7 1449.3 505.0" fill="none" stroke="#e6dccb" stroke-width="0.7" stroke-linecap="round" stroke-linejoin="round" /><path d="M1703.8 571.3C1703.0 569.6 1701.3 563.6 1698.8 560.7C1696.3 557.8 1692.6 555.1 1688.7 553.8C1684.8 552.5 1677.5 553.0 1675.3 552.8" fill="none" stroke="#e6dccb" stroke-width="0.7" stroke-linecap="round" stroke-linejoin="round" /><path d="M1635.7 547.1C1635.9 549.0 1637.5 554.4 1636.8 558.5C1636.1 562.6 1632.7 567.0 1631.6 571.9C1630.5 576.7 1630.4 584.9 1630.2 587.5" fill="none" stroke="#e6dccb" stroke-width="0.7" stroke-linecap="round" stroke-linejoin="round" /><path d="M1399.7 547.1C1397.7 545.9 1390.8 543.3 1387.5 539.5C1384.1 535.7 1381.7 529.2 1379.6 524.4C1377.5 519.5 1376.4 514.3 1374.7 510.1C1373.1 505.8 1372.3 503.0 1369.5 498.8C1366.7 494.7 1359.9 487.5 1358.0 485.3" fill="none" stroke="#e6dccb" stroke-width="0.7" stroke-linecap="round" stroke-linejoin="round" /><path d="M1809.0 522.0C1810.3 520.1 1814.5 514.3 1816.3 510.5C1818.2 506.8 1818.4 502.2 1820.2 499.5C1822.0 496.7 1826.1 494.9 1827.2 494.0" fill="none" stroke="#e6dccb" stroke-width="0.7" stroke-linecap="round" stroke-linejoin="round" /><path d="M1403.5 477.8C1401.5 476.6 1395.0 472.5 1391.4 470.7C1387.9 468.8 1386.1 468.3 1382.1 466.7C1378.2 465.0 1370.3 461.7 1367.9 460.7" fill="none" stroke="#e6dccb" stroke-width="0.7" stroke-linecap="round" stroke-linejoin="round" /><path d="M1613.4 591.8C1612.3 590.3 1610.1 586.3 1606.8 582.6C1603.4 579.0 1597.9 573.4 1593.3 569.9C1588.8 566.4 1583.6 564.8 1579.3 561.5C1575.1 558.3 1570.5 555.2 1567.9 550.4C1565.3 545.7 1564.3 536.1 1563.6 533.2" fill="none" stroke="#e6dccb" stroke-width="0.7" stroke-linecap="round" stroke-linejoin="round" /><path d="M1384.1 591.0C1382.3 591.4 1377.7 593.1 1373.6 593.3C1369.6 593.5 1363.7 592.0 1359.7 592.2C1355.8 592.3 1352.8 593.5 1349.8 594.5C1346.7 595.6 1342.7 597.8 1341.3 598.5" fill="none" stroke="#e6dccb" stroke-width="0.7" stroke-linecap="round" stroke-linejoin="round" /><path d="M1593.1 448.3C1595.8 448.1 1604.7 448.3 1609.2 447.0C1613.7 445.7 1616.2 441.9 1620.2 440.3C1624.2 438.7 1631.0 437.9 1633.2 437.5" fill="none" stroke="#e6dccb" stroke-width="0.7" stroke-linecap="round" stroke-linejoin="round" /><path d="M1803.2 427.4C1802.5 429.3 1800.5 435.4 1798.7 438.6C1796.9 441.9 1795.1 444.3 1792.6 446.9C1790.1 449.4 1787.1 450.6 1783.8 453.9C1780.5 457.2 1774.7 464.6 1772.9 466.8" fill="none" stroke="#e6dccb" stroke-width="0.7" stroke-linecap="round" stroke-linejoin="round" /><path d="M1787.2 650.6C1785.2 649.1 1778.7 645.3 1775.4 641.2C1772.0 637.1 1770.0 629.6 1767.0 625.9C1764.0 622.2 1760.1 621.4 1757.3 619.0C1754.6 616.7 1751.7 612.9 1750.5 611.7" fill="none" stroke="#e6dccb" stroke-width="0.7" stroke-linecap="round" stroke-linejoin="round" /><path d="M1662.6 526.3C1664.1 524.0 1670.1 516.4 1671.9 512.9C1673.6 509.5 1673.1 509.4 1673.0 505.5C1672.9 501.5 1670.9 493.0 1671.3 489.0C1671.7 485.0 1674.3 483.9 1675.3 481.5C1676.4 479.0 1677.1 475.6 1677.4 474.4" fill="none" stroke="#e6dccb" stroke-width="0.7" stroke-linecap="round" stroke-linejoin="round" /><path d="M1610.1 551.1C1607.4 552.4 1598.1 556.1 1593.9 558.7C1589.6 561.2 1588.5 563.6 1584.6 566.4C1580.6 569.2 1572.6 573.8 1570.2 575.3" fill="none" stroke="#e6dccb" stroke-width="0.7" stroke-linecap="round" stroke-linejoin="round" /><path d="M1868.8 524.1C1868.8 522.6 1869.4 518.0 1868.9 515.2C1868.3 512.4 1866.0 510.4 1865.7 507.4C1865.4 504.4 1866.7 500.4 1867.2 497.3C1867.6 494.2 1868.0 490.2 1868.2 488.8" fill="none" stroke="#e6dccb" stroke-width="0.7" stroke-linecap="round" stroke-linejoin="round" /><path d="M1481.0 417.5C1479.5 416.6 1475.7 413.4 1472.0 411.9C1468.4 410.4 1463.0 409.4 1459.1 408.8C1455.3 408.1 1450.5 408.1 1448.8 408.0" fill="none" stroke="#e6dccb" stroke-width="0.7" stroke-linecap="round" stroke-linejoin="round" /><path d="M1816.7 501.1C1819.6 502.6 1828.4 508.3 1834.4 510.2C1840.4 512.0 1847.5 511.7 1852.6 512.3C1857.7 512.8 1862.9 513.3 1864.9 513.5" fill="none" stroke="#e6dccb" stroke-width="0.7" stroke-linecap="round" stroke-linejoin="round" /><path d="M1766.1 526.0C1768.3 527.3 1773.8 531.7 1779.0 533.9C1784.2 536.1 1791.9 536.2 1797.4 539.3C1803.0 542.4 1807.6 548.4 1812.4 552.4C1817.3 556.4 1824.2 561.5 1826.6 563.3" fill="none" stroke="#e6dccb" stroke-width="0.7" stroke-linecap="round" stroke-linejoin="round" /><path d="M1717.7 462.6C1719.0 462.3 1721.6 462.0 1725.4 460.4C1729.2 458.8 1736.2 455.6 1740.4 452.9C1744.7 450.3 1749.3 445.7 1751.0 444.3" fill="none" stroke="#e6dccb" stroke-width="0.7" stroke-linecap="round" stroke-linejoin="round" /><path d="M1856.0 415.2C1853.6 413.8 1846.7 409.4 1841.6 406.9C1836.5 404.4 1830.2 403.3 1825.6 400.1C1820.9 397.0 1815.9 391.4 1813.7 388.0C1811.4 384.6 1811.6 383.1 1812.1 379.8C1812.5 376.6 1815.5 370.3 1816.2 368.3" fill="none" stroke="#e6dccb" stroke-width="0.7" stroke-linecap="round" stroke-linejoin="round" /><path d="M1706.1 484.1C1707.6 483.4 1711.9 481.5 1715.0 479.6C1718.0 477.7 1720.3 475.1 1724.6 472.8C1728.9 470.5 1738.0 466.9 1740.6 465.7" fill="none" stroke="#e6dccb" stroke-width="0.7" stroke-linecap="round" stroke-linejoin="round" /><path d="M1505.2 595.8C1503.5 596.5 1497.8 598.1 1495.0 600.4C1492.2 602.7 1490.6 607.0 1488.1 609.4C1485.6 611.9 1481.5 614.2 1480.2 615.2" fill="none" stroke="#e6dccb" stroke-width="0.7" stroke-linecap="round" stroke-linejoin="round" /><path d="M1728.5 569.3C1727.3 568.4 1724.5 565.8 1721.5 563.9C1718.5 562.0 1714.4 558.8 1710.3 558.1C1706.2 557.4 1699.1 559.3 1696.9 559.5" fill="none" stroke="#e6dccb" stroke-width="0.7" stroke-linecap="round" stroke-linejoin="round" /><path d="M1528.0 504.6C1524.9 505.0 1515.4 505.5 1509.7 506.8C1504.0 508.1 1498.7 509.0 1493.8 512.4C1488.9 515.7 1484.4 521.8 1480.1 526.7C1475.7 531.6 1470.5 537.4 1467.8 541.8C1465.0 546.3 1464.3 551.5 1463.6 553.4" fill="none" stroke="#e6dccb" stroke-width="0.7" stroke-linecap="round" stroke-linejoin="round" /><path d="M1706.6 463.2C1705.4 464.7 1701.3 468.6 1699.5 471.9C1697.7 475.2 1697.7 480.2 1696.0 483.0C1694.3 485.8 1691.9 486.7 1689.1 488.6C1686.2 490.5 1682.0 493.0 1678.7 494.5C1675.5 496.0 1671.1 497.2 1669.5 497.8" fill="none" stroke="#e6dccb" stroke-width="0.7" stroke-linecap="round" stroke-linejoin="round" /><path d="M1653.6 667.6C1655.1 665.8 1660.5 661.2 1662.6 656.4C1664.7 651.6 1664.8 643.8 1666.3 638.9C1667.9 634.1 1669.7 630.9 1671.8 627.2C1673.9 623.6 1678.0 618.9 1679.2 617.2" fill="none" stroke="#e6dccb" stroke-width="0.7" stroke-linecap="round" stroke-linejoin="round" /><path d="M1516.9 478.2C1516.0 477.5 1513.5 476.0 1511.0 473.8C1508.6 471.5 1505.1 468.0 1502.1 464.5C1499.2 461.0 1494.9 456.3 1493.2 452.9C1491.5 449.4 1492.1 445.4 1491.9 444.0" fill="none" stroke="#e6dccb" stroke-width="0.7" stroke-linecap="round" stroke-linejoin="round" /><path d="M1566.5 697.9C1567.2 694.7 1569.7 684.8 1570.6 678.5C1571.6 672.2 1573.2 666.5 1572.3 660.3C1571.4 654.2 1566.5 644.8 1565.4 641.7" fill="none" stroke="#e6dccb" stroke-width="0.7" stroke-linecap="round" stroke-linejoin="round" /><path d="M1579.7 479.4C1582.4 478.1 1590.6 472.9 1595.5 471.2C1600.4 469.6 1605.6 469.3 1609.1 469.6C1612.5 469.9 1613.2 470.4 1616.1 473.1C1618.9 475.9 1624.3 483.9 1626.0 486.0" fill="none" stroke="#e6dccb" stroke-width="0.7" stroke-linecap="round" stroke-linejoin="round" /><path d="M1437.9 644.5C1436.3 644.2 1432.6 643.0 1428.5 643.0C1424.4 643.1 1417.7 643.1 1413.2 644.8C1408.7 646.5 1403.6 651.7 1401.7 653.1" fill="none" stroke="#e6dccb" stroke-width="0.7" stroke-linecap="round" stroke-linejoin="round" /><path d="M1432.7 642.4C1434.7 640.0 1441.7 631.3 1445.0 628.3C1448.4 625.2 1450.5 625.6 1452.9 624.0C1455.3 622.4 1457.7 621.6 1459.5 618.9C1461.3 616.3 1460.7 612.0 1463.5 608.2C1466.3 604.3 1474.2 597.8 1476.3 595.7" fill="none" stroke="#e6dccb" stroke-width="0.7" stroke-linecap="round" stroke-linejoin="round" /><path d="M1359.3 464.3C1356.6 466.0 1347.6 469.7 1343.4 474.3C1339.2 478.8 1335.9 486.3 1333.9 491.7C1332.0 497.1 1333.6 501.9 1331.7 506.7C1329.8 511.5 1324.6 515.5 1322.5 520.3C1320.3 525.1 1319.4 533.0 1318.8 535.6" fill="none" stroke="#e6dccb" stroke-width="0.7" stroke-linecap="round" stroke-linejoin="round" /><path d="M1544.2 416.4C1543.0 417.8 1540.3 421.3 1537.2 424.4C1534.0 427.5 1527.8 432.0 1525.2 435.1C1522.6 438.2 1522.0 441.6 1521.4 442.9" fill="none" stroke="#e6dccb" stroke-width="0.7" stroke-linecap="round" stroke-linejoin="round" /><path d="M1699.3 546.3C1699.9 548.8 1701.5 557.0 1702.7 560.9C1703.9 564.8 1706.3 565.6 1706.5 569.7C1706.6 573.7 1703.9 582.7 1703.4 585.4" fill="none" stroke="#e6dccb" stroke-width="0.7" stroke-linecap="round" stroke-linejoin="round" /><path d="M1724.4 515.8C1724.5 518.3 1724.6 525.5 1725.1 531.0C1725.6 536.4 1726.6 543.5 1727.5 548.5C1728.4 553.5 1729.3 555.8 1730.6 561.0C1731.9 566.2 1734.4 576.6 1735.2 579.7" fill="none" stroke="#e6dccb" stroke-width="0.7" stroke-linecap="round" stroke-linejoin="round" /><path d="M1494.3 614.6C1495.4 617.5 1497.9 626.5 1500.7 631.9C1503.5 637.2 1508.5 642.3 1511.0 646.7C1513.6 651.2 1515.4 654.7 1516.0 658.6C1516.6 662.6 1514.8 668.6 1514.5 670.6" fill="none" stroke="#e6dccb" stroke-width="0.7" stroke-linecap="round" stroke-linejoin="round" /><path d="M1728.5 585.2C1726.9 585.9 1723.3 587.3 1718.8 589.5C1714.3 591.8 1706.5 595.4 1701.7 598.7C1696.9 602.0 1691.8 607.7 1689.9 609.5" fill="none" stroke="#e6dccb" stroke-width="0.7" stroke-linecap="round" stroke-linejoin="round" /><path d="M1686.5 482.5C1684.8 482.6 1679.9 482.8 1676.3 483.3C1672.7 483.8 1669.8 485.6 1665.0 485.3C1660.2 485.0 1650.3 482.2 1647.4 481.6" fill="none" stroke="#e6dccb" stroke-width="0.7" stroke-linecap="round" stroke-linejoin="round" /><path d="M1638.5 569.2C1640.5 569.5 1645.5 570.6 1650.1 570.8C1654.8 571.0 1661.9 570.1 1666.5 570.4C1671.2 570.7 1673.4 570.2 1677.8 572.5C1682.2 574.8 1688.0 582.2 1693.1 584.4C1698.2 586.6 1705.7 585.5 1708.3 585.7" fill="none" stroke="#e6dccb" stroke-width="0.7" stroke-linecap="round" stroke-linejoin="round" /><path d="M1566.8 516.2C1564.3 516.2 1557.2 518.1 1552.0 516.4C1546.7 514.7 1538.8 509.7 1535.1 506.1C1531.5 502.6 1530.9 497.0 1530.1 495.1" fill="none" stroke="#e6dccb" stroke-width="0.7" stroke-linecap="round" stroke-linejoin="round" /><path d="M1778.9 599.2C1777.3 597.7 1773.0 593.4 1769.3 590.4C1765.6 587.4 1762.0 583.8 1756.7 581.3C1751.5 578.9 1742.8 576.5 1737.7 575.7C1732.5 574.9 1729.6 575.4 1725.9 576.4C1722.1 577.5 1717.0 581.2 1715.2 582.1" fill="none" stroke="#e6dccb" stroke-width="0.7" stroke-linecap="round" stroke-linejoin="round" /><path d="M1727.7 436.1C1728.7 438.6 1730.9 446.7 1733.8 451.5C1736.6 456.4 1741.8 460.4 1744.7 465.3C1747.6 470.2 1748.5 477.0 1751.2 481.1C1754.0 485.1 1759.4 488.3 1761.1 489.7" fill="none" stroke="#e6dccb" stroke-width="0.7" stroke-linecap="round" stroke-linejoin="round" /><path d="M1847.3 670.0C1849.6 670.4 1855.9 673.0 1860.9 672.7C1866.0 672.4 1872.8 669.9 1877.6 668.1C1882.3 666.2 1886.1 664.5 1889.4 661.4C1892.8 658.4 1896.3 651.6 1897.7 649.7" fill="none" stroke="#e6dccb" stroke-width="0.7" stroke-linecap="round" stroke-linejoin="round" /><path d="M1592.2 496.7C1592.3 495.4 1593.2 492.3 1592.7 489.0C1592.3 485.6 1590.3 480.8 1589.3 476.6C1588.3 472.4 1587.2 466.0 1586.7 463.9" fill="none" stroke="#e6dccb" stroke-width="0.7" stroke-linecap="round" stroke-linejoin="round" /><path d="M1791.9 442.1C1794.1 441.2 1800.4 439.0 1804.8 437.0C1809.1 434.9 1812.5 431.3 1818.0 429.9C1823.4 428.6 1834.2 429.1 1837.5 428.9" fill="none" stroke="#e6dccb" stroke-width="0.7" stroke-linecap="round" stroke-linejoin="round" /><path d="M1533.9 415.1C1534.8 417.7 1536.6 426.2 1539.1 430.5C1541.5 434.8 1545.5 438.7 1548.4 440.8C1551.3 442.9 1551.9 442.6 1556.5 443.1C1561.1 443.5 1569.9 443.0 1576.1 443.7C1582.3 444.4 1590.8 446.7 1593.7 447.3" fill="none" stroke="#e6dccb" stroke-width="0.7" stroke-linecap="round" stroke-linejoin="round" /><path d="M1317.2 531.8C1320.3 531.9 1330.8 532.7 1336.1 532.3C1341.5 532.0 1344.0 530.3 1349.3 530.0C1354.5 529.6 1364.7 530.1 1367.8 530.1" fill="none" stroke="#e6dccb" stroke-width="0.7" stroke-linecap="round" stroke-linejoin="round" /><path d="M1848.4 575.6C1846.6 575.8 1841.1 576.9 1837.6 576.9C1834.1 576.8 1831.2 575.5 1827.4 575.2C1823.6 574.9 1818.8 575.0 1814.8 575.1C1810.8 575.1 1807.2 575.0 1803.1 575.3C1799.1 575.5 1792.5 576.4 1790.3 576.6" fill="none" stroke="#e6dccb" stroke-width="0.7" stroke-linecap="round" stroke-linejoin="round" /><path d="M1326.4 564.0C1325.0 564.1 1321.3 563.9 1318.1 564.3C1314.9 564.7 1310.7 565.7 1307.2 566.4C1303.8 567.1 1299.1 568.1 1297.5 568.4" fill="none" stroke="#e6dccb" stroke-width="0.7" stroke-linecap="round" stroke-linejoin="round" /><path d="M1295.3 529.1C1298.5 528.8 1309.1 528.1 1314.7 527.2C1320.3 526.2 1324.9 524.7 1329.0 523.4C1333.0 522.0 1337.3 519.7 1338.9 518.9" fill="none" stroke="#e6dccb" stroke-width="0.7" stroke-linecap="round" stroke-linejoin="round" /><path d="M1649.4 581.8C1648.3 584.3 1643.5 593.1 1642.4 597.0C1641.4 600.9 1642.5 602.2 1643.3 605.2C1644.2 608.2 1646.7 611.2 1647.5 614.9C1648.3 618.6 1648.0 625.3 1648.1 627.4" fill="none" stroke="#e6dccb" stroke-width="0.7" stroke-linecap="round" stroke-linejoin="round" /><path d="M1797.4 527.9C1798.3 531.0 1802.1 541.9 1802.8 546.9C1803.4 552.0 1801.3 553.3 1801.4 558.1C1801.4 562.9 1803.4 570.3 1803.0 575.7C1802.7 581.1 1799.0 585.4 1799.2 590.5C1799.3 595.7 1803.1 604.1 1803.9 606.8" fill="none" stroke="#e6dccb" stroke-width="0.7" stroke-linecap="round" stroke-linejoin="round" /><path d="M1318.3 591.9C1317.2 591.3 1314.4 591.4 1311.9 588.5C1309.3 585.5 1305.0 577.6 1303.0 574.2C1301.0 570.8 1300.8 571.0 1299.9 567.9C1299.0 564.8 1297.9 561.0 1297.7 555.6C1297.5 550.3 1298.4 539.1 1298.5 535.8" fill="none" stroke="#e6dccb" stroke-width="0.7" stroke-linecap="round" stroke-linejoin="round" /><path d="M1830.9 433.6C1831.8 431.8 1834.7 426.8 1836.6 423.1C1838.4 419.5 1841.1 415.4 1841.9 411.6C1842.8 407.9 1841.4 403.6 1841.7 400.5C1842.0 397.3 1843.4 394.1 1843.7 392.8" fill="none" stroke="#e6dccb" stroke-width="0.7" stroke-linecap="round" stroke-linejoin="round" /><path d="M1683.1 569.9C1685.9 571.4 1694.7 575.7 1700.3 578.9C1705.8 582.1 1711.7 586.8 1716.4 588.9C1721.1 591.0 1726.5 591.0 1728.5 591.5" fill="none" stroke="#e6dccb" stroke-width="0.7" stroke-linecap="round" stroke-linejoin="round" /><path d="M1606.4 653.7C1607.3 654.5 1609.4 656.7 1611.9 658.7C1614.4 660.8 1617.7 662.4 1621.3 666.0C1624.9 669.7 1629.8 676.1 1633.6 680.6C1637.4 685.0 1640.1 688.8 1644.0 692.7C1647.9 696.6 1654.6 702.2 1656.8 704.1" fill="none" stroke="#e6dccb" stroke-width="0.7" stroke-linecap="round" stroke-linejoin="round" /><path d="M1352.1 625.8C1353.6 627.0 1357.6 631.3 1361.0 633.1C1364.3 634.9 1370.2 635.8 1372.0 636.4" fill="none" stroke="#e6dccb" stroke-width="0.7" stroke-linecap="round" stroke-linejoin="round" /><path d="M1519.2 577.4C1520.6 575.7 1524.4 569.4 1527.6 567.1C1530.8 564.8 1534.8 564.3 1538.3 563.6C1541.8 562.9 1544.1 564.0 1548.3 562.9C1552.5 561.7 1561.2 558.0 1563.7 557.0" fill="none" stroke="#e6dccb" stroke-width="0.7" stroke-linecap="round" stroke-linejoin="round" /><path d="M1629.2 486.0C1631.9 486.7 1639.9 489.0 1645.0 490.2C1650.1 491.3 1654.2 491.6 1659.8 492.8C1665.5 494.0 1674.1 495.4 1678.9 497.6C1683.7 499.9 1685.6 503.8 1688.5 506.3C1691.3 508.9 1694.7 511.8 1696.0 512.9" fill="none" stroke="#e6dccb" stroke-width="0.7" stroke-linecap="round" stroke-linejoin="round" /><path d="M1734.3 441.5C1734.9 444.1 1736.8 452.2 1737.6 457.2C1738.4 462.2 1738.5 467.5 1739.3 471.3C1740.0 475.0 1742.3 475.6 1742.1 479.8C1742.0 484.0 1739.8 492.4 1738.4 496.3C1737.1 500.2 1734.6 502.1 1733.9 503.2" fill="none" stroke="#e6dccb" stroke-width="0.7" stroke-linecap="round" stroke-linejoin="round" /><path d="M1752.6 474.9C1752.9 476.3 1754.3 479.5 1754.2 483.3C1754.1 487.2 1754.4 492.8 1752.3 497.8C1750.2 502.8 1744.7 509.5 1741.4 513.4C1738.1 517.3 1734.1 519.9 1732.7 521.2" fill="none" stroke="#e6dccb" stroke-width="0.7" stroke-linecap="round" stroke-linejoin="round" /><path d="M1851.1 618.9C1850.2 620.4 1847.0 625.3 1845.8 628.0C1844.7 630.6 1844.9 632.2 1844.2 635.0C1843.5 637.9 1841.9 641.6 1841.4 645.0C1840.9 648.3 1840.3 651.5 1841.2 655.2C1842.0 659.0 1845.7 665.4 1846.6 667.4" fill="none" stroke="#e6dccb" stroke-width="0.7" stroke-linecap="round" stroke-linejoin="round" /><path d="M1450.8 494.1C1450.0 495.3 1449.1 498.8 1445.6 501.5C1442.0 504.2 1434.6 508.1 1429.8 510.4C1425.0 512.8 1421.3 514.6 1416.8 515.7C1412.3 516.9 1405.2 517.0 1402.9 517.2" fill="none" stroke="#e6dccb" stroke-width="0.7" stroke-linecap="round" stroke-linejoin="round" /><path d="M1679.4 676.7C1678.2 673.8 1675.0 664.3 1672.3 658.9C1669.7 653.5 1666.6 648.0 1663.4 644.1C1660.3 640.3 1655.3 637.1 1653.7 635.7" fill="none" stroke="#e6dccb" stroke-width="0.7" stroke-linecap="round" stroke-linejoin="round" /><path d="M1508.6 622.0C1510.4 621.5 1515.2 621.2 1519.7 618.9C1524.2 616.6 1531.5 612.6 1535.7 608.0C1539.9 603.4 1542.6 595.0 1545.0 591.2C1547.4 587.4 1549.3 586.1 1550.1 585.1" fill="none" stroke="#e6dccb" stroke-width="0.7" stroke-linecap="round" stroke-linejoin="round" /><path d="M1822.0 441.4C1821.0 439.8 1817.2 434.9 1816.0 432.1C1814.9 429.3 1815.1 427.0 1815.1 424.4C1815.0 421.8 1815.5 417.8 1815.6 416.5" fill="none" stroke="#e6dccb" stroke-width="0.7" stroke-linecap="round" stroke-linejoin="round" /><path d="M1307.5 576.4C1310.2 577.3 1319.9 580.5 1323.8 581.8C1327.8 583.2 1328.7 583.5 1331.4 584.5C1334.1 585.5 1336.9 586.6 1340.1 588.0C1343.4 589.3 1347.5 591.2 1350.8 592.6C1354.0 594.0 1358.1 595.7 1359.6 596.4" fill="none" stroke="#e6dccb" stroke-width="0.7" stroke-linecap="round" stroke-linejoin="round" /><path d="M1706.0 532.2C1703.6 532.4 1696.3 534.5 1691.8 533.7C1687.3 532.8 1683.0 528.4 1679.0 527.3C1675.1 526.2 1669.9 527.1 1668.1 527.0" fill="none" stroke="#e6dccb" stroke-width="0.7" stroke-linecap="round" stroke-linejoin="round" /><path d="M1488.0 614.2C1491.2 614.7 1501.0 614.9 1506.8 617.2C1512.6 619.4 1517.9 626.0 1522.8 627.8C1527.7 629.5 1531.3 627.6 1536.1 627.9C1541.0 628.2 1546.9 628.8 1551.9 629.8C1557.0 630.7 1564.0 632.9 1566.4 633.6" fill="none" stroke="#e6dccb" stroke-width="0.7" stroke-linecap="round" stroke-linejoin="round" /><path d="M1840.6 436.9C1839.3 437.5 1837.5 439.9 1833.0 440.5C1828.5 441.1 1817.8 439.8 1813.5 440.5C1809.2 441.1 1810.9 443.3 1807.3 444.4C1803.6 445.6 1796.6 446.4 1791.6 447.2C1786.6 448.0 1779.6 449.0 1777.2 449.4" fill="none" stroke="#e6dccb" stroke-width="0.7" stroke-linecap="round" stroke-linejoin="round" /><path d="M1736.9 644.6C1739.9 645.8 1750.7 649.0 1755.3 651.5C1759.9 654.1 1761.1 657.6 1764.2 660.0C1767.3 662.4 1772.4 665.1 1774.0 666.1" fill="none" stroke="#e6dccb" stroke-width="0.7" stroke-linecap="round" stroke-linejoin="round" /><path d="M1444.7 580.7C1442.7 579.9 1437.8 576.9 1432.7 575.9C1427.6 575.0 1418.8 574.6 1414.3 574.9C1409.8 575.2 1409.0 576.1 1405.8 577.9C1402.6 579.6 1396.9 584.4 1395.1 585.7" fill="none" stroke="#e6dccb" stroke-width="0.7" stroke-linecap="round" stroke-linejoin="round" /><path d="M1752.4 507.9C1753.2 510.0 1754.6 516.2 1757.2 520.8C1759.9 525.4 1765.2 532.1 1768.5 535.4C1771.8 538.6 1773.8 539.1 1777.1 540.5C1780.3 541.9 1786.1 543.2 1787.9 543.8" fill="none" stroke="#e6dccb" stroke-width="0.7" stroke-linecap="round" stroke-linejoin="round" /><path d="M1718.6 606.1C1717.9 603.4 1715.9 593.9 1714.4 589.8C1712.8 585.6 1712.1 585.4 1709.2 581.4C1706.3 577.4 1700.4 569.7 1696.9 565.8C1693.5 561.8 1689.9 559.1 1688.5 557.8" fill="none" stroke="#e6dccb" stroke-width="0.7" stroke-linecap="round" stroke-linejoin="round" /><path d="M1827.5 697.3C1824.8 698.3 1816.6 700.8 1811.4 703.3C1806.3 705.9 1800.6 709.8 1796.8 712.4C1792.9 715.1 1789.9 718.2 1788.5 719.3" fill="none" stroke="#e6dccb" stroke-width="0.7" stroke-linecap="round" stroke-linejoin="round" /><path d="M1640.0 625.6C1638.4 627.1 1632.5 632.1 1630.0 634.6C1627.5 637.1 1627.2 639.1 1625.0 640.6C1622.8 642.2 1620.5 641.3 1616.8 643.9C1613.2 646.5 1608.5 653.6 1603.1 656.3C1597.7 658.9 1587.5 659.2 1584.3 659.7" fill="none" stroke="#e6dccb" stroke-width="0.7" stroke-linecap="round" stroke-linejoin="round" /><path d="M1491.7 680.1C1492.0 681.6 1491.4 685.7 1493.1 689.5C1494.8 693.2 1500.0 697.7 1501.8 702.7C1503.6 707.6 1504.4 714.3 1503.8 719.0C1503.3 723.7 1499.9 727.4 1498.6 730.8C1497.4 734.1 1496.8 737.7 1496.4 739.1" fill="none" stroke="#e6dccb" stroke-width="0.7" stroke-linecap="round" stroke-linejoin="round" /><path d="M1451.1 682.4C1452.3 682.7 1455.7 684.0 1458.4 684.4C1461.2 684.8 1464.1 685.6 1467.8 684.7C1471.5 683.9 1478.4 680.1 1480.5 679.1" fill="none" stroke="#e6dccb" stroke-width="0.7" stroke-linecap="round" stroke-linejoin="round" /><path d="M1608.8 575.5C1609.6 574.4 1612.3 571.3 1613.4 568.9C1614.6 566.5 1615.1 565.3 1615.6 561.2C1616.2 557.1 1615.2 549.1 1616.5 544.4C1617.9 539.6 1622.5 534.8 1623.7 532.9" fill="none" stroke="#e6dccb" stroke-width="0.7" stroke-linecap="round" stroke-linejoin="round" /><path d="M1384.6 507.2C1382.3 504.9 1374.8 497.3 1370.7 493.3C1366.5 489.4 1362.4 487.0 1359.6 483.4C1356.9 479.8 1355.2 473.5 1354.3 471.5" fill="none" stroke="#e6dccb" stroke-width="0.7" stroke-linecap="round" stroke-linejoin="round" /><path d="M1402.6 683.9C1404.6 684.2 1411.2 686.2 1414.6 686.0C1418.0 685.9 1419.7 685.2 1423.1 682.8C1426.5 680.4 1433.2 673.4 1435.2 671.5" fill="none" stroke="#e6dccb" stroke-width="0.7" stroke-linecap="round" stroke-linejoin="round" /><path d="M1414.8 417.6C1415.3 420.2 1416.9 428.8 1417.8 432.9C1418.6 436.9 1418.3 439.2 1419.9 442.0C1421.6 444.7 1424.9 447.9 1427.9 449.5C1430.9 451.1 1434.5 450.6 1438.1 451.6C1441.6 452.6 1447.3 455.0 1449.2 455.6" fill="none" stroke="#e6dccb" stroke-width="0.7" stroke-linecap="round" stroke-linejoin="round" /><path d="M1569.0 591.7C1567.2 593.2 1561.3 597.7 1557.8 600.9C1554.3 604.1 1550.8 607.8 1547.9 610.9C1545.0 613.9 1543.2 617.3 1540.3 619.3C1537.5 621.2 1532.4 622.1 1530.9 622.6" fill="none" stroke="#e6dccb" stroke-width="0.7" stroke-linecap="round" stroke-linejoin="round" /><path d="M1842.2 657.7C1844.6 655.5 1853.6 647.9 1856.9 644.4C1860.2 641.0 1859.9 639.1 1862.0 636.8C1864.1 634.4 1868.3 631.3 1869.6 630.2" fill="none" stroke="#e6dccb" stroke-width="0.7" stroke-linecap="round" stroke-linejoin="round" /><path d="M1634.3 457.4C1636.2 455.5 1642.2 449.7 1645.3 445.8C1648.4 441.9 1650.0 438.5 1653.0 433.8C1656.0 429.2 1661.6 420.5 1663.3 417.8" fill="none" stroke="#e6dccb" stroke-width="0.7" stroke-linecap="round" stroke-linejoin="round" /><path d="M1593.4 521.1C1595.7 520.5 1602.9 518.2 1607.3 517.3C1611.8 516.5 1616.3 517.4 1620.3 515.9C1624.3 514.4 1627.4 511.1 1631.4 508.3C1635.3 505.5 1641.8 500.9 1643.8 499.4" fill="none" stroke="#e6dccb" stroke-width="0.7" stroke-linecap="round" stroke-linejoin="round" /><path d="M1862.4 492.7C1860.7 492.7 1856.7 493.8 1852.3 492.7C1848.0 491.6 1842.1 487.4 1836.3 486.0C1830.5 484.6 1820.8 484.4 1817.6 484.1" fill="none" stroke="#e6dccb" stroke-width="0.7" stroke-linecap="round" stroke-linejoin="round" /><path d="M1587.3 534.7C1585.2 534.0 1579.9 531.4 1574.8 530.4C1569.7 529.4 1561.8 529.3 1556.9 528.9C1552.0 528.5 1549.0 527.6 1545.5 527.9C1542.0 528.2 1540.5 530.5 1536.1 530.6C1531.6 530.7 1521.7 528.8 1518.8 528.4" fill="none" stroke="#e6dccb" stroke-width="0.7" stroke-linecap="round" stroke-linejoin="round" /><path d="M1867.4 676.1C1867.0 673.2 1864.9 663.2 1864.7 658.8C1864.6 654.4 1865.3 652.8 1866.7 649.7C1868.0 646.7 1870.8 645.2 1872.7 640.6C1874.6 636.0 1877.7 627.6 1877.9 622.4C1878.1 617.2 1874.6 611.5 1874.0 609.3" fill="none" stroke="#e6dccb" stroke-width="0.7" stroke-linecap="round" stroke-linejoin="round" /><path d="M1492.5 640.0C1491.6 637.6 1490.0 629.7 1487.1 625.6C1484.2 621.6 1480.2 618.0 1475.0 615.6C1469.8 613.2 1460.4 613.1 1455.7 611.3C1451.1 609.4 1451.1 606.4 1447.0 604.4C1443.0 602.5 1434.3 600.6 1431.7 599.9" fill="none" stroke="#e6dccb" stroke-width="0.7" stroke-linecap="round" stroke-linejoin="round" /><path d="M1737.3 695.7C1736.6 694.6 1734.3 692.9 1733.4 689.0C1732.5 685.0 1731.4 677.8 1731.9 672.0C1732.5 666.3 1735.8 657.3 1736.6 654.3" fill="none" stroke="#e6dccb" stroke-width="0.7" stroke-linecap="round" stroke-linejoin="round" /><path d="M1625.8 683.7C1624.4 682.4 1620.1 677.5 1617.2 675.9C1614.3 674.4 1611.2 675.5 1608.2 674.5C1605.3 673.4 1603.2 672.2 1599.6 669.5C1595.9 666.9 1588.7 660.3 1586.5 658.5" fill="none" stroke="#e6dccb" stroke-width="0.7" stroke-linecap="round" stroke-linejoin="round" /><path d="M1699.7 560.6C1699.6 563.1 1700.1 570.3 1699.1 576.0C1698.2 581.6 1695.1 588.3 1694.1 594.6C1693.1 600.8 1693.2 610.4 1693.0 613.6" fill="none" stroke="#e6dccb" stroke-width="0.7" stroke-linecap="round" stroke-linejoin="round" /><path d="M1827.8 495.7C1830.5 496.4 1839.8 499.1 1844.3 500.0C1848.8 500.8 1850.9 500.3 1854.9 500.5C1858.9 500.8 1863.3 502.8 1868.2 501.6C1873.1 500.4 1881.7 494.6 1884.4 493.2" fill="none" stroke="#e6dccb" stroke-width="0.7" stroke-linecap="round" stroke-linejoin="round" /><path d="M1605.9 548.2C1605.0 546.0 1602.5 538.5 1600.3 534.8C1598.2 531.1 1595.4 528.1 1593.0 526.2C1590.6 524.4 1587.0 524.0 1585.8 523.6" fill="none" stroke="#e6dccb" stroke-width="0.7" stroke-linecap="round" stroke-linejoin="round" /><path d="M1499.6 563.8C1501.5 562.9 1507.4 561.0 1510.8 558.7C1514.3 556.4 1517.5 551.6 1520.5 549.8C1523.6 548.1 1525.0 549.2 1529.0 548.2C1532.9 547.2 1541.8 544.6 1544.3 543.9" fill="none" stroke="#e6dccb" stroke-width="0.7" stroke-linecap="round" stroke-linejoin="round" /><path d="M1739.8 571.9C1739.5 570.2 1738.6 566.8 1737.8 561.8C1736.9 556.8 1735.5 546.9 1734.8 542.1C1734.1 537.2 1733.6 535.5 1733.7 532.7C1733.7 529.8 1735.5 528.7 1735.2 525.1C1734.9 521.5 1732.6 513.6 1732.1 511.3" fill="none" stroke="#e6dccb" stroke-width="0.7" stroke-linecap="round" stroke-linejoin="round" /><path d="M1450.8 619.3C1451.3 616.7 1452.2 608.6 1453.5 604.1C1454.8 599.6 1457.4 595.6 1458.8 592.3C1460.1 589.0 1461.1 585.7 1461.6 584.4" fill="none" stroke="#e6dccb" stroke-width="0.7" stroke-linecap="round" stroke-linejoin="round" /><path d="M1570.2 686.9C1570.8 685.3 1572.0 680.5 1573.8 677.1C1575.6 673.7 1579.4 670.4 1580.9 666.5C1582.3 662.7 1582.3 656.2 1582.6 654.1" fill="none" stroke="#e6dccb" stroke-width="0.7" stroke-linecap="round" stroke-linejoin="round" /><path d="M1628.2 626.3C1625.9 627.3 1618.2 628.9 1614.3 632.1C1610.4 635.2 1606.5 641.7 1604.7 645.1C1602.8 648.6 1603.7 650.3 1603.2 652.7C1602.8 655.2 1602.3 658.7 1602.1 659.8" fill="none" stroke="#e6dccb" stroke-width="0.7" stroke-linecap="round" stroke-linejoin="round" /><path d="M1476.2 695.3C1479.0 696.5 1488.2 700.6 1492.9 702.7C1497.5 704.8 1499.3 706.1 1504.1 707.8C1508.9 709.6 1518.8 712.5 1521.8 713.5" fill="none" stroke="#e6dccb" stroke-width="0.7" stroke-linecap="round" stroke-linejoin="round" /><path d="M1441.9 639.9C1441.0 638.0 1438.4 631.9 1436.7 628.3C1434.9 624.8 1433.0 622.1 1431.5 618.5C1430.0 614.9 1429.7 611.2 1427.5 606.8C1425.3 602.5 1419.9 594.8 1418.3 592.5" fill="none" stroke="#e6dccb" stroke-width="0.7" stroke-linecap="round" stroke-linejoin="round" /><path d="M1558.5 548.4C1560.4 545.9 1565.4 537.1 1570.1 533.7C1574.7 530.3 1581.2 530.1 1586.3 528.0C1591.4 526.0 1596.3 522.6 1600.5 521.2C1604.6 519.7 1609.4 519.7 1611.2 519.4" fill="none" stroke="#e6dccb" stroke-width="0.7" stroke-linecap="round" stroke-linejoin="round" /><path d="M1717.2 685.5C1715.6 683.5 1711.5 676.9 1707.5 673.4C1703.6 669.8 1698.3 667.6 1693.2 664.2C1688.2 660.7 1682.3 655.8 1677.2 652.7C1672.0 649.7 1666.9 646.8 1662.4 646.0C1657.9 645.1 1652.2 647.5 1650.1 647.8" fill="none" stroke="#e6dccb" stroke-width="0.7" stroke-linecap="round" stroke-linejoin="round" /><path d="M1742.2 486.7C1739.4 484.9 1731.4 478.2 1725.6 475.6C1719.8 473.1 1712.6 471.4 1707.2 471.4C1701.9 471.4 1695.6 475.0 1693.3 475.7" fill="none" stroke="#e6dccb" stroke-width="0.7" stroke-linecap="round" stroke-linejoin="round" /><path d="M1774.6 653.2C1772.0 654.3 1764.1 658.7 1759.2 660.2C1754.2 661.7 1749.6 660.7 1744.8 662.1C1739.9 663.5 1734.7 666.9 1730.1 668.9C1725.4 670.8 1719.1 673.0 1716.9 673.8" fill="none" stroke="#e6dccb" stroke-width="0.7" stroke-linecap="round" stroke-linejoin="round" /><path d="M1872.4 451.3C1873.8 448.4 1879.1 439.2 1881.0 434.0C1883.0 428.8 1882.8 424.4 1883.8 419.9C1884.8 415.4 1886.3 409.0 1886.8 406.8" fill="none" stroke="#e6dccb" stroke-width="0.7" stroke-linecap="round" stroke-linejoin="round" /><path d="M1388.6 592.1C1390.3 589.8 1396.6 581.8 1399.1 578.2C1401.7 574.6 1401.6 573.6 1403.8 570.6C1405.9 567.7 1408.4 564.7 1411.9 560.5C1415.5 556.3 1422.8 548.0 1425.0 545.5" fill="none" stroke="#e6dccb" stroke-width="0.7" stroke-linecap="round" stroke-linejoin="round" /><path d="M1626.0 686.6C1625.7 688.4 1625.7 693.1 1624.5 697.4C1623.3 701.7 1621.1 708.4 1618.8 712.3C1616.5 716.3 1612.9 717.8 1610.6 721.0C1608.3 724.1 1606.6 728.5 1605.1 731.3C1603.6 734.0 1602.0 736.5 1601.4 737.6" fill="none" stroke="#e6dccb" stroke-width="0.7" stroke-linecap="round" stroke-linejoin="round" /><path d="M1511.0 601.3C1511.6 604.4 1513.3 615.6 1514.6 620.1C1515.9 624.6 1517.1 626.1 1519.0 628.3C1520.8 630.5 1524.5 632.2 1525.6 633.0" fill="none" stroke="#e6dccb" stroke-width="0.7" stroke-linecap="round" stroke-linejoin="round" /><path d="M1758.5 624.8C1758.1 626.0 1758.5 628.3 1756.1 631.8C1753.8 635.3 1747.3 640.8 1744.3 645.6C1741.4 650.4 1740.7 656.6 1738.6 660.7C1736.6 664.8 1733.3 668.6 1732.2 670.1" fill="none" stroke="#e6dccb" stroke-width="0.7" stroke-linecap="round" stroke-linejoin="round" /><path d="M1808.3 474.9C1805.4 475.6 1796.5 477.9 1791.2 479.0C1785.9 480.0 1780.4 481.5 1776.4 481.2C1772.5 480.9 1768.9 477.7 1767.4 477.0" fill="none" stroke="#e6dccb" stroke-width="0.7" stroke-linecap="round" stroke-linejoin="round" /><path d="M1421.4 590.5C1423.0 591.9 1426.8 595.9 1430.7 599.2C1434.6 602.5 1441.3 605.9 1444.6 610.2C1447.9 614.5 1448.4 621.0 1450.8 624.8C1453.2 628.5 1456.8 630.1 1459.1 632.9C1461.3 635.6 1463.3 639.9 1464.2 641.3" fill="none" stroke="#e6dccb" stroke-width="0.7" stroke-linecap="round" stroke-linejoin="round" /><path d="M1810.8 663.2C1812.0 665.6 1814.7 673.9 1818.2 677.8C1821.8 681.6 1826.6 684.7 1831.9 686.2C1837.1 687.7 1844.4 686.4 1849.8 686.7C1855.2 687.0 1861.9 687.7 1864.3 687.9" fill="none" stroke="#e6dccb" stroke-width="0.7" stroke-linecap="round" stroke-linejoin="round" /><path d="M1498.3 695.6C1496.9 695.5 1493.8 693.7 1490.0 694.7C1486.3 695.8 1479.3 699.5 1475.7 702.0C1472.2 704.6 1472.1 707.0 1468.8 710.0C1465.6 713.0 1459.7 716.5 1456.2 719.8C1452.6 723.1 1449.1 728.2 1447.7 729.8" fill="none" stroke="#e6dccb" stroke-width="0.7" stroke-linecap="round" stroke-linejoin="round" /><path d="M1460.5 573.7C1459.9 575.3 1457.4 580.9 1456.7 583.8C1456.0 586.6 1455.9 587.3 1456.1 590.9C1456.4 594.6 1457.4 601.8 1458.3 605.5C1459.3 609.2 1461.3 611.9 1461.9 613.2" fill="none" stroke="#e6dccb" stroke-width="0.7" stroke-linecap="round" stroke-linejoin="round" /><path d="M1789.2 547.1C1786.7 545.7 1779.1 541.6 1774.7 538.5C1770.3 535.4 1766.1 532.0 1762.7 528.6C1759.3 525.2 1755.8 519.7 1754.5 517.9" fill="none" stroke="#e6dccb" stroke-width="0.7" stroke-linecap="round" stroke-linejoin="round" /><path d="M1533.8 524.3C1531.4 524.2 1525.0 524.8 1519.9 523.5C1514.7 522.1 1506.8 517.4 1502.8 516.1C1498.7 514.8 1497.9 515.5 1495.5 515.6C1493.1 515.7 1489.4 516.6 1488.2 516.8" fill="none" stroke="#e6dccb" stroke-width="0.7" stroke-linecap="round" stroke-linejoin="round" /><path d="M1759.9 590.7C1758.0 593.0 1752.7 600.7 1748.8 604.7C1744.9 608.7 1740.5 612.3 1736.4 614.8C1732.4 617.3 1726.5 618.9 1724.5 619.8" fill="none" stroke="#e6dccb" stroke-width="0.7" stroke-linecap="round" stroke-linejoin="round" /><path d="M1524.5 571.2C1527.4 570.5 1537.7 568.7 1541.8 566.8C1545.9 564.9 1545.6 561.4 1549.2 559.7C1552.7 558.1 1558.8 557.8 1563.0 557.0C1567.1 556.2 1569.8 554.8 1573.8 555.0C1577.8 555.3 1584.9 557.9 1587.1 558.5" fill="none" stroke="#e6dccb" stroke-width="0.7" stroke-linecap="round" stroke-linejoin="round" /><path d="M1874.3 433.8C1876.1 432.9 1882.0 429.7 1885.1 428.4C1888.2 427.0 1888.7 427.0 1893.2 425.9C1897.6 424.8 1908.8 422.4 1911.9 421.7" fill="none" stroke="#e6dccb" stroke-width="0.7" stroke-linecap="round" stroke-linejoin="round" /><path d="M1547.0 631.6C1544.8 631.2 1538.3 631.2 1534.1 629.2C1529.9 627.1 1525.8 621.7 1521.7 619.4C1517.7 617.1 1513.4 616.7 1509.6 615.3C1505.8 613.9 1500.8 611.8 1499.0 611.1" fill="none" stroke="#e6dccb" stroke-width="0.7" stroke-linecap="round" stroke-linejoin="round" /><path d="M1630.9 593.9C1632.4 594.4 1635.9 596.9 1640.2 596.8C1644.5 596.7 1651.0 595.1 1656.8 593.2C1662.5 591.3 1671.6 586.7 1674.6 585.4" fill="none" stroke="#e6dccb" stroke-width="0.7" stroke-linecap="round" stroke-linejoin="round" /><path d="M1619.7 441.2C1618.8 438.6 1615.2 429.5 1614.3 425.7C1613.4 421.8 1615.7 421.6 1614.1 417.9C1612.5 414.2 1606.1 405.8 1604.5 403.4" fill="none" stroke="#e6dccb" stroke-width="0.7" stroke-linecap="round" stroke-linejoin="round" /><path d="M1372.9 470.1C1376.1 470.6 1387.2 472.7 1392.1 473.1C1397.0 473.5 1399.3 472.1 1402.5 472.5C1405.7 472.9 1409.9 475.1 1411.3 475.6" fill="none" stroke="#e6dccb" stroke-width="0.7" stroke-linecap="round" stroke-linejoin="round" /><path d="M1664.7 589.2C1666.6 588.5 1672.5 585.8 1676.1 585.3C1679.6 584.7 1683.1 585.3 1686.3 585.9C1689.5 586.5 1693.8 588.3 1695.3 588.8" fill="none" stroke="#e6dccb" stroke-width="0.7" stroke-linecap="round" stroke-linejoin="round" /><path d="M1582.1 690.9C1581.0 693.3 1576.4 701.2 1575.4 705.2C1574.4 709.1 1575.4 711.3 1576.2 714.6C1577.0 717.8 1579.7 722.8 1580.4 724.5" fill="none" stroke="#e6dccb" stroke-width="0.7" stroke-linecap="round" stroke-linejoin="round" /><path d="M1788.3 613.7C1790.3 613.8 1796.1 613.4 1800.3 614.1C1804.4 614.7 1808.8 617.8 1813.2 617.9C1817.5 618.0 1821.8 616.0 1826.2 614.6C1830.5 613.2 1836.2 611.3 1839.1 609.5C1842.0 607.6 1842.8 604.6 1843.5 603.6" fill="none" stroke="#e6dccb" stroke-width="0.7" stroke-linecap="round" stroke-linejoin="round" /><path d="M1869.9 518.9C1868.1 521.5 1861.3 529.6 1859.0 534.4C1856.7 539.1 1857.1 542.6 1855.9 547.5C1854.8 552.5 1852.7 561.3 1852.1 564.0" fill="none" stroke="#e6dccb" stroke-width="0.7" stroke-linecap="round" stroke-linejoin="round" /><path d="M1623.4 480.8C1625.7 482.7 1633.6 490.2 1637.5 492.3C1641.4 494.5 1642.4 493.1 1646.9 493.5C1651.5 494.0 1659.1 494.2 1664.8 495.1C1670.5 496.0 1676.0 496.9 1681.1 498.9C1686.1 501.0 1692.8 506.0 1695.1 507.4" fill="none" stroke="#e6dccb" stroke-width="0.7" stroke-linecap="round" stroke-linejoin="round" /><path d="M1377.2 458.7C1378.7 460.0 1383.6 464.8 1386.4 466.3C1389.2 467.8 1390.6 466.1 1393.9 467.8C1397.1 469.4 1404.0 474.8 1406.0 476.3" fill="none" stroke="#e6dccb" stroke-width="0.7" stroke-linecap="round" stroke-linejoin="round" /><path d="M1830.6 422.8C1832.0 423.2 1834.7 425.1 1838.6 425.6C1842.5 426.0 1850.0 425.9 1853.9 425.2C1857.9 424.5 1860.9 422.1 1862.3 421.4" fill="none" stroke="#e6dccb" stroke-width="0.7" stroke-linecap="round" stroke-linejoin="round" /><path d="M1606.0 520.1C1607.1 521.8 1611.0 527.3 1613.0 529.9C1614.9 532.6 1616.0 533.5 1617.5 535.9C1619.1 538.3 1620.7 541.9 1622.2 544.2C1623.8 546.5 1626.1 548.7 1626.9 549.6" fill="none" stroke="#e6dccb" stroke-width="0.7" stroke-linecap="round" stroke-linejoin="round" /><path d="M1813.7 581.2C1812.3 581.5 1809.2 581.5 1805.1 582.5C1801.1 583.5 1794.6 585.2 1789.6 587.2C1784.6 589.1 1778.7 593.0 1775.0 594.1C1771.3 595.2 1768.7 593.8 1767.5 593.7" fill="none" stroke="#e6dccb" stroke-width="0.7" stroke-linecap="round" stroke-linejoin="round" /><path d="M1457.9 496.3C1458.6 493.3 1461.9 482.9 1462.4 477.9C1462.9 472.8 1460.2 470.6 1460.7 465.9C1461.3 461.1 1465.3 455.5 1465.5 449.6C1465.8 443.7 1462.3 436.4 1462.1 430.2C1461.8 423.9 1463.7 415.1 1464.1 412.0" fill="none" stroke="#e6dccb" stroke-width="0.7" stroke-linecap="round" stroke-linejoin="round" /><path d="M1503.6 586.4C1506.7 585.9 1516.2 582.6 1522.0 583.3C1527.7 584.0 1532.9 587.7 1538.2 590.8C1543.6 593.9 1549.4 599.8 1554.1 602.1C1558.7 604.4 1562.7 603.7 1566.1 604.4C1569.5 605.2 1573.1 606.4 1574.5 606.7" fill="none" stroke="#e6dccb" stroke-width="0.7" stroke-linecap="round" stroke-linejoin="round" /><path d="M1750.6 429.9C1748.6 428.5 1742.5 423.4 1738.3 421.5C1734.2 419.7 1730.5 421.2 1725.8 418.7C1721.1 416.2 1712.7 408.6 1710.1 406.6" fill="none" stroke="#e6dccb" stroke-width="0.7" stroke-linecap="round" stroke-linejoin="round" /><path d="M1444.9 517.3C1445.0 515.7 1445.2 511.2 1445.5 507.7C1445.9 504.3 1447.3 499.4 1447.1 496.4C1446.8 493.5 1444.4 491.2 1443.9 490.2" fill="none" stroke="#e6dccb" stroke-width="0.7" stroke-linecap="round" stroke-linejoin="round" /><path d="M1452.4 697.5C1451.7 696.0 1450.0 692.4 1448.0 688.5C1446.1 684.5 1442.0 679.5 1440.6 673.9C1439.3 668.2 1440.0 657.9 1439.9 654.7" fill="none" stroke="#e6dccb" stroke-width="0.7" stroke-linecap="round" stroke-linejoin="round" /><path d="M1538.4 503.5C1536.3 504.3 1529.7 507.1 1526.1 508.0C1522.6 509.0 1521.9 509.7 1517.2 509.2C1512.6 508.7 1501.3 505.8 1498.1 505.2" fill="none" stroke="#e6dccb" stroke-width="0.7" stroke-linecap="round" stroke-linejoin="round" /><path d="M1409.8 589.6C1410.7 590.8 1413.6 593.5 1415.5 597.0C1417.3 600.5 1419.4 605.0 1420.8 610.4C1422.3 615.9 1423.6 626.5 1424.1 629.7" fill="none" stroke="#e6dccb" stroke-width="0.7" stroke-linecap="round" stroke-linejoin="round" /><path d="M1311.1 544.3C1312.6 541.7 1318.2 532.6 1320.2 528.6C1322.2 524.7 1322.1 523.1 1323.3 520.7C1324.4 518.4 1326.2 516.7 1327.1 514.5C1327.9 512.2 1328.6 509.7 1328.6 507.2C1328.7 504.8 1327.4 500.8 1327.2 499.5" fill="none" stroke="#e6dccb" stroke-width="0.7" stroke-linecap="round" stroke-linejoin="round" /><path d="M1603.6 448.9C1602.3 448.3 1599.4 447.4 1596.0 445.1C1592.5 442.7 1586.2 438.7 1583.0 434.9C1579.9 431.0 1579.0 427.0 1577.0 422.0C1574.9 417.0 1572.3 411.0 1570.8 404.9C1569.4 398.7 1568.7 388.6 1568.3 385.3" fill="none" stroke="#e6dccb" stroke-width="0.7" stroke-linecap="round" stroke-linejoin="round" /><path d="M1459.3 635.0C1457.2 634.5 1451.1 632.2 1446.5 631.8C1441.9 631.3 1436.5 632.2 1431.7 632.3C1427.0 632.5 1421.6 631.8 1418.1 632.7C1414.6 633.5 1411.9 636.5 1410.7 637.3" fill="none" stroke="#e6dccb" stroke-width="0.7" stroke-linecap="round" stroke-linejoin="round" /><path d="M1648.1 608.4C1650.1 607.8 1655.6 606.0 1660.4 604.5C1665.2 602.9 1671.4 601.4 1677.0 599.2C1682.7 597.0 1689.6 593.5 1694.3 591.3C1699.0 589.1 1701.7 587.8 1705.2 586.0C1708.8 584.2 1713.9 581.6 1715.6 580.7" fill="none" stroke="#e6dccb" stroke-width="0.7" stroke-linecap="round" stroke-linejoin="round" /><path d="M1879.8 425.4C1878.4 426.0 1874.4 426.8 1871.6 429.0C1868.8 431.1 1866.8 434.9 1863.2 438.3C1859.7 441.7 1852.6 447.5 1850.5 449.4" fill="none" stroke="#e6dccb" stroke-width="0.7" stroke-linecap="round" stroke-linejoin="round" /><path d="M1552.3 497.0C1551.8 498.1 1551.6 501.0 1549.5 503.6C1547.4 506.1 1541.7 509.5 1539.4 512.3C1537.2 515.0 1538.6 517.2 1535.9 520.3C1533.1 523.4 1526.0 526.6 1522.9 530.8C1519.8 535.1 1518.2 543.1 1517.3 545.6" fill="none" stroke="#e6dccb" stroke-width="0.7" stroke-linecap="round" stroke-linejoin="round" /><path d="M1416.2 540.4C1415.4 538.7 1414.7 533.6 1411.9 529.9C1409.1 526.2 1402.7 520.5 1399.4 518.2C1396.1 515.8 1393.4 516.4 1392.2 516.0" fill="none" stroke="#e6dccb" stroke-width="0.7" stroke-linecap="round" stroke-linejoin="round" /><path d="M1674.7 547.4C1675.4 546.3 1676.8 543.8 1678.9 541.1C1681.1 538.4 1684.7 535.7 1687.5 531.2C1690.4 526.8 1694.5 519.8 1696.3 514.4C1698.1 509.1 1699.1 504.7 1698.3 499.2C1697.4 493.7 1692.3 484.5 1691.2 481.6" fill="none" stroke="#e6dccb" stroke-width="0.7" stroke-linecap="round" stroke-linejoin="round" /><path d="M1849.8 590.0C1847.5 591.7 1839.0 596.6 1835.9 600.4C1832.8 604.3 1831.6 608.6 1830.9 613.0C1830.2 617.5 1833.0 622.1 1831.7 627.1C1830.5 632.1 1825.1 638.2 1823.3 643.3C1821.4 648.3 1821.1 654.9 1820.7 657.2" fill="none" stroke="#e6dccb" stroke-width="0.7" stroke-linecap="round" stroke-linejoin="round" /><path d="M1477.3 460.5C1476.8 458.5 1474.9 453.2 1474.4 448.4C1473.9 443.6 1474.5 436.1 1474.4 431.9C1474.3 427.8 1474.9 426.1 1474.0 423.4C1473.2 420.7 1470.5 419.0 1469.4 415.5C1468.3 411.9 1467.9 404.3 1467.5 402.1" fill="none" stroke="#e6dccb" stroke-width="0.7" stroke-linecap="round" stroke-linejoin="round" /><path d="M1670.2 517.0C1667.8 517.6 1660.3 518.4 1655.8 520.7C1651.4 523.1 1647.6 528.0 1643.5 531.1C1639.4 534.2 1633.1 538.0 1631.0 539.3" fill="none" stroke="#e6dccb" stroke-width="0.7" stroke-linecap="round" stroke-linejoin="round" /><path d="M1744.2 587.2C1745.9 585.2 1751.3 579.0 1754.0 575.2C1756.6 571.5 1758.3 568.8 1760.2 564.6C1762.2 560.4 1764.5 554.5 1765.8 550.2C1767.1 546.0 1766.0 543.2 1768.1 538.9C1770.1 534.6 1776.4 527.0 1778.0 524.6" fill="none" stroke="#e6dccb" stroke-width="0.7" stroke-linecap="round" stroke-linejoin="round" /><path d="M1689.0 655.0C1688.0 656.5 1684.3 659.9 1683.1 664.4C1681.9 668.8 1683.0 677.3 1681.8 681.7C1680.5 686.1 1677.4 688.0 1675.8 690.8C1674.2 693.7 1672.8 697.3 1672.1 698.6" fill="none" stroke="#e6dccb" stroke-width="0.7" stroke-linecap="round" stroke-linejoin="round" /><path d="M1373.9 595.8C1375.5 593.5 1381.0 587.1 1383.4 581.9C1385.8 576.6 1387.3 569.3 1388.3 564.1C1389.3 559.0 1389.3 553.2 1389.5 551.0" fill="none" stroke="#e6dccb" stroke-width="0.7" stroke-linecap="round" stroke-linejoin="round" /><path d="M1409.0 495.7C1407.8 496.0 1405.8 496.9 1401.7 497.2C1397.6 497.5 1388.7 497.3 1384.3 497.8C1379.9 498.2 1376.6 499.7 1375.1 500.0" fill="none" stroke="#e6dccb" stroke-width="0.7" stroke-linecap="round" stroke-linejoin="round" /><path d="M1757.4 585.7C1759.2 586.1 1764.5 588.3 1768.3 588.0C1772.0 587.7 1775.2 586.2 1780.0 583.8C1784.8 581.5 1791.8 577.7 1797.0 574.1C1802.3 570.4 1809.3 564.0 1811.7 562.0" fill="none" stroke="#e6dccb" stroke-width="0.7" stroke-linecap="round" stroke-linejoin="round" /><path d="M1802.1 577.4C1804.4 578.1 1812.1 581.2 1815.8 581.6C1819.4 582.1 1821.0 580.8 1823.8 580.1C1826.6 579.4 1828.7 577.2 1832.5 577.5C1836.2 577.8 1841.7 578.8 1846.3 581.8C1851.0 584.8 1857.9 593.2 1860.2 595.4" fill="none" stroke="#e6dccb" stroke-width="0.7" stroke-linecap="round" stroke-linejoin="round" /><path d="M1737.2 598.0C1735.7 597.9 1731.7 597.9 1728.1 597.7C1724.6 597.5 1720.5 597.2 1715.8 596.8C1711.0 596.4 1704.6 596.4 1699.6 595.4C1694.6 594.4 1690.5 593.5 1685.9 590.9C1681.3 588.4 1674.2 581.8 1671.9 580.0" fill="none" stroke="#e6dccb" stroke-width="0.7" stroke-linecap="round" stroke-linejoin="round" /><path d="M1855.8 501.2C1854.1 501.7 1849.2 503.9 1845.7 504.4C1842.1 504.8 1838.9 505.3 1834.4 504.0C1829.8 502.7 1823.5 497.4 1818.6 496.6C1813.6 495.7 1807.0 498.4 1804.6 498.7" fill="none" stroke="#e6dccb" stroke-width="0.7" stroke-linecap="round" stroke-linejoin="round" /><path d="M1597.1 470.5C1595.7 470.6 1591.6 470.0 1588.7 470.8C1585.9 471.5 1583.8 473.3 1580.2 475.0C1576.5 476.7 1569.1 480.0 1566.9 481.0" fill="none" stroke="#e6dccb" stroke-width="0.7" stroke-linecap="round" stroke-linejoin="round" /><path d="M1782.9 521.4C1782.9 522.9 1783.8 526.4 1782.9 530.7C1782.0 535.1 1779.6 543.6 1777.6 547.5C1775.5 551.4 1772.1 551.6 1770.4 554.1C1768.6 556.6 1767.8 558.0 1767.0 562.6C1766.3 567.1 1766.2 578.1 1766.0 581.2" fill="none" stroke="#e6dccb" stroke-width="0.7" stroke-linecap="round" stroke-linejoin="round" /><path d="M1826.9 548.4C1829.1 549.7 1836.1 552.6 1840.5 555.7C1844.8 558.9 1849.2 564.1 1852.9 567.4C1856.7 570.7 1859.7 573.0 1863.0 575.5C1866.2 578.1 1870.9 581.4 1872.5 582.6" fill="none" stroke="#e6dccb" stroke-width="0.7" stroke-linecap="round" stroke-linejoin="round" /><path d="M1558.5 609.4C1558.3 607.9 1558.6 603.6 1557.1 600.6C1555.5 597.6 1551.5 593.8 1549.2 591.5C1547.0 589.1 1544.5 587.5 1543.5 586.7" fill="none" stroke="#e6dccb" stroke-width="0.7" stroke-linecap="round" stroke-linejoin="round" /><path d="M1336.9 534.6C1338.0 533.1 1341.6 528.8 1343.6 525.7C1345.6 522.6 1347.8 520.0 1348.7 516.0C1349.7 511.9 1348.5 505.5 1349.5 501.3C1350.5 497.1 1353.8 493.8 1354.8 490.6C1355.8 487.4 1355.3 483.6 1355.4 482.2" fill="none" stroke="#e6dccb" stroke-width="0.7" stroke-linecap="round" stroke-linejoin="round" /><path d="M1426.2 620.5C1426.0 618.7 1424.5 614.0 1424.9 609.5C1425.2 604.9 1427.8 598.1 1428.3 593.3C1428.8 588.4 1427.9 582.5 1427.9 580.4" fill="none" stroke="#e6dccb" stroke-width="0.7" stroke-linecap="round" stroke-linejoin="round" /><path d="M1499.5 547.9C1501.4 545.3 1506.8 537.6 1510.9 532.7C1515.1 527.9 1520.7 521.5 1524.4 518.7C1528.2 516.0 1531.8 516.6 1533.3 516.2" fill="none" stroke="#e6dccb" stroke-width="0.7" stroke-linecap="round" stroke-linejoin="round" /><path d="M1875.0 469.8C1875.2 467.6 1874.8 461.5 1876.3 457.1C1877.8 452.7 1882.3 448.7 1884.1 443.3C1885.9 437.9 1886.6 427.9 1887.0 424.8" fill="none" stroke="#e6dccb" stroke-width="0.7" stroke-linecap="round" stroke-linejoin="round" /><path d="M1800.6 558.8C1802.7 559.0 1808.9 558.2 1813.0 559.7C1817.1 561.2 1822.4 565.5 1825.2 568.0C1827.9 570.5 1828.8 573.5 1829.6 574.6" fill="none" stroke="#e6dccb" stroke-width="0.7" stroke-linecap="round" stroke-linejoin="round" /><path d="M1434.8 622.6C1434.8 623.9 1434.4 626.6 1434.5 630.3C1434.6 633.9 1434.8 639.6 1435.4 644.3C1435.9 649.0 1437.5 656.1 1438.0 658.4" fill="none" stroke="#e6dccb" stroke-width="0.7" stroke-linecap="round" stroke-linejoin="round" /><path d="M1461.6 416.8C1460.7 415.1 1457.9 409.0 1456.1 406.3C1454.3 403.6 1453.2 402.7 1450.8 400.8C1448.4 398.9 1444.4 396.0 1441.6 394.9C1438.9 393.8 1435.5 394.3 1434.3 394.2" fill="none" stroke="#e6dccb" stroke-width="0.7" stroke-linecap="round" stroke-linejoin="round" /><path d="M1573.6 417.6C1575.2 415.9 1581.2 410.5 1583.0 407.4C1584.7 404.4 1583.0 402.7 1584.4 399.2C1585.8 395.8 1589.3 390.6 1591.4 386.8C1593.5 383.1 1596.0 378.5 1596.9 376.8" fill="none" stroke="#e6dccb" stroke-width="0.7" stroke-linecap="round" stroke-linejoin="round" /><path d="M1733.2 556.9C1735.1 554.9 1740.7 548.0 1744.3 544.8C1747.9 541.5 1751.1 539.8 1754.8 537.2C1758.6 534.6 1762.4 532.0 1767.0 529.2C1771.5 526.3 1778.2 521.6 1782.0 519.9C1785.8 518.2 1788.3 519.1 1789.6 518.9" fill="none" stroke="#e6dccb" stroke-width="0.7" stroke-linecap="round" stroke-linejoin="round" /><path d="M1733.7 589.5C1731.5 589.3 1726.0 588.4 1720.6 588.5C1715.2 588.5 1706.6 588.5 1701.3 589.8C1695.9 591.2 1692.4 593.1 1688.5 596.4C1684.7 599.7 1681.5 605.2 1678.1 609.6C1674.7 613.9 1669.7 620.5 1668.0 622.7" fill="none" stroke="#e6dccb" stroke-width="0.7" stroke-linecap="round" stroke-linejoin="round" /><path d="M1471.2 666.4C1474.1 667.4 1484.3 670.2 1488.6 672.3C1492.9 674.3 1492.9 677.2 1497.0 678.7C1501.1 680.2 1510.4 680.8 1513.0 681.2" fill="none" stroke="#e6dccb" stroke-width="0.7" stroke-linecap="round" stroke-linejoin="round" /><path d="M1721.6 429.4C1722.8 427.6 1727.2 421.6 1729.0 418.5C1730.8 415.4 1729.4 414.2 1732.4 410.9C1735.3 407.5 1743.7 402.5 1747.0 398.5C1750.3 394.5 1751.3 388.8 1752.2 386.8" fill="none" stroke="#e6dccb" stroke-width="0.7" stroke-linecap="round" stroke-linejoin="round" /><path d="M1451.3 605.6C1453.1 606.8 1458.3 610.5 1462.3 612.8C1466.3 615.2 1471.4 616.1 1475.2 620.0C1479.0 623.9 1483.2 630.7 1485.0 636.4C1486.8 642.1 1485.7 651.2 1485.9 654.1" fill="none" stroke="#e6dccb" stroke-width="0.7" stroke-linecap="round" stroke-linejoin="round" /><path d="M1424.7 482.4C1422.8 482.6 1416.8 484.4 1413.3 483.8C1409.7 483.3 1406.4 479.6 1403.4 478.9C1400.4 478.2 1399.1 478.4 1395.3 479.8C1391.4 481.2 1382.9 485.9 1380.5 487.1" fill="none" stroke="#e6dccb" stroke-width="0.7" stroke-linecap="round" stroke-linejoin="round" /><path d="M1786.1 424.0C1785.2 427.0 1782.0 437.7 1781.2 442.1C1780.4 446.4 1783.0 446.2 1781.4 450.4C1779.8 454.6 1773.0 464.4 1771.3 467.2" fill="none" stroke="#e6dccb" stroke-width="0.7" stroke-linecap="round" stroke-linejoin="round" /><path d="M1712.8 548.1C1712.8 546.4 1712.7 541.9 1712.7 537.6C1712.8 533.2 1713.5 527.1 1713.0 522.0C1712.6 516.9 1712.5 512.1 1710.2 507.0C1707.8 501.8 1702.1 494.5 1698.9 490.9C1695.6 487.3 1692.1 486.2 1690.7 485.2" fill="none" stroke="#e6dccb" stroke-width="0.7" stroke-linecap="round" stroke-linejoin="round" /><path d="M1856.6 685.6C1859.5 685.5 1870.0 684.8 1874.2 684.7C1878.5 684.6 1878.0 684.0 1882.2 684.9C1886.4 685.9 1895.4 688.6 1899.2 690.3C1903.0 692.0 1901.3 693.9 1904.9 695.3C1908.6 696.6 1918.5 697.8 1921.2 698.3" fill="none" stroke="#e6dccb" stroke-width="0.7" stroke-linecap="round" stroke-linejoin="round" /><path d="M1577.9 669.4C1580.5 669.8 1588.9 670.6 1593.3 671.7C1597.7 672.9 1601.3 674.7 1604.3 676.2C1607.2 677.6 1608.4 677.3 1611.0 680.3C1613.5 683.3 1618.0 692.0 1619.4 694.4" fill="none" stroke="#e6dccb" stroke-width="0.7" stroke-linecap="round" stroke-linejoin="round" /><path d="M1763.5 545.1C1763.7 547.5 1763.7 555.9 1764.4 559.2C1765.2 562.6 1766.4 562.9 1768.0 565.3C1769.7 567.6 1771.9 571.1 1774.3 573.3C1776.7 575.6 1781.1 577.9 1782.5 578.8" fill="none" stroke="#e6dccb" stroke-width="0.7" stroke-linecap="round" stroke-linejoin="round" /><path d="M1535.3 612.2C1536.6 609.5 1540.4 600.8 1543.2 595.7C1546.0 590.7 1549.5 585.7 1552.3 581.9C1555.0 578.2 1557.9 575.8 1559.9 573.2C1561.8 570.6 1562.3 568.4 1563.8 566.3C1565.3 564.2 1568.1 561.5 1568.9 560.5" fill="none" stroke="#e6dccb" stroke-width="0.7" stroke-linecap="round" stroke-linejoin="round" /><path d="M1691.8 674.4C1691.4 671.2 1688.7 661.6 1689.0 655.1C1689.3 648.7 1692.5 640.2 1693.5 635.8C1694.5 631.4 1693.8 632.3 1694.8 628.7C1695.8 625.1 1698.8 616.6 1699.6 614.2" fill="none" stroke="#e6dccb" stroke-width="0.7" stroke-linecap="round" stroke-linejoin="round" /><path d="M1799.2 588.3C1796.9 589.4 1790.4 594.2 1785.7 595.0C1781.0 595.9 1775.9 595.0 1771.1 593.3C1766.2 591.5 1758.9 585.9 1756.5 584.5" fill="none" stroke="#e6dccb" stroke-width="0.7" stroke-linecap="round" stroke-linejoin="round" /><path d="M1874.6 545.1C1875.2 543.4 1877.2 539.6 1878.3 534.5C1879.5 529.5 1880.9 519.9 1881.5 514.9C1882.1 509.9 1881.4 507.4 1881.9 504.3C1882.3 501.2 1883.6 497.7 1884.0 496.3" fill="none" stroke="#e6dccb" stroke-width="0.7" stroke-linecap="round" stroke-linejoin="round" /><path d="M1470.2 525.8C1472.5 527.6 1478.6 533.4 1483.7 536.8C1488.8 540.2 1495.8 544.4 1501.0 546.2C1506.2 548.1 1511.3 548.0 1514.8 548.0C1518.3 548.1 1520.7 546.9 1521.9 546.6" fill="none" stroke="#e6dccb" stroke-width="0.7" stroke-linecap="round" stroke-linejoin="round" /><path d="M1468.0 669.9C1467.5 671.6 1465.9 677.0 1465.0 679.9C1464.0 682.8 1463.1 684.4 1462.4 687.4C1461.7 690.4 1462.5 693.7 1460.8 697.9C1459.1 702.1 1453.6 710.2 1452.2 712.6" fill="none" stroke="#e6dccb" stroke-width="0.7" stroke-linecap="round" stroke-linejoin="round" /><path d="M1703.5 583.3C1703.8 581.9 1703.5 578.9 1705.2 574.8C1706.9 570.8 1709.8 563.0 1713.7 559.0C1717.6 555.1 1724.8 554.2 1728.8 551.0C1732.8 547.8 1734.4 543.4 1737.7 539.8C1741.0 536.2 1746.8 531.4 1748.6 529.7" fill="none" stroke="#e6dccb" stroke-width="0.7" stroke-linecap="round" stroke-linejoin="round" /><path d="M1591.1 489.4C1593.2 487.9 1600.7 482.9 1603.8 480.1C1606.8 477.2 1607.7 475.8 1609.7 472.2C1611.7 468.7 1614.1 463.4 1615.6 458.6C1617.1 453.7 1618.1 445.8 1618.6 443.2" fill="none" stroke="#e6dccb" stroke-width="0.7" stroke-linecap="round" stroke-linejoin="round" /><path d="M1824.1 697.4C1825.7 694.9 1832.0 687.4 1833.8 682.5C1835.6 677.6 1835.4 671.7 1835.0 668.0C1834.7 664.3 1832.0 663.1 1831.6 660.5C1831.2 657.8 1831.6 655.4 1832.6 651.9C1833.6 648.3 1836.8 641.1 1837.7 639.0" fill="none" stroke="#e6dccb" stroke-width="0.7" stroke-linecap="round" stroke-linejoin="round" /><path d="M1772.9 554.9C1771.7 555.0 1769.9 555.3 1765.5 555.7C1761.1 556.0 1751.0 556.9 1746.5 556.9C1741.9 556.9 1739.5 555.9 1738.1 555.7" fill="none" stroke="#e6dccb" stroke-width="0.7" stroke-linecap="round" stroke-linejoin="round" /><path d="M1715.4 614.1C1714.3 615.8 1710.7 621.2 1708.5 624.3C1706.3 627.5 1704.5 628.6 1702.3 632.9C1700.2 637.2 1697.3 644.6 1695.6 650.2C1694.0 655.9 1693.0 662.6 1692.5 667.0C1691.9 671.3 1692.3 674.9 1692.2 676.4" fill="none" stroke="#e6dccb" stroke-width="0.7" stroke-linecap="round" stroke-linejoin="round" /><path d="M1733.5 694.8C1732.2 694.6 1729.6 694.5 1725.9 693.6C1722.2 692.7 1715.1 691.3 1711.4 689.3C1707.8 687.2 1705.4 682.6 1704.2 681.2" fill="none" stroke="#e6dccb" stroke-width="0.7" stroke-linecap="round" stroke-linejoin="round" /><path d="M1427.6 475.7C1428.9 477.4 1431.6 481.7 1435.2 485.6C1438.8 489.5 1444.4 495.2 1449.3 498.9C1454.1 502.7 1462.0 506.5 1464.5 508.0" fill="none" stroke="#e6dccb" stroke-width="0.7" stroke-linecap="round" stroke-linejoin="round" /><path d="M1604.1 441.6C1605.2 442.4 1608.2 444.1 1610.3 446.2C1612.4 448.2 1614.3 449.9 1616.7 453.9C1619.1 457.8 1623.1 465.5 1624.8 469.8C1626.4 474.1 1626.4 478.1 1626.7 479.8" fill="none" stroke="#e6dccb" stroke-width="0.7" stroke-linecap="round" stroke-linejoin="round" /><path d="M1830.3 677.9C1827.1 677.6 1816.3 675.6 1811.5 676.0C1806.8 676.5 1805.0 677.2 1801.6 680.5C1798.2 683.7 1792.9 693.1 1791.2 695.7" fill="none" stroke="#e6dccb" stroke-width="0.7" stroke-linecap="round" stroke-linejoin="round" /><path d="M1498.6 435.7C1497.3 437.8 1492.7 445.1 1490.3 448.2C1488.0 451.3 1486.5 452.2 1484.5 454.1C1482.6 455.9 1479.8 458.5 1478.9 459.4" fill="none" stroke="#e6dccb" stroke-width="0.7" stroke-linecap="round" stroke-linejoin="round" /><path d="M1550.5 644.7C1551.0 646.7 1552.9 653.4 1553.3 656.5C1553.6 659.6 1553.0 660.0 1552.4 663.5C1551.8 666.9 1551.6 672.0 1549.8 677.2C1548.0 682.4 1543.9 690.5 1541.5 694.7C1539.1 698.9 1536.3 701.1 1535.3 702.4" fill="none" stroke="#e6dccb" stroke-width="0.7" stroke-linecap="round" stroke-linejoin="round" /><path d="M1407.4 550.8C1408.2 553.3 1410.8 562.4 1412.1 566.1C1413.4 569.8 1412.2 569.9 1415.0 573.1C1417.9 576.4 1425.8 580.9 1429.4 585.8C1433.1 590.7 1435.9 599.7 1437.2 602.5" fill="none" stroke="#e6dccb" stroke-width="0.7" stroke-linecap="round" stroke-linejoin="round" /><path d="M1519.9 695.5C1519.9 697.1 1518.9 702.4 1519.7 705.2C1520.4 708.0 1521.0 709.9 1524.3 712.5C1527.6 715.1 1535.3 718.2 1539.6 720.9C1543.9 723.6 1545.9 727.0 1550.2 728.7C1554.5 730.4 1562.9 730.9 1565.4 731.3" fill="none" stroke="#e6dccb" stroke-width="0.7" stroke-linecap="round" stroke-linejoin="round" /><path d="M1370.9 499.6C1373.8 500.6 1382.8 503.1 1388.2 505.6C1393.5 508.2 1397.9 511.7 1403.1 514.9C1408.2 518.0 1414.8 520.6 1419.2 524.6C1423.6 528.6 1427.9 536.6 1429.6 539.0" fill="none" stroke="#e6dccb" stroke-width="0.7" stroke-linecap="round" stroke-linejoin="round" /><path d="M1765.5 474.2C1763.7 475.5 1758.6 480.8 1755.0 482.2C1751.5 483.7 1749.1 482.4 1744.3 483.0C1739.5 483.6 1729.3 485.3 1726.3 485.8" fill="none" stroke="#e6dccb" stroke-width="0.7" stroke-linecap="round" stroke-linejoin="round" /><path d="M1861.6 630.0C1863.0 627.9 1868.2 622.0 1869.6 617.3C1871.0 612.5 1868.8 606.0 1870.1 601.5C1871.5 596.9 1876.0 594.4 1877.6 590.1C1879.2 585.8 1880.2 580.3 1879.8 575.9C1879.3 571.5 1875.9 565.8 1875.1 563.7" fill="none" stroke="#e6dccb" stroke-width="0.7" stroke-linecap="round" stroke-linejoin="round" /><path d="M1337.3 532.2C1338.9 530.8 1344.5 526.0 1347.0 523.7C1349.5 521.3 1349.4 520.1 1352.4 518.2C1355.5 516.2 1362.0 513.8 1365.4 512.0C1368.9 510.2 1370.7 508.8 1373.0 507.3C1375.3 505.8 1378.4 503.6 1379.4 502.9" fill="none" stroke="#e6dccb" stroke-width="0.7" stroke-linecap="round" stroke-linejoin="round" /><path d="M1540.7 451.5C1542.6 450.1 1549.3 446.0 1552.1 443.0C1554.8 440.0 1554.5 436.8 1557.3 433.8C1560.1 430.8 1564.8 427.6 1569.0 425.0C1573.2 422.4 1580.3 419.3 1582.5 418.1" fill="none" stroke="#e6dccb" stroke-width="0.7" stroke-linecap="round" stroke-linejoin="round" /><path d="M1544.6 655.1C1545.6 654.4 1547.9 652.4 1550.7 650.6C1553.4 648.7 1557.7 645.1 1561.0 643.9C1564.4 642.7 1568.0 643.9 1570.7 643.3C1573.4 642.8 1576.2 640.9 1577.3 640.5" fill="none" stroke="#e6dccb" stroke-width="0.7" stroke-linecap="round" stroke-linejoin="round" /><path d="M1804.0 456.3C1806.5 455.8 1813.6 452.9 1818.7 453.2C1823.8 453.5 1829.6 457.1 1834.7 457.9C1839.9 458.8 1844.4 458.8 1849.6 458.3C1854.8 457.7 1863.3 455.0 1866.0 454.4" fill="none" stroke="#e6dccb" stroke-width="0.7" stroke-linecap="round" stroke-linejoin="round" /><path d="M1442.3 662.4C1440.4 659.8 1433.6 650.9 1430.8 646.8C1428.0 642.7 1427.0 641.1 1425.5 637.9C1424.0 634.7 1423.2 630.1 1421.6 627.6C1420.0 625.0 1418.1 624.6 1416.1 622.5C1414.1 620.3 1410.7 615.9 1409.6 614.6" fill="none" stroke="#e6dccb" stroke-width="0.7" stroke-linecap="round" stroke-linejoin="round" /><path d="M1840.2 650.6C1842.1 648.1 1848.2 639.7 1851.9 635.5C1855.6 631.2 1859.5 628.7 1862.4 625.3C1865.2 622.0 1866.8 618.4 1869.0 615.4C1871.2 612.5 1872.1 610.8 1875.4 607.5C1878.7 604.1 1886.8 597.4 1889.0 595.4" fill="none" stroke="#e6dccb" stroke-width="0.7" stroke-linecap="round" stroke-linejoin="round" /><path d="M1715.0 476.8C1718.0 477.1 1727.7 477.9 1732.9 478.5C1738.2 479.2 1742.0 479.6 1746.5 480.6C1751.1 481.6 1755.8 482.7 1760.2 484.5C1764.5 486.3 1770.6 490.1 1772.7 491.2" fill="none" stroke="#e6dccb" stroke-width="0.7" stroke-linecap="round" stroke-linejoin="round" /><path d="M1616.1 480.0C1617.1 483.0 1620.0 493.2 1622.3 498.2C1624.7 503.3 1627.8 506.5 1630.3 510.3C1632.7 514.2 1633.6 517.8 1637.1 521.3C1640.5 524.8 1648.7 529.7 1651.1 531.4" fill="none" stroke="#e6dccb" stroke-width="0.7" stroke-linecap="round" stroke-linejoin="round" /><path d="M1340.3 477.7C1340.6 479.0 1341.3 482.7 1341.8 485.5C1342.3 488.4 1343.1 490.7 1343.3 494.7C1343.5 498.7 1343.2 507.0 1343.1 509.5" fill="none" stroke="#e6dccb" stroke-width="0.7" stroke-linecap="round" stroke-linejoin="round" /><path d="M1658.5 550.4C1656.4 548.7 1650.7 543.1 1646.0 540.5C1641.3 538.0 1635.9 537.5 1630.3 535.3C1624.7 533.1 1615.3 528.6 1612.4 527.2" fill="none" stroke="#e6dccb" stroke-width="0.7" stroke-linecap="round" stroke-linejoin="round" /><path d="M1653.6 570.1C1653.5 568.0 1652.5 562.2 1653.1 557.5C1653.7 552.7 1656.8 547.4 1657.1 541.6C1657.3 535.7 1654.9 525.6 1654.4 522.4" fill="none" stroke="#e6dccb" stroke-width="0.7" stroke-linecap="round" stroke-linejoin="round" /><path d="M1869.4 554.7C1870.8 554.5 1874.3 555.2 1877.4 553.3C1880.6 551.5 1884.2 546.2 1888.2 543.4C1892.2 540.6 1897.2 537.9 1901.5 536.4C1905.8 534.9 1912.0 534.9 1914.1 534.6" fill="none" stroke="#e6dccb" stroke-width="0.7" stroke-linecap="round" stroke-linejoin="round" /><path d="M1727.8 585.9C1726.6 583.9 1724.1 577.0 1720.6 573.6C1717.2 570.2 1710.9 568.2 1707.2 565.3C1703.5 562.4 1700.3 560.0 1698.4 556.3C1696.5 552.7 1696.1 545.5 1695.7 543.4" fill="none" stroke="#e6dccb" stroke-width="0.7" stroke-linecap="round" stroke-linejoin="round" /><path d="M1388.1 559.3C1386.7 559.9 1382.6 562.2 1379.7 563.1C1376.7 564.0 1375.4 563.9 1370.6 564.7C1365.8 565.4 1354.1 567.2 1350.9 567.7" fill="none" stroke="#e6dccb" stroke-width="0.7" stroke-linecap="round" stroke-linejoin="round" /><path d="M1826.0 541.1C1824.3 540.3 1820.2 538.0 1815.6 536.0C1811.0 533.9 1803.8 530.0 1798.7 529.0C1793.5 528.0 1789.4 529.6 1784.7 530.0C1780.0 530.4 1773.0 531.2 1770.6 531.5" fill="none" stroke="#e6dccb" stroke-width="0.7" stroke-linecap="round" stroke-linejoin="round" /><path d="M1757.5 584.6C1756.5 586.1 1754.5 589.5 1751.7 593.4C1748.9 597.3 1742.9 603.1 1740.8 608.1C1738.8 613.1 1739.8 619.1 1739.4 623.5C1739.0 627.8 1738.2 630.8 1738.6 634.2C1739.0 637.5 1741.3 642.1 1741.8 643.7" fill="none" stroke="#e6dccb" stroke-width="0.7" stroke-linecap="round" stroke-linejoin="round" /><path d="M1548.1 533.5C1546.6 532.0 1541.6 528.4 1538.8 524.3C1536.0 520.1 1534.9 513.5 1531.4 508.4C1528.0 503.4 1520.3 496.4 1518.0 494.0" fill="none" stroke="#e6dccb" stroke-width="0.7" stroke-linecap="round" stroke-linejoin="round" /><path d="M1612.4 508.5C1612.5 511.1 1612.0 518.8 1613.1 524.4C1614.3 529.9 1616.4 536.2 1619.2 541.5C1622.0 546.8 1626.8 552.3 1629.9 556.4C1633.0 560.4 1635.1 562.3 1637.7 565.7C1640.3 569.2 1644.2 575.2 1645.5 577.1" fill="none" stroke="#e6dccb" stroke-width="0.7" stroke-linecap="round" stroke-linejoin="round" /><path d="M1613.3 573.5C1615.6 571.1 1624.5 562.8 1627.1 559.2C1629.6 555.5 1627.3 554.4 1628.5 551.6C1629.7 548.9 1633.2 545.7 1634.2 542.7C1635.1 539.7 1634.2 538.0 1634.2 533.4C1634.2 528.9 1634.2 518.4 1634.2 515.4" fill="none" stroke="#e6dccb" stroke-width="0.7" stroke-linecap="round" stroke-linejoin="round" /><path d="M1475.9 553.4C1478.3 554.0 1485.9 554.4 1490.2 556.7C1494.6 559.0 1498.3 564.6 1502.1 567.1C1505.8 569.6 1509.8 570.5 1512.9 571.8C1516.0 573.2 1519.4 574.5 1520.7 575.0" fill="none" stroke="#e6dccb" stroke-width="0.7" stroke-linecap="round" stroke-linejoin="round" /><path d="M1835.3 551.1C1835.2 552.8 1835.0 558.5 1834.7 561.6C1834.4 564.7 1833.4 566.8 1833.4 569.7C1833.4 572.6 1834.2 574.8 1834.8 579.0C1835.4 583.2 1836.7 592.2 1837.1 594.8" fill="none" stroke="#e6dccb" stroke-width="0.7" stroke-linecap="round" stroke-linejoin="round" /><path d="M1424.1 610.4C1423.3 608.7 1419.8 603.9 1419.4 600.1C1418.9 596.2 1420.8 591.0 1421.4 587.3C1422.0 583.7 1423.6 582.1 1423.0 578.2C1422.5 574.2 1419.8 566.9 1418.1 563.6C1416.4 560.3 1413.6 559.3 1412.7 558.4" fill="none" stroke="#e6dccb" stroke-width="0.7" stroke-linecap="round" stroke-linejoin="round" /><path d="M1339.7 568.2C1339.7 570.4 1338.7 576.5 1339.9 581.0C1341.1 585.6 1345.9 590.5 1346.7 595.3C1347.4 600.2 1344.8 607.8 1344.4 610.3" fill="none" stroke="#e6dccb" stroke-width="0.7" stroke-linecap="round" stroke-linejoin="round" /><path d="M1552.6 567.0C1552.7 565.3 1552.4 559.8 1553.0 556.8C1553.6 553.8 1555.8 552.6 1556.2 549.0C1556.5 545.5 1556.4 539.9 1555.3 535.5C1554.1 531.1 1552.3 527.2 1549.2 522.5C1546.1 517.9 1538.8 510.3 1536.7 507.8" fill="none" stroke="#e6dccb" stroke-width="0.7" stroke-linecap="round" stroke-linejoin="round" /><path d="M1545.6 646.9C1547.9 646.8 1555.4 646.8 1559.0 646.6C1562.7 646.3 1563.0 645.4 1567.6 645.3C1572.1 645.3 1581.6 645.5 1586.5 646.2C1591.5 646.8 1595.5 648.7 1597.2 649.1" fill="none" stroke="#e6dccb" stroke-width="0.7" stroke-linecap="round" stroke-linejoin="round" /><path d="M1599.8 514.7C1599.2 516.8 1597.1 523.8 1596.0 527.3C1594.9 530.9 1594.6 533.0 1593.2 535.8C1591.8 538.7 1589.3 541.5 1587.5 544.4C1585.8 547.3 1584.8 550.2 1582.9 553.5C1580.9 556.8 1577.0 562.2 1575.9 564.0" fill="none" stroke="#e6dccb" stroke-width="0.7" stroke-linecap="round" stroke-linejoin="round" /><path d="M1693.4 534.4C1692.9 532.3 1691.5 525.2 1690.0 521.5C1688.4 517.8 1685.2 516.0 1684.2 512.3C1683.2 508.6 1683.6 502.7 1683.9 499.1C1684.3 495.4 1685.9 491.8 1686.3 490.3" fill="none" stroke="#e6dccb" stroke-width="0.7" stroke-linecap="round" stroke-linejoin="round" /><path d="M1661.5 446.1C1663.6 448.4 1671.7 455.6 1674.2 459.8C1676.8 464.1 1674.2 467.5 1676.5 471.4C1678.8 475.3 1686.1 481.2 1688.1 483.2" fill="none" stroke="#e6dccb" stroke-width="0.7" stroke-linecap="round" stroke-linejoin="round" /><path d="M1681.1 425.1C1680.5 422.3 1677.8 412.8 1677.4 408.4C1677.0 403.9 1678.0 402.9 1678.5 398.4C1679.0 393.8 1680.1 384.0 1680.4 381.1" fill="none" stroke="#e6dccb" stroke-width="0.7" stroke-linecap="round" stroke-linejoin="round" /><path d="M1646.1 563.3C1647.8 564.9 1652.9 569.7 1655.9 573.0C1658.9 576.4 1661.4 579.4 1663.9 583.2C1666.4 587.0 1669.7 593.7 1670.9 595.8" fill="none" stroke="#e6dccb" stroke-width="0.7" stroke-linecap="round" stroke-linejoin="round" /><path d="M1670.9 530.4C1673.7 528.7 1682.3 522.3 1687.9 520.2C1693.6 518.2 1699.6 518.0 1704.8 517.8C1710.0 517.6 1715.2 519.1 1718.9 519.0C1722.6 518.9 1725.7 517.5 1727.1 517.2" fill="none" stroke="#e6dccb" stroke-width="0.7" stroke-linecap="round" stroke-linejoin="round" /><path d="M1680.0 483.5C1678.6 481.9 1674.5 476.6 1671.5 474.2C1668.6 471.7 1665.9 471.7 1662.1 468.7C1658.2 465.7 1652.4 459.0 1648.6 456.0C1644.8 452.9 1640.7 451.2 1639.1 450.3" fill="none" stroke="#e6dccb" stroke-width="0.7" stroke-linecap="round" stroke-linejoin="round" /><path d="M1554.2 535.6C1553.0 532.9 1548.8 525.5 1547.1 519.6C1545.4 513.7 1545.1 505.5 1544.2 500.2C1543.3 494.9 1542.0 491.6 1541.6 487.7C1541.1 483.7 1540.6 480.4 1541.3 476.6C1541.9 472.8 1545.0 466.9 1545.7 465.0" fill="none" stroke="#e6dccb" stroke-width="0.7" stroke-linecap="round" stroke-linejoin="round" /><path d="M1618.6 561.7C1617.6 563.7 1615.0 570.8 1612.8 573.6C1610.6 576.3 1609.9 577.2 1605.5 578.4C1601.0 579.5 1589.2 579.9 1585.9 580.2" fill="none" stroke="#e6dccb" stroke-width="0.7" stroke-linecap="round" stroke-linejoin="round" /><path d="M1756.8 492.5C1758.4 491.8 1762.5 488.6 1766.8 488.3C1771.1 487.9 1777.2 488.5 1782.4 490.3C1787.6 492.1 1793.1 497.4 1797.9 499.1C1802.7 500.9 1807.3 501.3 1811.4 500.9C1815.5 500.5 1820.7 497.5 1822.5 496.8" fill="none" stroke="#e6dccb" stroke-width="0.7" stroke-linecap="round" stroke-linejoin="round" /><path d="M1582.5 647.4C1582.8 649.0 1582.5 654.0 1584.4 657.5C1586.3 661.0 1590.8 664.5 1593.9 668.5C1597.1 672.6 1599.6 677.2 1603.3 681.8C1606.9 686.5 1613.7 694.0 1615.7 696.4" fill="none" stroke="#e6dccb" stroke-width="0.7" stroke-linecap="round" stroke-linejoin="round" /><path d="M1716.3 575.7C1717.4 573.6 1720.2 568.1 1723.4 563.4C1726.5 558.8 1732.2 551.3 1735.1 547.9C1738.0 544.5 1739.9 543.8 1740.8 543.0" fill="none" stroke="#e6dccb" stroke-width="0.7" stroke-linecap="round" stroke-linejoin="round" /><path d="M1847.1 546.6C1847.5 549.6 1848.9 559.9 1849.4 564.6C1849.9 569.3 1849.7 571.0 1850.1 574.9C1850.4 578.8 1850.5 583.4 1851.3 587.9C1852.2 592.4 1853.6 598.2 1855.3 601.9C1857.1 605.5 1860.8 608.4 1861.9 609.7" fill="none" stroke="#e6dccb" stroke-width="0.7" stroke-linecap="round" stroke-linejoin="round" /><path d="M1599.9 624.4C1597.6 625.6 1590.7 628.3 1586.1 631.6C1581.5 634.9 1576.4 639.7 1572.3 644.2C1568.2 648.7 1564.3 653.1 1561.4 658.5C1558.5 663.9 1556.8 672.4 1554.9 676.8C1553.0 681.1 1550.8 683.3 1550.0 684.7" fill="none" stroke="#e6dccb" stroke-width="0.7" stroke-linecap="round" stroke-linejoin="round" /><path d="M1721.6 456.8C1720.5 458.3 1716.2 462.6 1714.5 466.1C1712.9 469.6 1711.4 473.2 1711.6 477.9C1711.8 482.7 1713.9 489.5 1715.7 494.8C1717.5 500.0 1721.2 507.1 1722.3 509.6" fill="none" stroke="#e6dccb" stroke-width="0.7" stroke-linecap="round" stroke-linejoin="round" /><path d="M1542.5 692.7C1545.4 691.6 1555.2 687.0 1560.2 686.2C1565.2 685.5 1569.1 687.6 1572.4 688.3C1575.7 689.0 1576.9 689.9 1580.0 690.5C1583.1 691.1 1588.2 691.3 1591.2 691.8C1594.2 692.3 1596.9 693.4 1598.0 693.7" fill="none" stroke="#e6dccb" stroke-width="0.7" stroke-linecap="round" stroke-linejoin="round" /><path d="M1735.0 433.4C1732.4 433.6 1724.6 433.1 1719.8 434.6C1715.0 436.0 1710.0 439.0 1706.0 442.0C1702.0 445.1 1699.4 448.6 1695.7 453.0C1692.0 457.4 1685.9 465.9 1683.9 468.4" fill="none" stroke="#e6dccb" stroke-width="0.7" stroke-linecap="round" stroke-linejoin="round" /><path d="M1554.9 490.3C1554.6 491.9 1553.9 496.0 1553.0 500.2C1552.0 504.4 1550.8 512.0 1549.3 515.5C1547.7 519.0 1546.1 518.0 1543.7 521.3C1541.3 524.6 1537.8 530.6 1535.0 535.2C1532.1 539.7 1527.9 546.5 1526.5 548.7" fill="none" stroke="#e6dccb" stroke-width="0.7" stroke-linecap="round" stroke-linejoin="round" /><path d="M1687.9 438.6C1689.5 438.7 1694.3 439.5 1697.3 439.4C1700.2 439.2 1702.6 439.7 1705.6 437.9C1708.7 436.1 1714.1 430.1 1715.8 428.5" fill="none" stroke="#e6dccb" stroke-width="0.7" stroke-linecap="round" stroke-linejoin="round" /><path d="M1737.1 457.9C1738.6 458.1 1742.7 458.4 1745.9 458.7C1749.2 459.0 1752.9 458.5 1756.8 459.5C1760.6 460.6 1765.3 463.3 1769.2 465.0C1773.0 466.8 1775.2 469.7 1779.9 470.2C1784.6 470.7 1794.5 468.4 1797.4 468.0" fill="none" stroke="#e6dccb" stroke-width="0.7" stroke-linecap="round" stroke-linejoin="round" /><path d="M1519.8 650.2C1520.9 651.2 1522.4 654.4 1526.6 656.1C1530.9 657.7 1539.8 657.1 1545.4 659.9C1551.0 662.8 1555.9 669.1 1560.3 673.2C1564.8 677.4 1570.1 682.9 1572.0 684.9" fill="none" stroke="#e6dccb" stroke-width="0.7" stroke-linecap="round" stroke-linejoin="round" /><path d="M1644.8 549.5C1646.2 551.8 1650.2 559.9 1653.2 562.9C1656.2 566.0 1658.4 567.0 1662.9 567.8C1667.3 568.6 1675.2 567.8 1679.8 567.7C1684.4 567.7 1688.7 567.5 1690.5 567.4" fill="none" stroke="#e6dccb" stroke-width="0.7" stroke-linecap="round" stroke-linejoin="round" /><path d="M1751.1 561.9C1751.5 563.2 1750.7 566.0 1753.7 569.3C1756.7 572.5 1765.4 577.3 1769.0 581.4C1772.5 585.5 1774.2 589.7 1775.0 594.1C1775.8 598.6 1774.0 605.7 1773.8 608.1" fill="none" stroke="#e6dccb" stroke-width="0.7" stroke-linecap="round" stroke-linejoin="round" /><path d="M1692.1 442.2C1689.9 443.4 1682.8 446.8 1678.6 449.7C1674.4 452.6 1669.8 456.1 1666.7 459.7C1663.6 463.3 1662.1 467.2 1660.0 471.2C1658.0 475.3 1655.2 481.7 1654.2 483.8" fill="none" stroke="#e6dccb" stroke-width="0.7" stroke-linecap="round" stroke-linejoin="round" /><path d="M1712.2 459.8C1709.4 459.9 1701.5 461.1 1695.7 460.1C1689.8 459.2 1682.1 455.5 1677.0 454.1C1671.9 452.8 1668.1 453.0 1665.0 452.0C1662.0 451.1 1661.2 450.0 1658.5 448.7C1655.9 447.3 1650.6 444.9 1649.0 444.2" fill="none" stroke="#e6dccb" stroke-width="0.7" stroke-linecap="round" stroke-linejoin="round" /><path d="M1618.5 623.0C1619.5 622.2 1621.0 620.4 1624.9 618.2C1628.8 616.0 1637.1 611.9 1642.1 609.9C1647.1 607.8 1650.7 607.0 1654.8 605.8C1658.9 604.5 1664.6 602.7 1666.6 602.1" fill="none" stroke="#e6dccb" stroke-width="0.7" stroke-linecap="round" stroke-linejoin="round" /><path d="M1395.6 468.8C1394.9 466.4 1391.9 459.3 1391.6 454.4C1391.2 449.4 1394.0 444.7 1393.5 439.0C1393.0 433.4 1389.3 423.4 1388.5 420.3" fill="none" stroke="#e6dccb" stroke-width="0.7" stroke-linecap="round" stroke-linejoin="round" /><path d="M1561.4 459.8C1561.8 461.0 1562.9 463.2 1563.6 467.0C1564.2 470.8 1563.8 477.0 1565.4 482.5C1567.0 488.1 1571.9 497.3 1573.2 500.2" fill="none" stroke="#e6dccb" stroke-width="0.7" stroke-linecap="round" stroke-linejoin="round" /><path d="M1539.8 543.4C1542.2 542.1 1550.2 537.2 1554.4 535.5C1558.7 533.8 1561.4 535.4 1565.2 533.2C1569.1 531.0 1573.3 525.1 1577.6 522.2C1581.9 519.4 1588.8 517.1 1591.0 516.1" fill="none" stroke="#e6dccb" stroke-width="0.7" stroke-linecap="round" stroke-linejoin="round" /></g><path d="M1420.0 448.1C1422.3 448.6 1429.3 450.0 1433.9 450.9C1438.6 451.8 1444.3 452.3 1447.8 453.7C1451.3 455.1 1451.3 458.1 1454.8 459.3C1458.3 460.4 1464.8 459.3 1468.7 460.7C1472.6 462.0 1476.3 465.1 1478.4 467.6C1480.5 470.2 1480.8 474.6 1481.2 476.0" fill="none" stroke="#ead9a1" stroke-width="2.4" stroke-linecap="round" stroke-linejoin="round" /><path d="M1584.2 460.7C1583.9 462.5 1582.3 468.1 1582.8 471.8C1583.2 475.5 1584.2 480.4 1587.0 482.9C1589.7 485.5 1597.4 486.4 1599.5 487.1" fill="none" stroke="#ead9a1" stroke-width="2.4" stroke-linecap="round" stroke-linejoin="round" /><path d="M1584.2 460.7C1586.5 460.2 1595.1 456.9 1598.1 457.9C1601.1 458.8 1601.6 464.8 1602.3 466.2" fill="none" stroke="#ead9a1" stroke-width="2.4" stroke-linecap="round" stroke-linejoin="round" /><path d="M1570.3 446.7C1572.6 447.4 1580.2 449.1 1584.2 450.9C1588.1 452.8 1592.3 456.7 1593.9 457.9" fill="none" stroke="#ead9a1" stroke-width="2.4" stroke-linecap="round" stroke-linejoin="round" /><path d="M1628.7 410.6C1630.1 413.1 1633.8 422.2 1637.0 425.9C1640.3 429.6 1644.3 431.0 1648.2 432.8C1652.0 434.7 1658.0 436.3 1660.0 437.0" fill="none" stroke="#ead9a1" stroke-width="2.4" stroke-linecap="round" stroke-linejoin="round" /><path d="M1635.7 471.8C1637.7 472.2 1644.1 474.3 1648.2 474.6C1652.2 474.8 1658.0 473.4 1660.0 473.2" fill="none" stroke="#ead9a1" stroke-width="2.4" stroke-linecap="round" stroke-linejoin="round" /><path d="M1625.9 477.3C1627.8 479.2 1633.1 485.7 1637.0 488.5C1641.0 491.3 1645.7 492.9 1649.6 494.0C1653.4 495.2 1658.3 495.2 1660.0 495.4" fill="none" stroke="#ead9a1" stroke-width="2.4" stroke-linecap="round" stroke-linejoin="round" /><path d="M1517.4 410.6C1520.2 410.7 1528.1 411.3 1534.1 411.3C1540.1 411.3 1550.3 410.7 1553.6 410.6" fill="none" stroke="#ead9a1" stroke-width="2.4" stroke-linecap="round" stroke-linejoin="round" /><path d="M1650.0 471.8C1652.3 472.0 1659.3 472.2 1663.9 473.2C1668.6 474.1 1672.3 477.5 1677.8 477.3C1683.4 477.2 1692.7 472.6 1697.3 472.5C1701.9 472.4 1702.4 475.6 1705.7 476.7C1708.9 477.7 1714.0 477.0 1716.8 478.7C1719.6 480.5 1720.5 485.0 1722.3 487.1C1724.2 489.2 1725.1 490.4 1727.9 491.3C1730.7 492.1 1734.9 492.3 1739.0 492.0C1743.2 491.6 1749.7 489.1 1753.0 489.2C1756.2 489.3 1754.8 491.6 1758.5 492.7C1762.2 493.7 1770.1 494.3 1775.2 495.4C1780.3 496.6 1785.4 498.7 1789.1 499.6C1792.8 500.5 1796.1 500.8 1797.5 501.0" fill="none" stroke="#ead9a1" stroke-width="2.4" stroke-linecap="round" stroke-linejoin="round" /><path d="M1676.4 452.3C1676.9 454.6 1679.0 462.0 1679.2 466.2C1679.4 470.4 1678.3 473.6 1677.8 477.3C1677.4 481.1 1676.2 485.2 1676.4 488.5C1676.7 491.7 1676.7 493.1 1679.2 496.8C1681.8 500.5 1687.3 506.8 1691.7 510.7C1696.1 514.7 1701.0 517.7 1705.7 520.5C1710.3 523.3 1716.1 525.1 1719.6 527.4C1723.0 529.8 1723.0 533.3 1726.5 534.4C1730.0 535.4 1735.8 534.9 1740.4 533.7C1745.1 532.5 1748.6 528.9 1754.3 527.4C1760.1 525.9 1770.9 525.2 1775.2 524.7C1779.5 524.1 1779.3 524.1 1780.1 524.0" fill="none" stroke="#ead9a1" stroke-width="2.4" stroke-linecap="round" stroke-linejoin="round" /><path d="M1650.0 496.1C1652.3 496.4 1659.3 496.5 1663.9 497.5C1668.6 498.6 1673.2 500.2 1677.8 502.4C1682.5 504.6 1689.4 509.3 1691.7 510.7" fill="none" stroke="#ead9a1" stroke-width="2.4" stroke-linecap="round" stroke-linejoin="round" /><path d="M1725.1 501.0C1724.4 502.6 1721.4 507.7 1721.0 510.7C1720.5 513.8 1721.5 516.3 1722.3 519.1C1723.2 521.9 1725.1 524.9 1725.8 527.4C1726.5 530.0 1727.1 531.6 1726.5 534.4C1725.9 537.2 1722.8 540.7 1722.3 544.1C1721.9 547.6 1723.5 553.2 1723.7 555.0" fill="none" stroke="#ead9a1" stroke-width="2.4" stroke-linecap="round" stroke-linejoin="round" /><path d="M1821.1 523.3C1820.9 524.4 1818.8 528.4 1819.7 530.2C1820.7 532.1 1824.1 534.4 1826.7 534.4C1829.2 534.4 1833.2 531.8 1835.0 530.2C1836.9 528.6 1837.4 525.6 1837.8 524.7" fill="none" stroke="#ead9a1" stroke-width="2.4" stroke-linecap="round" stroke-linejoin="round" /><path d="M1829.5 429.3C1830.4 428.3 1832.5 424.6 1835.0 423.1C1837.6 421.6 1842.2 421.9 1844.8 420.3C1847.3 418.7 1849.7 415.0 1850.3 413.3C1851.0 411.7 1849.2 411.0 1849.0 410.6" fill="none" stroke="#ead9a1" stroke-width="2.4" stroke-linecap="round" stroke-linejoin="round" /><path d="M1797.5 501.0C1798.4 502.2 1800.3 505.9 1803.0 508.0C1805.8 510.0 1811.2 511.4 1814.2 513.5C1817.2 515.6 1820.0 519.3 1821.1 520.5" fill="none" stroke="#ead9a1" stroke-width="2.4" stroke-linecap="round" stroke-linejoin="round" /><path d="M1661.1 435.6C1662.5 435.5 1667.3 434.0 1669.5 434.9C1671.7 435.8 1674.1 439.0 1674.3 441.2C1674.6 443.4 1672.6 447.2 1670.9 448.1C1669.1 449.1 1665.1 447.0 1663.9 446.7" fill="none" stroke="#ead9a1" stroke-width="2.4" stroke-linecap="round" stroke-linejoin="round" /><path d="M1394.7 444.0C1396.1 445.6 1399.4 453.0 1403.1 453.7C1406.8 454.4 1412.4 448.4 1417.0 448.1C1421.7 447.9 1425.4 451.2 1430.9 452.3C1436.4 453.5 1446.8 454.6 1450.0 455.1" fill="none" stroke="#ead9a1" stroke-width="2.4" stroke-linecap="round" stroke-linejoin="round" /><path d="M1365.5 466.2C1366.7 466.0 1370.9 464.4 1372.5 464.8C1374.1 465.3 1374.8 468.3 1375.3 469.0" fill="none" stroke="#ead9a1" stroke-width="2.4" stroke-linecap="round" stroke-linejoin="round" /><path d="M1361.3 516.3C1362.7 516.6 1366.9 517.9 1369.7 517.7C1372.5 517.6 1376.7 516.0 1378.0 515.6" fill="none" stroke="#ead9a1" stroke-width="2.4" stroke-linecap="round" stroke-linejoin="round" /><path d="M1303.8 525.3C1304.9 526.0 1308.6 528.2 1310.8 529.7C1313.0 531.1 1314.9 534.1 1317.0 534.1C1319.0 534.1 1321.2 530.9 1323.1 529.7C1325.1 528.5 1327.6 527.5 1328.4 527.0" fill="none" stroke="#ead9a1" stroke-width="2.4" stroke-linecap="round" stroke-linejoin="round" /><path d="M1303.8 541.1C1304.5 541.6 1306.7 543.1 1308.2 543.8C1309.6 544.4 1311.8 544.9 1312.6 545.1" fill="none" stroke="#ead9a1" stroke-width="2.4" stroke-linecap="round" stroke-linejoin="round" /><path d="M1326.7 560.5C1326.1 561.6 1324.0 564.8 1323.1 566.7C1322.3 568.6 1322.0 571.1 1321.8 572.0" fill="none" stroke="#ead9a1" stroke-width="2.4" stroke-linecap="round" stroke-linejoin="round" /><path d="M1313.6 579.7C1310.1 580.4 1298.0 582.4 1292.8 584.1C1287.6 585.9 1285.1 587.6 1282.4 590.1C1279.7 592.5 1278.7 596.5 1276.5 599.0C1274.2 601.5 1273.3 603.9 1269.1 604.9C1264.8 605.9 1256.2 604.2 1251.2 604.9C1246.3 605.7 1243.1 607.9 1239.4 609.4C1235.7 610.9 1231.5 611.8 1229.0 613.8C1226.5 615.8 1226.8 618.5 1224.5 621.2C1222.3 624.0 1217.4 627.2 1215.6 630.1C1213.9 633.1 1215.1 635.1 1214.1 639.1C1213.1 643.0 1210.4 651.4 1209.7 653.9" fill="none" stroke="#ead9a1" stroke-width="2.4" stroke-linecap="round" stroke-linejoin="round" /><path d="M1207.5 653.3C1205.8 653.6 1200.4 653.9 1197.5 655.0C1194.6 656.1 1192.0 657.9 1190.0 660.0C1188.0 662.1 1186.6 664.7 1185.8 667.5C1185.0 670.3 1186.0 673.8 1185.0 676.7C1184.0 679.6 1181.8 682.5 1180.0 685.0C1178.2 687.5 1175.5 688.5 1174.2 691.7C1173.0 694.9 1172.8 702.0 1172.5 704.0" fill="none" stroke="#ead9a1" stroke-width="2.4" stroke-linecap="round" stroke-linejoin="round" /><path d="M1209.7 653.9C1211.7 655.1 1218.1 658.6 1221.6 661.3C1225.0 664.0 1227.0 667.5 1230.5 670.2C1233.9 672.9 1239.4 675.4 1242.3 677.6C1245.3 679.9 1248.8 681.1 1248.3 683.6C1247.8 686.1 1242.6 689.0 1239.4 692.5C1236.2 695.9 1230.7 702.4 1229.0 704.4" fill="none" stroke="#ead9a1" stroke-width="2.4" stroke-linecap="round" stroke-linejoin="round" /><path d="M1242.3 683.5C1244.4 683.1 1249.0 682.3 1254.4 681.1C1259.8 679.9 1268.9 677.9 1274.9 676.3C1280.9 674.7 1286.1 673.1 1290.6 671.5C1295.0 669.8 1298.6 667.7 1301.4 666.6C1304.2 665.5 1306.4 665.1 1307.4 664.8" fill="none" stroke="#ead9a1" stroke-width="2.4" stroke-linecap="round" stroke-linejoin="round" /><path d="M1325.5 658.2C1327.7 658.2 1334.7 658.4 1338.8 658.2C1342.9 658.0 1348.1 657.2 1350.0 657.0" fill="none" stroke="#ead9a1" stroke-width="2.4" stroke-linecap="round" stroke-linejoin="round" /><path d="M1330.0 657.0C1332.0 656.8 1338.0 656.3 1342.1 655.8C1346.1 655.3 1350.1 654.3 1354.1 654.0C1358.1 653.7 1361.7 653.9 1366.2 654.0C1370.6 654.1 1378.2 654.5 1380.6 654.6" fill="none" stroke="#ead9a1" stroke-width="2.4" stroke-linecap="round" stroke-linejoin="round" /><path d="M1434.9 677.5C1436.5 677.9 1440.7 679.7 1444.5 679.9C1448.4 680.1 1453.8 679.7 1457.8 678.7C1461.8 677.7 1464.8 675.3 1468.7 673.9C1472.5 672.5 1477.7 670.9 1480.7 670.2C1483.7 669.6 1485.3 668.0 1486.7 670.2C1488.1 672.5 1488.3 678.9 1489.2 683.5C1490.0 688.1 1491.0 694.4 1491.6 698.0C1492.2 701.6 1492.6 703.8 1492.8 705.0" fill="none" stroke="#ead9a1" stroke-width="2.4" stroke-linecap="round" stroke-linejoin="round" /><path d="M1455.4 614.8C1456.6 614.2 1460.2 612.6 1462.6 611.2C1465.0 609.8 1468.1 609.4 1469.9 606.3C1471.7 603.3 1472.9 595.3 1473.5 593.1" fill="none" stroke="#ead9a1" stroke-width="2.4" stroke-linecap="round" stroke-linejoin="round" /><path d="M1400.1 545.9C1400.5 547.8 1401.6 554.3 1402.4 557.4C1403.2 560.4 1403.2 562.5 1404.7 564.2C1406.2 566.0 1409.7 566.0 1411.6 567.7C1413.5 569.4 1415.4 573.4 1416.2 574.6" fill="none" stroke="#ead9a1" stroke-width="2.4" stroke-linecap="round" stroke-linejoin="round" /><path d="M1323.3 563.1L1321.0 571.1" fill="none" stroke="#ead9a1" stroke-width="2.4" stroke-linecap="round" stroke-linejoin="round" /><path d="M1290.0 584.9C1291.9 584.3 1297.6 582.4 1301.5 581.4C1305.3 580.5 1311.0 579.5 1312.9 579.1" fill="none" stroke="#ead9a1" stroke-width="2.4" stroke-linecap="round" stroke-linejoin="round" /><path d="M1363.4 521.8L1377.2 517.2" fill="none" stroke="#ead9a1" stroke-width="2.4" stroke-linecap="round" stroke-linejoin="round" /><path d="M1571.2 662.2C1571.7 664.9 1573.2 673.3 1574.2 678.5C1575.2 683.7 1576.2 689.0 1577.2 693.4C1578.1 697.8 1579.6 703.0 1580.1 704.9" fill="none" stroke="#ead9a1" stroke-width="2.4" stroke-linecap="round" stroke-linejoin="round" /><path d="M1525.2 678.5C1526.7 680.8 1529.9 688.2 1534.1 691.9C1538.3 695.6 1543.8 699.1 1550.4 700.8C1557.1 702.5 1567.3 702.0 1574.2 702.3C1581.1 702.5 1585.6 702.5 1592.0 702.3C1598.4 702.0 1607.1 703.3 1612.8 700.8C1618.4 698.3 1621.2 691.6 1626.1 687.4C1631.1 683.2 1639.7 677.5 1642.4 675.6" fill="none" stroke="#ead9a1" stroke-width="2.4" stroke-linecap="round" stroke-linejoin="round" /><path d="M1663.2 663.7C1665.7 664.9 1673.1 668.1 1678.0 671.1C1683.0 674.1 1689.2 679.0 1692.9 681.5C1696.5 684.0 1698.8 685.2 1700.0 685.9" fill="none" stroke="#ead9a1" stroke-width="2.4" stroke-linecap="round" stroke-linejoin="round" /><path d="M1807.2 562.8C1807.5 564.8 1808.7 570.5 1808.7 574.7C1808.7 578.9 1808.0 583.1 1807.2 588.0C1806.5 593.0 1804.2 599.2 1804.2 604.3C1804.2 609.5 1805.2 614.7 1807.2 619.2C1809.2 623.6 1813.4 628.3 1816.1 631.1C1818.8 633.8 1820.3 633.8 1823.5 635.5C1826.7 637.2 1832.9 638.7 1835.4 641.4C1837.9 644.2 1837.9 650.1 1838.4 651.8" fill="none" stroke="#ead9a1" stroke-width="2.4" stroke-linecap="round" stroke-linejoin="round" /><path d="M1750.8 613.2C1751.1 615.7 1751.9 622.4 1752.3 628.1C1752.7 633.8 1751.6 642.4 1753.1 647.4C1754.5 652.3 1758.6 654.3 1761.2 657.8C1763.8 661.2 1766.7 664.7 1768.6 668.1C1770.6 671.6 1771.8 675.3 1773.1 678.5C1774.3 681.7 1775.6 685.9 1776.1 687.4" fill="none" stroke="#ead9a1" stroke-width="2.4" stroke-linecap="round" stroke-linejoin="round" /><path d="M1734.5 679.3C1737.5 679.4 1746.6 680.9 1752.3 680.0C1758.0 679.1 1764.2 675.6 1768.6 674.1C1773.1 672.6 1774.8 672.8 1779.0 671.1C1783.2 669.4 1788.9 665.2 1793.9 663.7C1798.8 662.2 1804.7 663.0 1808.7 662.2C1812.7 661.5 1816.1 659.7 1817.6 659.2" fill="none" stroke="#ead9a1" stroke-width="2.4" stroke-linecap="round" stroke-linejoin="round" /><path d="M1792.4 594.0C1793.6 593.7 1797.3 593.5 1799.8 592.5C1802.3 591.5 1802.3 587.8 1807.2 588.0C1812.2 588.3 1824.3 592.2 1829.5 594.0C1834.7 595.7 1836.9 597.7 1838.4 598.4" fill="none" stroke="#ead9a1" stroke-width="2.4" stroke-linecap="round" stroke-linejoin="round" /><path d="M1850.2 607.3C1851.2 607.8 1854.9 608.3 1856.2 610.3C1857.4 612.3 1857.4 617.7 1857.7 619.2" fill="none" stroke="#ead9a1" stroke-width="2.4" stroke-linecap="round" stroke-linejoin="round" /><path d="M1857.7 640.0C1858.4 641.4 1859.1 646.4 1862.1 648.9C1865.1 651.3 1872.2 653.3 1875.5 654.8C1878.7 656.3 1880.8 657.3 1881.8 657.8" fill="none" stroke="#ead9a1" stroke-width="2.4" stroke-linecap="round" stroke-linejoin="round" /><path d="M1856.2 610.3C1858.2 610.3 1863.8 610.8 1868.0 610.3C1872.3 609.8 1879.5 607.8 1881.8 607.3" fill="none" stroke="#ead9a1" stroke-width="2.4" stroke-linecap="round" stroke-linejoin="round" /><path d="M1838.4 651.8C1839.4 653.3 1842.8 658.0 1844.3 660.7C1845.8 663.4 1846.3 665.2 1847.3 668.1C1848.3 671.1 1849.2 675.3 1850.2 678.5C1851.2 681.7 1852.7 685.9 1853.2 687.4" fill="none" stroke="#ead9a1" stroke-width="2.4" stroke-linecap="round" stroke-linejoin="round" /><path d="M1438.1 502.4C1439.7 502.7 1444.6 504.1 1447.8 504.1C1451.1 504.1 1454.3 503.6 1457.6 502.4C1460.8 501.2 1464.3 499.1 1467.3 496.8C1470.3 494.5 1473.3 490.8 1475.7 488.5C1478.0 486.2 1478.0 483.9 1481.2 482.9C1484.5 481.9 1490.5 483.0 1495.1 482.6C1499.8 482.3 1503.9 481.4 1509.0 480.8C1514.1 480.3 1520.9 480.3 1525.7 479.4C1530.6 478.6 1533.6 476.3 1538.3 475.7C1542.9 475.1 1549.2 475.3 1553.6 476.0C1558.0 476.6 1560.5 478.3 1564.7 479.4C1568.9 480.6 1574.7 482.0 1578.6 482.9C1582.6 483.8 1584.9 484.3 1588.3 485.0C1591.8 485.7 1595.1 487.1 1599.5 487.1C1603.9 487.1 1609.0 485.4 1614.8 485.0C1620.6 484.6 1626.7 484.9 1634.3 484.6C1641.8 484.2 1655.7 483.2 1660.0 482.9" fill="none" stroke="#f0a942" stroke-width="2.3" stroke-linecap="round" stroke-linejoin="round" /><path d="M1449.2 410.6C1448.5 412.2 1447.4 417.3 1445.0 420.3C1442.7 423.3 1438.3 425.9 1435.3 428.7C1432.3 431.4 1429.5 434.7 1427.0 437.0C1424.4 439.3 1421.2 441.6 1420.0 442.6" fill="none" stroke="#f0a942" stroke-width="2.3" stroke-linecap="round" stroke-linejoin="round" /><path d="M1457.6 502.4C1457.4 503.8 1458.0 507.7 1456.9 510.7C1455.7 513.8 1453.3 517.6 1450.6 520.5C1447.9 523.4 1443.9 526.2 1440.9 528.1C1437.9 530.1 1433.9 531.6 1432.5 532.3" fill="none" stroke="#f0a942" stroke-width="2.3" stroke-linecap="round" stroke-linejoin="round" /><path d="M1554.3 410.6C1554.3 414.3 1553.4 427.0 1554.3 432.8C1555.1 438.6 1556.5 441.2 1559.1 445.3C1561.8 449.5 1567.2 454.4 1570.3 457.9C1573.3 461.3 1575.7 463.0 1577.2 466.2C1578.7 469.5 1579.3 473.6 1579.3 477.3C1579.3 481.1 1577.6 484.3 1577.2 488.5C1576.9 492.7 1576.3 497.8 1577.2 502.4C1578.1 507.0 1580.9 512.6 1582.8 516.3C1584.6 520.0 1586.3 521.4 1588.3 524.7C1590.4 527.9 1592.5 532.1 1595.3 535.8C1598.1 539.5 1602.7 543.7 1605.0 546.9C1607.4 550.1 1608.5 553.6 1609.2 555.0" fill="none" stroke="#f0a942" stroke-width="2.3" stroke-linecap="round" stroke-linejoin="round" /><path d="M1599.5 487.1C1599.0 489.2 1598.1 495.2 1596.7 499.6C1595.3 504.0 1592.8 509.1 1591.1 513.5C1589.5 517.9 1589.3 522.8 1587.0 526.0C1584.6 529.3 1581.2 531.4 1577.2 533.0C1573.3 534.6 1566.8 533.7 1563.3 535.8C1559.8 537.9 1558.2 542.3 1556.3 545.5C1554.5 548.7 1552.9 553.4 1552.2 555.0" fill="none" stroke="#f0a942" stroke-width="2.3" stroke-linecap="round" stroke-linejoin="round" /><path d="M1599.5 487.1C1599.9 484.5 1602.3 476.7 1602.3 471.8C1602.3 466.9 1599.2 462.3 1599.5 457.9C1599.7 453.5 1602.0 449.5 1603.7 445.3C1605.3 441.2 1607.4 437.2 1609.2 432.8C1611.1 428.4 1612.7 422.6 1614.8 418.9C1616.9 415.2 1620.6 412.0 1621.7 410.6" fill="none" stroke="#f0a942" stroke-width="2.3" stroke-linecap="round" stroke-linejoin="round" /><path d="M1602.3 466.2C1604.8 466.2 1612.7 467.1 1617.6 466.2C1622.4 465.3 1626.8 462.3 1631.5 460.7C1636.1 459.0 1640.6 458.1 1645.4 456.5C1650.1 454.9 1657.6 451.8 1660.0 450.9" fill="none" stroke="#f0a942" stroke-width="2.3" stroke-linecap="round" stroke-linejoin="round" /><path d="M1645.4 409.9L1660.0 414.7" fill="none" stroke="#f0a942" stroke-width="2.3" stroke-linecap="round" stroke-linejoin="round" /><path d="M1650.0 410.6C1652.3 411.0 1659.7 411.7 1663.9 413.3C1668.1 415.0 1672.0 417.5 1675.0 420.3C1678.1 423.1 1679.2 427.7 1682.0 430.0C1684.8 432.4 1687.3 433.2 1691.7 434.2C1696.1 435.3 1703.3 436.3 1708.4 436.3C1713.5 436.3 1717.2 434.9 1722.3 434.2C1727.4 433.5 1733.9 433.5 1739.0 432.1C1744.1 430.7 1748.1 427.7 1753.0 425.9C1757.8 424.0 1763.2 422.3 1768.3 421.0C1773.4 419.7 1779.2 418.9 1783.6 418.2C1788.0 417.5 1791.4 416.1 1794.7 416.8C1797.9 417.5 1799.3 420.9 1803.0 422.4C1806.8 423.9 1812.6 424.7 1817.0 425.9C1821.4 427.0 1825.5 428.4 1829.5 429.3C1833.4 430.3 1837.1 431.8 1840.6 431.4C1844.1 431.1 1847.3 428.5 1850.3 427.3C1853.4 426.0 1855.4 425.3 1858.7 423.8C1861.9 422.3 1866.0 420.0 1869.8 418.2C1873.7 416.5 1879.9 414.2 1881.9 413.3" fill="none" stroke="#f0a942" stroke-width="2.3" stroke-linecap="round" stroke-linejoin="round" /><path d="M1689.0 410.6C1688.5 412.2 1687.3 417.1 1686.2 420.3C1685.0 423.6 1683.2 427.0 1682.0 430.0C1680.8 433.1 1680.6 435.6 1679.2 438.4C1677.8 441.2 1676.4 444.4 1673.7 446.7C1670.9 449.1 1666.5 450.4 1662.5 452.3C1658.6 454.2 1652.1 456.9 1650.0 457.9" fill="none" stroke="#f0a942" stroke-width="2.3" stroke-linecap="round" stroke-linejoin="round" /><path d="M1722.3 434.2C1722.2 436.8 1721.2 445.1 1721.7 449.5C1722.1 453.9 1723.4 456.9 1725.1 460.7C1726.9 464.4 1730.2 468.1 1732.1 471.8C1733.9 475.5 1735.2 479.7 1736.3 482.9C1737.3 486.2 1738.2 488.5 1738.3 491.3C1738.5 494.0 1737.2 498.2 1737.0 499.6" fill="none" stroke="#f0a942" stroke-width="2.3" stroke-linecap="round" stroke-linejoin="round" /><path d="M1650.0 482.2C1652.3 482.3 1659.3 482.0 1663.9 482.9C1668.6 483.8 1672.5 486.5 1677.8 487.8C1683.2 489.1 1689.9 489.6 1695.9 490.6C1701.9 491.5 1709.1 492.5 1714.0 493.3C1718.9 494.2 1721.9 494.4 1725.1 495.4C1728.4 496.5 1730.7 498.1 1733.5 499.6C1736.3 501.1 1738.6 503.1 1741.8 504.5C1745.1 505.9 1749.7 507.6 1753.0 508.0C1756.2 508.3 1758.5 507.4 1761.3 506.6C1764.1 505.8 1765.9 503.7 1769.7 503.1C1773.4 502.5 1778.9 503.4 1783.6 503.1C1788.2 502.7 1793.3 501.5 1797.5 501.0C1801.7 500.5 1805.4 500.1 1808.6 500.3C1811.9 500.5 1813.9 501.6 1817.0 502.4C1820.0 503.2 1823.9 504.0 1826.7 505.2C1829.5 506.3 1831.8 507.3 1833.7 509.3C1835.5 511.4 1835.5 514.7 1837.8 517.7C1840.1 520.7 1844.1 524.7 1847.6 527.4C1851.0 530.2 1855.0 532.2 1858.7 534.4C1862.4 536.6 1867.0 539.1 1869.8 540.7C1872.6 542.2 1874.5 543.0 1875.4 543.4" fill="none" stroke="#f0a942" stroke-width="2.3" stroke-linecap="round" stroke-linejoin="round" /><path d="M1855.9 416.1C1856.1 418.2 1857.5 425.2 1857.3 428.7C1857.1 432.1 1856.6 434.0 1854.5 437.0C1852.4 440.0 1847.8 444.0 1844.8 446.7C1841.8 449.5 1838.2 450.4 1836.4 453.7C1834.7 456.9 1835.0 461.8 1834.3 466.2C1833.7 470.6 1833.1 476.0 1832.3 480.1C1831.4 484.3 1830.4 487.1 1829.5 491.3C1828.6 495.4 1827.2 502.9 1826.7 505.2" fill="none" stroke="#f0a942" stroke-width="2.3" stroke-linecap="round" stroke-linejoin="round" /><path d="M1797.5 501.0C1797.0 502.2 1796.1 505.9 1794.7 508.0C1793.3 510.0 1791.2 511.9 1789.1 513.5C1787.0 515.1 1783.7 515.6 1782.2 517.7C1780.7 519.8 1780.4 522.6 1780.1 526.0C1779.7 529.5 1779.7 533.7 1780.1 538.6C1780.4 543.4 1781.8 552.2 1782.2 555.0" fill="none" stroke="#f0a942" stroke-width="2.3" stroke-linecap="round" stroke-linejoin="round" /><path d="M1817.0 530.2C1816.3 531.6 1813.7 534.4 1812.8 538.6C1811.9 542.7 1811.6 552.2 1811.4 555.0" fill="none" stroke="#f0a942" stroke-width="2.3" stroke-linecap="round" stroke-linejoin="round" /><path d="M1698.7 555.0C1699.9 554.4 1701.7 552.4 1705.7 551.8C1709.6 551.1 1717.7 551.4 1722.3 551.1C1727.0 550.8 1729.3 550.0 1733.5 550.0C1737.7 550.0 1742.3 550.8 1747.4 551.1C1752.5 551.4 1758.8 551.6 1764.1 551.8C1769.4 552.0 1776.8 552.4 1779.4 552.5" fill="none" stroke="#f0a942" stroke-width="2.3" stroke-linecap="round" stroke-linejoin="round" /><path d="M1847.6 516.3C1848.0 515.8 1848.5 514.2 1850.3 513.5C1852.2 512.8 1856.4 513.1 1858.7 512.1C1861.0 511.2 1861.9 509.6 1864.3 508.0C1866.6 506.3 1869.7 503.8 1872.6 502.4C1875.6 501.0 1880.4 500.1 1881.9 499.6" fill="none" stroke="#f0a942" stroke-width="2.3" stroke-linecap="round" stroke-linejoin="round" /><path d="M1403.1 410.6C1402.4 412.7 1400.1 418.9 1398.9 423.1C1397.8 427.3 1398.0 431.9 1396.1 435.6C1394.3 439.3 1390.6 442.6 1387.8 445.4C1385.0 448.1 1382.0 450.0 1379.4 452.3C1376.9 454.6 1374.6 457.2 1372.5 459.3C1370.4 461.4 1367.8 463.9 1366.9 464.8" fill="none" stroke="#f0a942" stroke-width="2.3" stroke-linecap="round" stroke-linejoin="round" /><path d="M1450.0 413.4C1449.1 415.2 1447.3 421.0 1444.9 424.5C1442.4 428.0 1438.6 431.4 1435.1 434.2C1431.6 437.0 1427.5 439.1 1424.0 441.2C1420.5 443.3 1417.5 444.7 1414.2 446.8C1411.0 448.8 1407.7 451.2 1404.5 453.7C1401.2 456.3 1398.2 458.6 1394.7 462.1C1391.3 465.5 1386.9 471.1 1383.6 474.6C1380.4 478.1 1378.0 480.2 1375.3 482.9C1372.5 485.7 1369.5 488.0 1366.9 491.3C1364.4 494.5 1361.6 499.2 1360.0 502.4C1358.3 505.7 1356.9 507.8 1357.2 510.8C1357.4 513.8 1360.0 517.3 1361.3 520.5C1362.7 523.8 1364.4 527.2 1365.5 530.3C1366.7 533.3 1367.4 535.4 1368.3 538.6C1369.2 541.9 1370.4 547.0 1371.1 549.7C1371.8 552.5 1372.2 554.2 1372.5 555.0" fill="none" stroke="#f0a942" stroke-width="2.3" stroke-linecap="round" stroke-linejoin="round" /><path d="M1365.5 477.4C1366.7 478.3 1369.5 481.3 1372.5 482.9C1375.5 484.6 1379.4 486.2 1383.6 487.1C1387.8 488.0 1393.1 487.9 1397.5 488.5C1401.9 489.1 1406.5 489.7 1410.1 490.6C1413.6 491.5 1417.2 493.5 1418.7 494.1" fill="none" stroke="#f0a942" stroke-width="2.3" stroke-linecap="round" stroke-linejoin="round" /><path d="M1368.3 495.5C1369.2 496.6 1372.0 499.6 1373.9 502.4C1375.7 505.2 1378.0 508.7 1379.4 512.2C1380.8 515.6 1380.8 519.6 1382.2 523.3C1383.6 527.0 1385.9 531.4 1387.8 534.4C1389.6 537.5 1391.3 539.5 1393.4 541.4C1395.4 543.3 1399.2 544.9 1400.3 545.6" fill="none" stroke="#f0a942" stroke-width="2.3" stroke-linecap="round" stroke-linejoin="round" /><path d="M1438.2 502.4C1439.3 502.8 1442.9 504.2 1444.9 504.5C1446.8 504.8 1449.1 504.2 1450.0 504.1" fill="none" stroke="#f0a942" stroke-width="2.3" stroke-linecap="round" stroke-linejoin="round" /><path d="M1328.6 527.5C1329.2 528.4 1331.2 531.2 1332.1 533.0C1333.0 534.9 1333.9 537.7 1334.2 538.6" fill="none" stroke="#f0a942" stroke-width="2.3" stroke-linecap="round" stroke-linejoin="round" /><path d="M1350.8 551.6C1352.5 551.4 1357.5 550.9 1361.1 550.5C1364.7 550.1 1368.6 549.7 1372.6 549.3C1376.6 548.9 1381.8 548.7 1385.2 548.2C1388.6 547.6 1390.7 546.6 1393.2 545.9C1395.7 545.1 1397.2 544.5 1400.1 543.6C1403.0 542.6 1407.4 541.3 1410.4 540.1C1413.5 539.0 1414.5 538.4 1418.5 536.7C1422.5 535.0 1430.3 532.1 1434.5 529.8C1438.7 527.5 1441.0 525.0 1443.7 522.9C1446.4 520.8 1448.5 519.1 1450.6 517.2C1452.7 515.3 1455.2 513.6 1456.3 511.5C1457.5 509.4 1457.3 505.7 1457.5 504.6" fill="none" stroke="#f0a942" stroke-width="2.3" stroke-linecap="round" stroke-linejoin="round" /><path d="M1302.6 537.9C1304.3 539.2 1310.1 543.8 1312.9 545.9C1315.8 548.0 1317.3 548.4 1319.8 550.5C1322.3 552.6 1324.6 556.5 1327.9 558.5C1331.1 560.5 1336.6 562.3 1339.3 562.5C1342.0 562.7 1342.0 560.9 1343.9 559.6C1345.8 558.4 1349.4 556.4 1350.8 555.1C1352.2 553.7 1352.2 552.2 1352.5 551.6" fill="none" stroke="#f0a942" stroke-width="2.3" stroke-linecap="round" stroke-linejoin="round" /><path d="M1340.5 562.5C1340.7 563.6 1341.0 567.0 1341.6 568.8C1342.2 570.6 1341.8 572.3 1343.9 573.4C1346.0 574.6 1351.0 575.5 1354.2 575.7C1357.5 575.9 1358.8 574.9 1363.4 574.6C1368.0 574.2 1376.8 573.2 1381.8 573.4C1386.7 573.6 1389.8 574.7 1393.2 575.7C1396.7 576.7 1398.6 578.8 1402.4 579.1C1406.2 579.5 1412.4 578.4 1416.2 578.0C1420.0 577.6 1423.1 577.6 1425.4 576.9C1427.6 576.1 1429.0 574.9 1429.9 573.4C1430.9 571.9 1431.5 569.6 1431.1 567.7C1430.7 565.8 1428.7 563.7 1427.6 561.9C1426.6 560.2 1425.3 558.1 1424.8 557.4" fill="none" stroke="#f0a942" stroke-width="2.3" stroke-linecap="round" stroke-linejoin="round" /><path d="M1329.0 527.5C1329.8 528.7 1332.4 532.3 1333.6 534.4C1334.7 536.5 1335.5 539.2 1335.9 540.1" fill="none" stroke="#f0a942" stroke-width="2.3" stroke-linecap="round" stroke-linejoin="round" /><path d="M1363.4 500.0C1362.6 501.1 1359.6 504.2 1358.8 506.9C1358.1 509.6 1358.1 513.2 1358.8 516.1C1359.6 518.9 1361.9 521.0 1363.4 524.1C1364.9 527.1 1366.7 531.2 1368.0 534.4C1369.3 537.7 1370.7 541.1 1371.4 543.6C1372.2 546.1 1372.0 546.6 1372.6 549.3C1373.2 552.0 1373.9 556.4 1374.9 559.6C1375.8 562.9 1377.2 566.5 1378.3 568.8C1379.5 571.1 1381.2 572.6 1381.8 573.4" fill="none" stroke="#f0a942" stroke-width="2.3" stroke-linecap="round" stroke-linejoin="round" /><path d="M1370.3 500.0C1371.2 501.1 1374.3 504.2 1376.0 506.9C1377.7 509.6 1379.7 513.0 1380.6 516.1C1381.6 519.1 1381.0 522.4 1381.8 525.2C1382.5 528.1 1384.1 530.8 1385.2 533.3C1386.4 535.7 1387.3 538.0 1388.6 540.1C1390.0 542.2 1392.5 544.9 1393.2 545.9" fill="none" stroke="#f0a942" stroke-width="2.3" stroke-linecap="round" stroke-linejoin="round" /><path d="M1431.1 571.1C1432.2 572.1 1435.9 575.1 1438.0 576.9C1440.1 578.6 1440.1 580.7 1443.7 581.4C1447.3 582.2 1455.6 580.5 1459.8 581.4C1464.0 582.4 1465.7 585.5 1468.9 587.2C1472.2 588.9 1475.6 590.4 1479.3 591.8C1482.9 593.1 1485.6 594.2 1490.7 595.2C1495.9 596.2 1506.8 597.1 1510.0 597.5" fill="none" stroke="#f0a942" stroke-width="2.3" stroke-linecap="round" stroke-linejoin="round" /><path d="M1438.0 576.9C1439.1 578.6 1442.9 584.1 1444.9 587.2C1446.8 590.2 1447.9 592.7 1449.4 595.2C1451.0 597.7 1452.9 599.6 1454.0 602.1C1455.2 604.6 1456.1 607.1 1456.3 610.1C1456.5 613.1 1455.4 618.3 1455.2 620.0" fill="none" stroke="#f0a942" stroke-width="2.3" stroke-linecap="round" stroke-linejoin="round" /><path d="M1416.2 578.0C1416.3 579.5 1417.1 584.1 1416.7 587.2C1416.4 590.2 1415.5 593.7 1413.9 596.4C1412.3 599.0 1409.3 601.3 1407.0 603.2C1404.7 605.1 1401.3 607.1 1400.1 607.8" fill="none" stroke="#f0a942" stroke-width="2.3" stroke-linecap="round" stroke-linejoin="round" /><path d="M1439.1 503.4C1441.0 503.6 1447.5 504.4 1450.6 504.6C1453.6 504.8 1455.0 505.4 1457.5 504.6C1460.0 503.8 1464.2 500.8 1465.5 500.0" fill="none" stroke="#f0a942" stroke-width="2.3" stroke-linecap="round" stroke-linejoin="round" /><path d="M1416.8 575.0C1416.7 577.0 1416.8 583.6 1416.2 587.1C1415.6 590.5 1415.1 592.7 1413.2 595.5C1411.3 598.3 1407.4 601.5 1404.8 603.9C1402.1 606.3 1400.1 606.7 1397.5 610.0C1394.9 613.2 1390.9 619.0 1389.1 623.2C1387.3 627.4 1387.7 631.7 1386.7 635.3C1385.7 638.9 1384.1 641.9 1383.1 644.9C1382.0 647.9 1380.4 650.8 1380.6 653.4C1380.8 656.0 1382.8 658.4 1384.3 660.6C1385.7 662.8 1388.3 664.4 1389.1 666.6C1389.9 668.8 1389.9 671.5 1389.1 673.9C1388.3 676.3 1386.1 678.1 1384.3 681.1C1382.4 684.1 1380.0 688.0 1378.2 692.0C1376.4 695.9 1374.2 702.8 1373.4 705.0" fill="none" stroke="#f0a942" stroke-width="2.3" stroke-linecap="round" stroke-linejoin="round" /><path d="M1434.9 575.0C1436.1 576.6 1439.7 581.0 1442.1 584.6C1444.5 588.3 1447.2 593.3 1449.4 596.7C1451.6 600.1 1454.4 602.1 1455.4 605.1C1456.4 608.2 1455.8 611.0 1455.4 614.8C1455.0 618.6 1453.8 623.4 1453.0 628.1C1452.2 632.7 1450.4 638.5 1450.6 642.5C1450.8 646.5 1453.0 649.4 1454.2 652.2C1455.4 655.0 1456.4 656.6 1457.8 659.4C1459.2 662.2 1461.2 665.8 1462.6 669.0C1464.0 672.3 1464.8 675.3 1466.2 678.7C1467.6 682.1 1469.5 685.2 1471.1 689.5C1472.7 693.9 1475.1 702.4 1475.9 705.0" fill="none" stroke="#f0a942" stroke-width="2.3" stroke-linecap="round" stroke-linejoin="round" /><path d="M1390.3 575.0C1392.3 575.6 1397.9 578.0 1402.3 578.6C1406.8 579.2 1412.8 579.0 1416.8 578.6C1420.8 578.2 1423.4 576.8 1426.5 576.2C1429.5 575.6 1433.5 575.2 1434.9 575.0" fill="none" stroke="#f0a942" stroke-width="2.3" stroke-linecap="round" stroke-linejoin="round" /><path d="M1442.1 581.0C1444.5 581.0 1452.8 580.4 1456.6 581.0C1460.4 581.6 1462.0 583.0 1465.0 584.6C1468.1 586.3 1471.1 589.1 1474.7 590.7C1478.3 592.3 1482.7 593.3 1486.7 594.3C1490.8 595.3 1494.9 596.2 1498.8 596.7C1502.7 597.2 1508.1 597.2 1510.0 597.3" fill="none" stroke="#f0a942" stroke-width="2.3" stroke-linecap="round" stroke-linejoin="round" /><path d="M1389.1 673.9C1390.5 674.9 1394.3 678.3 1397.5 679.9C1400.7 681.5 1404.8 682.7 1408.4 683.5C1412.0 684.3 1416.2 684.9 1419.2 684.7C1422.2 684.5 1424.0 684.1 1426.5 682.3C1428.9 680.5 1430.9 676.5 1433.7 673.9C1436.5 671.3 1440.5 668.8 1443.3 666.6C1446.1 664.4 1448.6 662.4 1450.6 660.6C1452.6 658.8 1454.6 656.6 1455.4 655.8" fill="none" stroke="#f0a942" stroke-width="2.3" stroke-linecap="round" stroke-linejoin="round" /><path d="M1510.0 665.4C1508.1 666.2 1502.7 668.6 1498.8 670.2C1494.9 671.9 1490.8 673.7 1486.7 675.1C1482.7 676.5 1478.1 677.9 1474.7 678.7C1471.3 679.5 1467.6 679.7 1466.2 679.9" fill="none" stroke="#f0a942" stroke-width="2.3" stroke-linecap="round" stroke-linejoin="round" /><path d="M1426.5 682.3C1425.2 683.3 1421.2 686.5 1419.2 688.3C1417.2 690.1 1415.8 690.4 1414.4 693.2C1413.0 695.9 1411.4 703.0 1410.8 705.0" fill="none" stroke="#f0a942" stroke-width="2.3" stroke-linecap="round" stroke-linejoin="round" /><path d="M1356.5 705.0C1357.3 704.4 1358.9 701.6 1361.3 701.6C1363.8 701.6 1369.4 704.4 1371.0 705.0" fill="none" stroke="#f0a942" stroke-width="2.3" stroke-linecap="round" stroke-linejoin="round" /><path d="M1500.0 596.9C1502.5 596.7 1509.6 596.7 1514.8 595.4C1520.0 594.2 1525.0 591.0 1531.2 589.5C1537.3 588.0 1546.0 586.7 1551.9 586.5C1557.9 586.4 1561.6 588.4 1566.8 588.8C1572.0 589.1 1578.1 589.3 1583.1 588.8C1588.0 588.3 1590.5 586.4 1596.4 585.8C1602.4 585.2 1611.8 585.8 1618.7 585.1C1625.6 584.3 1633.0 582.2 1638.0 581.4C1642.9 580.5 1644.9 581.0 1648.4 579.9C1651.8 578.8 1655.5 577.0 1658.8 574.7C1662.0 572.3 1663.9 568.2 1667.7 565.8C1671.4 563.3 1676.8 561.3 1681.0 559.8C1685.2 558.4 1689.7 558.0 1692.9 556.9C1696.0 555.8 1698.8 553.8 1700.0 553.2" fill="none" stroke="#f0a942" stroke-width="2.3" stroke-linecap="round" stroke-linejoin="round" /><path d="M1557.9 545.0C1557.4 546.5 1556.1 550.4 1554.9 553.9C1553.7 557.4 1551.9 561.6 1550.4 565.8C1549.0 570.0 1547.7 574.4 1546.0 579.1C1544.3 583.8 1541.5 588.5 1540.1 594.0C1538.6 599.4 1537.8 605.6 1537.1 611.8C1536.4 617.9 1537.3 625.9 1535.6 631.1C1533.9 636.2 1528.6 638.5 1526.7 642.9C1524.9 647.4 1525.1 653.1 1524.5 657.8C1523.9 662.5 1523.4 666.7 1523.0 671.1C1522.6 675.6 1523.6 680.0 1522.3 684.5C1520.9 688.9 1516.6 694.1 1514.8 697.8C1513.1 701.5 1512.4 705.2 1511.9 706.7" fill="none" stroke="#f0a942" stroke-width="2.3" stroke-linecap="round" stroke-linejoin="round" /><path d="M1603.9 545.0C1605.3 547.5 1609.5 554.1 1612.8 559.8C1616.0 565.5 1619.9 573.4 1623.1 579.1C1626.4 584.8 1630.3 589.0 1632.0 594.0C1633.8 598.9 1633.3 604.3 1633.5 608.8C1633.8 613.2 1632.3 617.2 1633.5 620.7C1634.8 624.1 1638.5 626.4 1640.9 629.6C1643.4 632.8 1645.9 637.0 1648.4 640.0C1650.8 642.9 1653.9 644.9 1655.8 647.4C1657.6 649.8 1659.0 652.1 1659.5 654.8C1660.0 657.5 1660.1 661.5 1658.8 663.7C1657.4 665.9 1654.1 666.4 1651.3 668.1C1648.6 669.9 1643.2 671.4 1642.4 674.1C1641.7 676.8 1645.4 681.0 1646.9 684.5C1648.4 687.9 1649.6 691.1 1651.3 694.9C1653.1 698.6 1656.3 704.7 1657.3 706.7" fill="none" stroke="#f0a942" stroke-width="2.3" stroke-linecap="round" stroke-linejoin="round" /><path d="M1500.0 668.1C1502.5 667.2 1509.9 663.9 1514.8 662.2C1519.8 660.5 1525.5 658.6 1529.7 657.8C1533.9 656.9 1538.3 657.1 1540.1 657.0" fill="none" stroke="#f0a942" stroke-width="2.3" stroke-linecap="round" stroke-linejoin="round" /><path d="M1630.6 651.8C1631.8 651.1 1635.0 648.4 1638.0 647.4C1640.9 646.4 1645.4 645.9 1648.4 645.9C1651.3 645.9 1654.5 647.1 1655.8 647.4" fill="none" stroke="#f0a942" stroke-width="2.3" stroke-linecap="round" stroke-linejoin="round" /><path d="M1658.8 657.8C1660.2 656.8 1664.4 653.6 1667.7 651.8C1670.9 650.1 1673.8 649.1 1678.0 647.4C1682.2 645.6 1689.2 642.9 1692.9 641.4C1696.5 640.0 1698.8 639.0 1700.0 638.5" fill="none" stroke="#f0a942" stroke-width="2.3" stroke-linecap="round" stroke-linejoin="round" /><path d="M1690.0 558.4C1691.5 557.4 1695.2 553.8 1698.9 552.4C1702.6 551.1 1706.3 550.6 1712.3 550.2C1718.2 549.8 1727.1 550.1 1734.5 550.2C1741.9 550.3 1750.3 550.6 1756.8 550.9C1763.2 551.3 1769.4 551.7 1773.1 552.4C1776.8 553.2 1777.4 554.4 1779.0 555.4C1780.6 556.4 1782.1 557.9 1782.7 558.4" fill="none" stroke="#f0a942" stroke-width="2.3" stroke-linecap="round" stroke-linejoin="round" /><path d="M1782.7 545.0C1782.7 547.2 1784.1 554.6 1782.7 558.4C1781.4 562.1 1777.2 563.8 1774.6 567.3C1772.0 570.7 1769.6 575.7 1767.2 579.1C1764.7 582.6 1761.7 584.8 1759.7 588.0C1757.8 591.2 1756.3 595.2 1755.3 598.4C1754.3 601.6 1755.3 604.3 1753.8 607.3C1752.3 610.3 1748.4 613.5 1746.4 616.2C1744.4 618.9 1743.4 621.2 1741.9 623.6C1740.4 626.1 1739.7 629.1 1737.5 631.1C1735.3 633.0 1730.8 633.8 1728.6 635.5C1726.4 637.2 1724.7 638.7 1724.1 641.4C1723.5 644.2 1724.1 648.4 1724.9 651.8C1725.6 655.3 1727.2 659.0 1728.6 662.2C1729.9 665.4 1732.5 668.3 1733.0 671.1C1733.5 674.0 1733.8 676.9 1731.5 679.3C1729.3 681.6 1724.6 684.0 1719.7 685.2C1714.7 686.4 1706.8 686.7 1701.9 686.7C1696.9 686.7 1692.0 685.5 1690.0 685.2" fill="none" stroke="#f0a942" stroke-width="2.3" stroke-linecap="round" stroke-linejoin="round" /><path d="M1782.7 558.4C1784.1 559.1 1787.8 561.8 1790.9 562.8C1794.0 563.8 1798.1 564.4 1801.3 564.3C1804.5 564.2 1808.2 563.8 1810.2 562.1C1812.2 560.3 1812.7 556.7 1813.1 553.9C1813.6 551.1 1813.1 546.5 1813.1 545.0" fill="none" stroke="#f0a942" stroke-width="2.3" stroke-linecap="round" stroke-linejoin="round" /><path d="M1782.0 592.5C1782.5 594.0 1783.0 598.4 1785.0 601.4C1786.9 604.3 1791.1 607.3 1793.9 610.3C1796.6 613.2 1799.8 615.7 1801.3 619.2C1802.8 622.6 1801.8 627.3 1802.8 631.1C1803.7 634.8 1805.5 638.0 1807.2 641.4C1808.9 644.9 1811.4 648.4 1813.1 651.8C1814.9 655.3 1816.1 658.7 1817.6 662.2C1819.1 665.7 1820.6 669.1 1822.0 672.6C1823.5 676.1 1825.1 680.1 1826.5 683.0C1827.9 685.8 1829.6 688.5 1830.2 689.7" fill="none" stroke="#f0a942" stroke-width="2.3" stroke-linecap="round" stroke-linejoin="round" /><path d="M1755.3 601.4C1756.8 601.1 1761.7 600.8 1764.2 599.9C1766.7 599.0 1767.6 596.9 1770.1 596.2C1772.6 595.4 1777.0 596.1 1779.0 595.4C1781.0 594.8 1781.5 593.0 1782.0 592.5" fill="none" stroke="#f0a942" stroke-width="2.3" stroke-linecap="round" stroke-linejoin="round" /><path d="M1690.0 640.0C1691.5 639.5 1695.4 637.7 1698.9 637.0C1702.4 636.2 1707.3 635.4 1710.8 635.5C1714.2 635.6 1717.4 637.1 1719.7 637.7C1721.9 638.3 1723.4 639.0 1724.1 639.2" fill="none" stroke="#f0a942" stroke-width="2.3" stroke-linecap="round" stroke-linejoin="round" /><path d="M1822.0 672.6C1824.3 672.6 1831.2 673.3 1835.4 672.6C1839.6 671.9 1843.8 669.1 1847.3 668.1C1850.7 667.2 1851.2 666.9 1856.2 666.7C1861.1 666.4 1872.7 666.4 1876.9 666.7C1881.2 666.9 1881.0 667.9 1881.8 668.1" fill="none" stroke="#f0a942" stroke-width="2.3" stroke-linecap="round" stroke-linejoin="round" /><path d="M1881.8 647.4C1880.8 648.1 1875.5 650.1 1875.5 651.8C1875.5 653.6 1880.8 656.8 1881.8 657.8" fill="none" stroke="#f0a942" stroke-width="2.3" stroke-linecap="round" stroke-linejoin="round" /><path d="M1881.8 562.8L1879.2 564.0L1879.9 565.8" fill="none" stroke="#8d8d8d" stroke-width="1.3"/><path d="M1881.8 583.9L1868.0 577.6L1865.1 582.1L1847.3 589.5L1832.4 594.0" fill="none" stroke="#8d8d8d" stroke-width="1.3"/><path d="M1841.3 610.3L1845.8 616.2L1844.3 625.1L1836.9 632.5L1836.1 637.0L1838.4 640.0" fill="none" stroke="#8d8d8d" stroke-width="1.3"/><path d="M1857.7 645.9L1859.1 648.9L1857.7 662.2" fill="none" stroke="#8d8d8d" stroke-width="1.3"/><path d="M1881.8 672.9L1879.9 684.5L1881.8 699.3" fill="none" stroke="#8d8d8d" stroke-width="1.3"/><path d="M1123.4 408.0L1162.5 436.5L1297.5 523.0L1330.0 546.0L1375.0 578.0" fill="none" stroke="#3f93da" stroke-width="1.1" stroke-dasharray="1.6 2.6"/><path d="M1120.4 410.0L1160.0 438.8L1295.8 525.6L1328.0 548.5L1373.0 581.0" fill="none" stroke="#3f93da" stroke-width="1.1" stroke-dasharray="1.6 2.6"/><path d="M1150.8 408.0L1162.5 436.5" fill="none" stroke="#3f93da" stroke-width="1.0" stroke-dasharray="1.6 2.6"/><path d="M1169.0 408.0L1162.0 437.0L1133.0 527.0L1122.0 560.0L1103.0 618.0L1075.0 706.0" fill="none" stroke="#3f93da" stroke-width="1.1" stroke-dasharray="1.6 2.6"/><path d="M971.0 534.5L1017.0 532.0L1090.0 529.2L1133.0 527.0L1200.0 521.5L1250.0 518.6L1268.0 518.0L1297.5 523.0" fill="none" stroke="#3f93da" stroke-width="1.3" stroke-dasharray="1.6 3.2"/><path d="M971.0 611.0L1018.0 594.0L1117.0 565.0L1220.0 532.0L1257.0 520.0" fill="none" stroke="#3f93da" stroke-width="1.1" stroke-dasharray="1.4 3.6"/><path d="M1195.3 669.0L1206.2 681.1L1215.8 692.0L1232.7 689.5L1247.2 696.8L1266.5 702.8L1290.6 700.4L1302.6 693.2" fill="none" stroke="#3f93da" stroke-width="0.9" stroke-dasharray="2 3"/><path d="M1170.0 702.8L1194.1 700.4L1215.8 692.0L1230.3 688.3L1242.3 681.1" fill="none" stroke="#3f93da" stroke-width="0.9" stroke-dasharray="2 3"/><path d="M1301.4 605.1L1314.7 613.6L1324.3 620.8" fill="none" stroke="#3f93da" stroke-width="0.9" stroke-dasharray="2 3"/><path d="M1393.9 646.1L1394.5 657.0" fill="none" stroke="#3f93da" stroke-width="0.9" stroke-dasharray="2 3"/><text transform="translate(1195.5 456.0) rotate(33.8)" x="0" y="0" font-size="8.3" font-weight="700" font-style="italic" fill="#1268c4" stroke="#f4faff" stroke-width="2.3" paint-order="stroke" stroke-linejoin="round" textLength="115.0" lengthAdjust="spacingAndGlyphs" letter-spacing=".5">Rotterdam-Killingholme</text><text transform="translate(1157.0 524.2) rotate(-4.3)" x="0" y="0" font-size="8.3" font-weight="700" font-style="italic" fill="#1268c4" stroke="#f4faff" stroke-width="2.3" paint-order="stroke" stroke-linejoin="round" textLength="92.8" lengthAdjust="spacingAndGlyphs" letter-spacing=".5">Rotterdam-Harwich</text><text transform="translate(1127.5 558.5) rotate(-16.2)" x="0" y="0" font-size="8.3" font-weight="700" font-style="italic" fill="#1268c4" stroke="#f4faff" stroke-width="2.3" paint-order="stroke" stroke-linejoin="round" textLength="94.8" lengthAdjust="spacingAndGlyphs" letter-spacing=".5">Rotterdam-Purfleet</text><text transform="translate(1162.0 426.0) rotate(-73.2)" x="0" y="0" font-size="8.3" font-weight="700" font-style="italic" fill="#1268c4" stroke="#f4faff" stroke-width="2.3" paint-order="stroke" stroke-linejoin="round" textLength="18.3" lengthAdjust="spacingAndGlyphs" letter-spacing=".5">Zee</text><text transform="translate(1086.5 672.5) rotate(-72.3)" x="0" y="0" font-size="8.3" font-weight="700" font-style="italic" fill="#1268c4" stroke="#f4faff" stroke-width="2.3" paint-order="stroke" stroke-linejoin="round" textLength="61.9" lengthAdjust="spacingAndGlyphs" letter-spacing=".5">Ghent-Brevik</text><text transform="translate(968.0 534.6) rotate(-3.4)" x="0" y="0" font-size="8.3" font-weight="700" font-style="italic" fill="#1268c4" stroke="#f4faff" stroke-width="2.3" paint-order="stroke" stroke-linejoin="round" textLength="47.5" lengthAdjust="spacingAndGlyphs" letter-spacing=".5">-Harwich</text><text transform="translate(963.0 608.5) rotate(-17.6)" x="0" y="0" font-size="8.3" font-weight="700" font-style="italic" fill="#1268c4" stroke="#f4faff" stroke-width="2.3" paint-order="stroke" stroke-linejoin="round" textLength="30.4" lengthAdjust="spacingAndGlyphs" letter-spacing=".5">rfleet</text><circle cx="1358.3" cy="473.9" r="1.9" fill="#fff" stroke="#555" stroke-width=".9"/><text x="1363.4" y="477.3" font-size="9.4" font-weight="700" letter-spacing=".7" fill="#454545" stroke="#f7f5f2" stroke-width="2.2" paint-order="stroke" stroke-linejoin="round" textLength="62.2" lengthAdjust="spacingAndGlyphs">Den Haag</text><circle cx="1410.3" cy="441.2" r="1.9" fill="#fff" stroke="#555" stroke-width=".9"/><text x="1415.0" y="445.3" font-size="9.4" font-weight="700" letter-spacing=".7" fill="#454545" stroke="#f7f5f2" stroke-width="2.2" paint-order="stroke" stroke-linejoin="round" textLength="37.0" lengthAdjust="spacingAndGlyphs">Leiden</text><circle cx="1313.0" cy="513.2" r="1.9" fill="#fff" stroke="#555" stroke-width=".9"/><text x="1317.8" y="517.7" font-size="9.4" font-weight="700" letter-spacing=".7" fill="#454545" stroke="#f7f5f2" stroke-width="2.2" paint-order="stroke" stroke-linejoin="round" textLength="53.2" lengthAdjust="spacingAndGlyphs">Westland</text><circle cx="1458.5" cy="453.3" r="1.9" fill="#fff" stroke="#555" stroke-width=".9"/><text x="1463.8" y="456.4" font-size="9.4" font-weight="700" letter-spacing=".7" fill="#454545" stroke="#f7f5f2" stroke-width="2.2" paint-order="stroke" stroke-linejoin="round" textLength="117.6" lengthAdjust="spacingAndGlyphs">Alphen aan den Rijn</text><circle cx="1670.9" cy="441.2" r="1.9" fill="#fff" stroke="#555" stroke-width=".9"/><text x="1602.3" y="445.9" font-size="9.4" font-weight="700" letter-spacing=".7" fill="#454545" stroke="#f7f5f2" stroke-width="2.2" paint-order="stroke" stroke-linejoin="round" textLength="63.0" lengthAdjust="spacingAndGlyphs">Amersfoort</text><circle cx="1591.4" cy="470.8" r="1.9" fill="#fff" stroke="#555" stroke-width=".9"/><text x="1596.0" y="475.2" font-size="9.4" font-weight="700" letter-spacing=".7" fill="#454545" stroke="#f7f5f2" stroke-width="2.2" paint-order="stroke" stroke-linejoin="round" textLength="41.0" lengthAdjust="spacingAndGlyphs">Utrecht</text><circle cx="1474.0" cy="509.0" r="1.9" fill="#fff" stroke="#555" stroke-width=".9"/><text x="1478.4" y="513.0" font-size="9.4" font-weight="700" letter-spacing=".7" fill="#454545" stroke="#f7f5f2" stroke-width="2.2" paint-order="stroke" stroke-linejoin="round" textLength="35.1" lengthAdjust="spacingAndGlyphs">Gouda</text><circle cx="1438.0" cy="546.8" r="1.9" fill="#fff" stroke="#555" stroke-width=".9"/><text x="1374.3" y="540.7" font-size="9.4" font-weight="700" letter-spacing=".7" fill="#454545" stroke="#f7f5f2" stroke-width="2.2" paint-order="stroke" stroke-linejoin="round" textLength="127.9" lengthAdjust="spacingAndGlyphs">Capelle aan den IJssel</text><circle cx="1408.1" cy="553.9" r="1.9" fill="#fff" stroke="#555" stroke-width=".9"/><text x="1413.9" y="558.5" font-size="9.4" font-weight="700" letter-spacing=".7" fill="#454545" stroke="#f7f5f2" stroke-width="2.2" paint-order="stroke" stroke-linejoin="round" textLength="64.2" lengthAdjust="spacingAndGlyphs">Rotterdam</text><circle cx="1287.0" cy="575.3" r="1.9" fill="#fff" stroke="#555" stroke-width=".9"/><text x="1292.3" y="579.2" font-size="9.4" font-weight="700" letter-spacing=".7" fill="#454545" stroke="#f7f5f2" stroke-width="2.2" paint-order="stroke" stroke-linejoin="round" textLength="88.3" lengthAdjust="spacingAndGlyphs">Voorne aan Zee</text><circle cx="1388.1" cy="597.5" r="1.9" fill="#fff" stroke="#555" stroke-width=".9"/><text x="1290.2" y="601.0" font-size="9.4" font-weight="700" letter-spacing=".7" fill="#454545" stroke="#f7f5f2" stroke-width="2.2" paint-order="stroke" stroke-linejoin="round" textLength="93.3" lengthAdjust="spacingAndGlyphs">Hoeksche Waard</text><circle cx="1261.6" cy="600.0" r="1.9" fill="#fff" stroke="#555" stroke-width=".9"/><text x="1152.5" y="603.9" font-size="9.4" font-weight="700" letter-spacing=".7" fill="#454545" stroke="#f7f5f2" stroke-width="2.2" paint-order="stroke" stroke-linejoin="round" textLength="103.7" lengthAdjust="spacingAndGlyphs">Goeree-Overflakkee</text><circle cx="1242.1" cy="678.9" r="1.9" fill="#fff" stroke="#555" stroke-width=".9"/><text x="1247.2" y="682.3" font-size="9.4" font-weight="700" letter-spacing=".7" fill="#454545" stroke="#f7f5f2" stroke-width="2.2" paint-order="stroke" stroke-linejoin="round" textLength="105.0" lengthAdjust="spacingAndGlyphs">Schouwen-Duiveland</text><circle cx="1457.8" cy="603.0" r="1.9" fill="#fff" stroke="#555" stroke-width=".9"/><text x="1462.0" y="606.8" font-size="9.4" font-weight="700" letter-spacing=".7" fill="#454545" stroke="#f7f5f2" stroke-width="2.2" paint-order="stroke" stroke-linejoin="round" textLength="56.6" lengthAdjust="spacingAndGlyphs">Dordrecht</text><circle cx="1595.4" cy="629.6" r="1.9" fill="#fff" stroke="#555" stroke-width=".9"/><text x="1600.9" y="633.1" font-size="9.4" font-weight="700" letter-spacing=".7" fill="#454545" stroke="#f7f5f2" stroke-width="2.2" paint-order="stroke" stroke-linejoin="round" textLength="34.4" lengthAdjust="spacingAndGlyphs">Altena</text><circle cx="1645.1" cy="659.5" r="1.9" fill="#fff" stroke="#555" stroke-width=".9"/><text x="1538.9" y="662.8" font-size="9.4" font-weight="700" letter-spacing=".7" fill="#454545" stroke="#f7f5f2" stroke-width="2.2" paint-order="stroke" stroke-linejoin="round" textLength="101.3" lengthAdjust="spacingAndGlyphs">'s-Hertogenbosch</text><circle cx="1642.0" cy="569.0" r="1.9" fill="#fff" stroke="#555" stroke-width=".9"/><text x="1647.3" y="573.0" font-size="9.4" font-weight="700" letter-spacing=".7" fill="#454545" stroke="#f7f5f2" stroke-width="2.2" paint-order="stroke" stroke-linejoin="round" textLength="70.9" lengthAdjust="spacingAndGlyphs">West Betuwe</text><circle cx="1622.0" cy="536.5" r="1.9" fill="#fff" stroke="#555" stroke-width=".9"/><text x="1627.3" y="539.4" font-size="9.4" font-weight="700" letter-spacing=".7" fill="#454545" stroke="#f7f5f2" stroke-width="2.2" paint-order="stroke" stroke-linejoin="round" textLength="52.2" lengthAdjust="spacingAndGlyphs">Culemborg</text><circle cx="1719.6" cy="502.0" r="1.9" fill="#fff" stroke="#555" stroke-width=".9"/><text x="1648.9" y="506.1" font-size="9.4" font-weight="700" letter-spacing=".7" fill="#454545" stroke="#f7f5f2" stroke-width="2.2" paint-order="stroke" stroke-linejoin="round" textLength="65.8" lengthAdjust="spacingAndGlyphs">Veenendaal</text><circle cx="1821.1" cy="523.0" r="1.9" fill="#fff" stroke="#555" stroke-width=".9"/><text x="1826.7" y="527.3" font-size="9.4" font-weight="700" letter-spacing=".7" fill="#454545" stroke="#f7f5f2" stroke-width="2.2" paint-order="stroke" stroke-linejoin="round" textLength="43.1" lengthAdjust="spacingAndGlyphs">Arnhem</text><circle cx="1807.7" cy="588.8" r="1.9" fill="#fff" stroke="#555" stroke-width=".9"/><text x="1812.8" y="591.6" font-size="9.4" font-weight="700" letter-spacing=".7" fill="#454545" stroke="#f7f5f2" stroke-width="2.2" paint-order="stroke" stroke-linejoin="round" textLength="53.0" lengthAdjust="spacingAndGlyphs">Nijmegen</text><circle cx="1711.7" cy="622.6" r="1.9" fill="#fff" stroke="#555" stroke-width=".9"/><text x="1716.4" y="626.9" font-size="9.4" font-weight="700" letter-spacing=".7" fill="#454545" stroke="#f7f5f2" stroke-width="2.2" paint-order="stroke" stroke-linejoin="round" textLength="19.6" lengthAdjust="spacingAndGlyphs">Oss</text><circle cx="1812.1" cy="641.4" r="1.9" fill="#fff" stroke="#555" stroke-width=".9"/><text x="1816.9" y="644.7" font-size="9.4" font-weight="700" letter-spacing=".7" fill="#454545" stroke="#f7f5f2" stroke-width="2.2" paint-order="stroke" stroke-linejoin="round" textLength="83.5" lengthAdjust="spacingAndGlyphs">Land van Cuijk</text><circle cx="1840.0" cy="410.8" r="1.9" fill="#fff" stroke="#555" stroke-width=".9"/><text x="1844.8" y="414.2" font-size="9.4" font-weight="700" letter-spacing=".7" fill="#454545" stroke="#f7f5f2" stroke-width="2.2" paint-order="stroke" stroke-linejoin="round" textLength="58.0" lengthAdjust="spacingAndGlyphs">Apeldoorn</text><circle cx="1859.1" cy="512.5" r="1.9" fill="#fff" stroke="#555" stroke-width=".9"/><text x="1863.6" y="516.2" font-size="9.4" font-weight="700" letter-spacing=".7" fill="#454545" stroke="#f7f5f2" stroke-width="2.2" paint-order="stroke" stroke-linejoin="round" textLength="40.0" lengthAdjust="spacingAndGlyphs">Rheden</text><rect x="1419.5" y="493.4" width="19.5" height="11.5" rx="2" fill="#000" opacity=".22"/><rect x="1418.7" y="492.0" width="19.5" height="11.5" rx="2" fill="#d9636a"/><rect x="1420.0" y="493.3" width="16.9" height="8.9" rx="1" fill="#b5151d"/><text x="1428.5" y="500.8" font-size="8.2" font-weight="700" fill="#fff" text-anchor="middle">12</text><rect x="1330.4" y="539.7" width="19.9" height="11.9" rx="2" fill="#000" opacity=".22"/><rect x="1329.6" y="538.3" width="19.9" height="11.9" rx="2" fill="#d9636a"/><rect x="1330.9" y="539.6" width="17.3" height="9.3" rx="1" fill="#b5151d"/><text x="1339.5" y="547.2" font-size="8.2" font-weight="700" fill="#fff" text-anchor="middle">20</text><rect x="1474.9" y="477.1" width="19.3" height="10.7" fill="#000" opacity=".25"/><rect x="1474.0" y="475.7" width="19.3" height="10.7" fill="#ffdd00" stroke="#6f6a3a" stroke-width=".8"/><text x="1483.7" y="484.0" font-size="8.2" font-weight="700" fill="#111" text-anchor="middle">11</text><rect x="1443.8" y="403.4" width="18.7" height="10.0" rx="2" fill="#000" opacity=".22"/><rect x="1443.0" y="402.0" width="18.7" height="10.0" rx="2" fill="#d9636a"/><rect x="1444.3" y="403.3" width="16.1" height="7.4" rx="1" fill="#b5151d"/><text x="1452.3" y="410.0" font-size="8.2" font-weight="700" fill="#fff" text-anchor="middle">4</text><rect x="1872.0" y="542.1" width="19.8" height="11.1" rx="2" fill="#000" opacity=".22"/><rect x="1871.2" y="540.7" width="19.8" height="11.1" rx="2" fill="#d9636a"/><rect x="1872.5" y="542.0" width="17.2" height="8.5" rx="1" fill="#b5151d"/><text x="1881.1" y="549.2" font-size="8.2" font-weight="700" fill="#fff" text-anchor="middle">12</text><rect x="1381.4" y="610.8" width="19.9" height="12.0" rx="2" fill="#000" opacity=".22"/><rect x="1380.6" y="609.4" width="19.9" height="12.0" rx="2" fill="#d9636a"/><rect x="1381.9" y="610.7" width="17.3" height="9.4" rx="1" fill="#b5151d"/><text x="1390.5" y="618.4" font-size="8.2" font-weight="700" fill="#fff" text-anchor="middle">29</text><rect x="1532.3" y="583.8" width="20.1" height="11.6" rx="2" fill="#000" opacity=".22"/><rect x="1531.5" y="582.4" width="20.1" height="11.6" rx="2" fill="#d9636a"/><rect x="1532.8" y="583.7" width="17.5" height="9.0" rx="1" fill="#b5151d"/><text x="1541.5" y="591.2" font-size="8.2" font-weight="700" fill="#fff" text-anchor="middle">15</text><rect x="1619.0" y="582.0" width="19.0" height="11.9" rx="2" fill="#000" opacity=".22"/><rect x="1618.2" y="580.6" width="19.0" height="11.9" rx="2" fill="#d9636a"/><rect x="1619.5" y="581.9" width="16.4" height="9.3" rx="1" fill="#b5151d"/><text x="1627.7" y="589.5" font-size="8.2" font-weight="700" fill="#fff" text-anchor="middle">2</text><rect x="1677.1" y="642.5" width="19.8" height="11.5" rx="2" fill="#000" opacity=".22"/><rect x="1676.3" y="641.1" width="19.8" height="11.5" rx="2" fill="#d9636a"/><rect x="1677.6" y="642.4" width="17.2" height="8.9" rx="1" fill="#b5151d"/><text x="1686.2" y="649.9" font-size="8.2" font-weight="700" fill="#fff" text-anchor="middle">59</text><rect x="1668.3" y="669.5" width="18.8" height="11.2" fill="#000" opacity=".25"/><rect x="1667.4" y="668.1" width="18.8" height="11.2" fill="#ffdd00" stroke="#6f6a3a" stroke-width=".8"/><text x="1676.8" y="676.7" font-size="8.2" font-weight="700" fill="#111" text-anchor="middle">279</text><rect x="1771.7" y="581.7" width="20.0" height="11.4" rx="2" fill="#000" opacity=".22"/><rect x="1770.9" y="580.3" width="20.0" height="11.4" rx="2" fill="#d9636a"/><rect x="1772.2" y="581.6" width="17.4" height="8.8" rx="1" fill="#b5151d"/><text x="1780.9" y="589.0" font-size="8.2" font-weight="700" fill="#fff" text-anchor="middle">73</text><rect x="1831.6" y="601.0" width="18.8" height="11.0" fill="#000" opacity=".25"/><rect x="1830.7" y="599.6" width="18.8" height="11.0" fill="#ffdd00" stroke="#6f6a3a" stroke-width=".8"/><text x="1840.1" y="608.1" font-size="8.2" font-weight="700" fill="#111" text-anchor="middle">9</text><rect x="1850.8" y="621.8" width="18.9" height="11.4" fill="#000" opacity=".25"/><rect x="1849.9" y="620.4" width="18.9" height="11.4" fill="#ffdd00" stroke="#6f6a3a" stroke-width=".8"/><text x="1859.3" y="629.1" font-size="8.2" font-weight="700" fill="#111" text-anchor="middle">504</text><rect x="1857.4" y="664.4" width="19.0" height="11.1" fill="#000" opacity=".25"/><rect x="1856.5" y="663.0" width="19.0" height="11.1" fill="#ffdd00" stroke="#6f6a3a" stroke-width=".8"/><text x="1866.0" y="671.5" font-size="8.2" font-weight="700" fill="#111" text-anchor="middle">57</text><rect x="1205.2" y="641.6" width="19.2" height="11.4" fill="#000" opacity=".25"/><rect x="1204.3" y="640.2" width="19.2" height="11.4" fill="#ffdd00" stroke="#6f6a3a" stroke-width=".8"/><text x="1213.9" y="648.9" font-size="8.2" font-weight="700" fill="#111" text-anchor="middle">57</text><rect x="1306.9" y="656.0" width="20.0" height="11.6" fill="#000" opacity=".25"/><rect x="1306.0" y="654.6" width="20.0" height="11.6" fill="#ffdd00" stroke="#6f6a3a" stroke-width=".8"/><text x="1316.0" y="663.4" font-size="8.2" font-weight="700" fill="#111" text-anchor="middle">59</text><path d="M1425.7 552.2C1421.5 545.5 1417.7 541 1417.7 536.2A8 8 0 0 1 1433.7 536.2C1433.7 541 1429.9 545.5 1425.7 552.2Z" fill="#232323"/><circle cx="1425.7" cy="535.6" r="2.2" fill="#6a6358"/><circle cx="1425.9" cy="535.2" r="1" fill="#c8a86a"/><circle cx="1006.5" cy="445.4" r="23.3" fill="#e4f1fa" stroke="#cfdde8" stroke-width="1"/><path d="M1002 431.8L1006.5 427.2L1011 431.8M1002 459L1006.5 463.6L1011 459M992.8 440.8L988.2 445.4L992.8 450M1020.2 440.8L1024.8 445.4L1020.2 450" fill="none" stroke="#8a92ad" stroke-width="1.6"/><rect x="1004.4" y="495" width="3.8" height="82" fill="#dcebf5" stroke="#cfdde8" stroke-width=".5"/><rect x="995.2" y="473.4" width="22.5" height="22.2" fill="#e4f1fa" stroke="#cfdde8" stroke-width="1"/><path d="M1002.6 484.5h7.8M1006.5 480.6v7.8" stroke="#7d8198" stroke-width="1.3"/><rect x="995.2" y="576.2" width="22.5" height="22.2" fill="#e4f1fa" stroke="#cfdde8" stroke-width="1"/><path d="M1002.6 587.2h7.8" stroke="#7d8198" stroke-width="1.3"/><rect x="999.4" y="534.6" width="14.2" height="10.8" fill="#e4f1fa" stroke="#cfdde8" stroke-width=".8" opacity=".92"/><path d="M1001.4 540h10.2" stroke="#8a8ea6" stroke-width="1.2"/><rect x="1679.8" y="687" width="203" height="17" fill="#fff" opacity=".72"/><text x="1680.6" y="696.7" font-size="7.9" fill="#55595c" textLength="94.6" lengthAdjust="spacing">© 2025 Oracle Corporation</text><text x="1785" y="696.7" font-size="7.9" fill="#4f93b7" textLength="21" lengthAdjust="spacing">Terms</text><text x="1815.8" y="696.7" font-size="7.9" fill="#55595c" textLength="64.4" lengthAdjust="spacing">Map data © HERE</text></svg>
<div class="card" style="left:12px;top:728px;width:1879px;height:340px;"></div>
<svg style="left:24.5px;top:740.5px" width="12" height="12" viewBox="0 0 12 12"><path d="M0.8 0.4V10.9H11.2" fill="none" stroke="#3e4a4d" stroke-width="1.1"/><path d="M3.1 10.4V4.2M5.3 10.4V1.6M7.5 10.4V5.2M9.7 10.4V3" stroke="#3e4a4d" stroke-width="1.2"/></svg>
<span class="t" style="font-size:13.3px;color:#3e4a4d;letter-spacing:-0.332px;left:39.30px;top:740.00px;">Role Units</span>
<svg style="left:1866.5px;top:743px" width="13" height="12" viewBox="0 0 13 12"><path d="M1.4 3.5V0.6H4.3M8.6 0.6H11.5V3.5M11.5 7.5V10.4H8.6M4.3 10.4H1.4V7.5" fill="none" stroke="#3b4649" stroke-width="1.2"/></svg>
<svg style="left:0;top:0" width="1918" height="1078" viewBox="0 0 1918 1078"><path d="M70.5 984.2H1772.5" stroke="#e4e9ec" stroke-width="1"/><path d="M70.5 933.0H1772.5" stroke="#e4e9ec" stroke-width="1"/><path d="M70.5 881.9H1772.5" stroke="#e4e9ec" stroke-width="1"/><path d="M70.5 830.7H1772.5" stroke="#e4e9ec" stroke-width="1"/><path d="M70.5 779.6H1772.5" stroke="#e4e9ec" stroke-width="1"/><path d="M283.2 779.6V1035.3" stroke="#e4e9ec" stroke-width="1"/><path d="M496.0 779.6V1035.3" stroke="#e4e9ec" stroke-width="1"/><path d="M708.8 779.6V1035.3" stroke="#e4e9ec" stroke-width="1"/><path d="M921.5 779.6V1035.3" stroke="#e4e9ec" stroke-width="1"/><path d="M1134.2 779.6V1035.3" stroke="#e4e9ec" stroke-width="1"/><path d="M1347.0 779.6V1035.3" stroke="#e4e9ec" stroke-width="1"/><path d="M1559.8 779.6V1035.3" stroke="#e4e9ec" stroke-width="1"/><rect x="151.4" y="937.1" width="51" height="98.2" fill="#ed6647"/><rect x="151.4" y="921.8" width="51" height="15.3" fill="#8561c8"/><path d="M151.4 937.1h51" stroke="#fff" stroke-opacity=".55" stroke-width="1"/><rect x="364.1" y="1004.6" width="51" height="30.7" fill="#6ddbdb"/><rect x="364.1" y="902.3" width="51" height="102.3" fill="#ffb54d"/><path d="M364.1 1004.6h51" stroke="#fff" stroke-opacity=".55" stroke-width="1"/><rect x="364.1" y="861.4" width="51" height="40.9" fill="#e371b2"/><path d="M364.1 902.3h51" stroke="#fff" stroke-opacity=".55" stroke-width="1"/><rect x="576.9" y="1025.1" width="51" height="10.2" fill="#47bdef"/><rect x="789.6" y="982.1" width="51" height="53.2" fill="#a2bf39"/><rect x="1002.4" y="979.0" width="51" height="56.3" fill="#a75dba"/><rect x="1215.1" y="1008.7" width="51" height="26.6" fill="#f7f37b"/><rect x="1215.1" y="980.6" width="51" height="28.1" fill="#255a63"/><path d="M1215.1 1008.7h51" stroke="#fff" stroke-opacity=".55" stroke-width="1"/><rect x="1427.9" y="813.4" width="51" height="221.9" fill="#d9790f"/><rect x="1640.6" y="1025.1" width="51" height="10.2" fill="#2f9e9a"/><path d="M70.5 779.6V1035.8" stroke="#999" stroke-width="1"/><path d="M70.0 1035.3999999999999H1772.5" stroke="#999" stroke-width="1.1"/></svg>
<span class="t" style="font-size:10.3px;color:#161513;letter-spacing:-0.527px;left:50.10px;top:1030.00px;">0h</span>
<span class="t" style="font-size:10.3px;color:#161513;letter-spacing:0.040px;left:38.00px;top:980.00px;">200h</span>
<span class="t" style="font-size:10.3px;color:#161513;letter-spacing:0.040px;left:38.00px;top:929.00px;">400h</span>
<span class="t" style="font-size:10.3px;color:#161513;letter-spacing:0.040px;left:38.00px;top:877.00px;">600h</span>
<span class="t" style="font-size:10.3px;color:#161513;letter-spacing:0.040px;left:38.00px;top:826.00px;">800h</span>
<span class="t" style="font-size:10.3px;color:#161513;letter-spacing:-0.493px;left:32.00px;top:775.00px;">1.000h</span>
<span class="t" style="font-size:10.3px;color:#161513;letter-spacing:-0.227px;left:165.62px;top:910.00px;">444h</span>
<span class="t" style="font-size:10.3px;color:#161513;letter-spacing:-0.230px;left:128.12px;top:1045.00px;">Construction Manager</span>
<span class="t" style="font-size:10.3px;color:#161513;letter-spacing:-0.060px;left:378.12px;top:849.00px;">680h</span>
<span class="t" style="font-size:10.3px;color:#161513;letter-spacing:-0.470px;left:370.38px;top:1045.00px;">Engineer</span>
<span class="t" style="font-size:10.3px;color:#161513;letter-spacing:0.023px;left:593.62px;top:1013.00px;">40h</span>
<span class="t" style="font-size:10.3px;color:#161513;letter-spacing:-0.317px;left:563.12px;top:1045.00px;">Event Coordinator</span>
<span class="t" style="font-size:10.3px;color:#161513;letter-spacing:-0.227px;left:803.88px;top:970.00px;">208h</span>
<span class="t" style="font-size:10.3px;color:#161513;letter-spacing:-0.315px;left:762.38px;top:1045.00px;">Project Control Engineer</span>
<span class="t" style="font-size:10.3px;color:#161513;letter-spacing:-0.227px;left:1016.62px;top:967.00px;">220h</span>
<span class="t" style="font-size:10.3px;color:#161513;letter-spacing:-0.330px;left:992.12px;top:1045.00px;">Project Manager</span>
<span class="t" style="font-size:10.3px;color:#161513;letter-spacing:-0.464px;transform:scaleX(0.9408);left:1230.38px;top:969.00px;">214h</span>
<span class="t" style="font-size:10.3px;color:#161513;letter-spacing:-0.292px;left:1156.88px;top:1045.00px;">Stakeholder &amp; Environmental Manager</span>
<span class="t" style="font-size:10.3px;color:#161513;letter-spacing:-0.227px;left:1442.12px;top:801.00px;">868h</span>
<span class="t" style="font-size:10.3px;color:#161513;letter-spacing:-0.317px;left:1411.88px;top:1045.00px;">Technical Inspector</span>
<span class="t" style="font-size:10.3px;color:#161513;letter-spacing:0.023px;left:1657.38px;top:1013.00px;">40h</span>
<span class="t" style="font-size:10.3px;color:#161513;letter-spacing:-0.467px;left:1651.12px;top:1045.00px;">Trainer</span>
<div class="abs" style="left:1786px;top:816.0px;width:8px;height:8px;background:#2f9e9a;"></div>
<span class="t" style="font-size:10.3px;color:#2f2b28;letter-spacing:-0.479px;left:1800.30px;top:816.00px;">Laura Silva</span>
<div class="abs" style="left:1786px;top:832.0px;width:8px;height:8px;background:#d9790f;"></div>
<span class="t" style="font-size:10.3px;color:#2f2b28;letter-spacing:-0.325px;left:1800.30px;top:832.00px;">Peter Müller</span>
<div class="abs" style="left:1786px;top:848.0px;width:8px;height:8px;background:#255a63;"></div>
<span class="t" style="font-size:10.3px;color:#2f2b28;letter-spacing:-0.272px;left:1800.30px;top:848.00px;">Sophie Dupont</span>
<div class="abs" style="left:1786px;top:864.1px;width:8px;height:8px;background:#f7f37b;"></div>
<span class="t" style="font-size:10.3px;color:#2f2b28;letter-spacing:-0.518px;left:1800.30px;top:864.00px;">Carlos Garcia</span>
<div class="abs" style="left:1786px;top:880.1px;width:8px;height:8px;background:#a75dba;"></div>
<span class="t" style="font-size:10.3px;color:#2f2b28;letter-spacing:-0.392px;left:1800.30px;top:880.00px;">Emma Johnson</span>
<div class="abs" style="left:1786px;top:896.1px;width:8px;height:8px;background:#a2bf39;"></div>
<span class="t" style="font-size:10.3px;color:#2f2b28;letter-spacing:-0.264px;left:1800.30px;top:896.00px;">Ingrid Berg</span>
<div class="abs" style="left:1786px;top:912.1px;width:8px;height:8px;background:#47bdef;"></div>
<span class="t" style="font-size:10.3px;color:#2f2b28;letter-spacing:-0.311px;transform:scaleX(0.9486);left:1800.30px;top:912.00px;">Raj Patel</span>
<div class="abs" style="left:1786px;top:928.1px;width:8px;height:8px;background:#e371b2;"></div>
<span class="t" style="font-size:10.3px;color:#2f2b28;letter-spacing:-0.166px;left:1800.30px;top:928.00px;">Olivia Martin</span>
<div class="abs" style="left:1786px;top:944.2px;width:8px;height:8px;background:#ffb54d;"></div>
<span class="t" style="font-size:10.3px;color:#2f2b28;letter-spacing:-0.480px;left:1800.30px;top:944.00px;">Lucas Brown</span>
<div class="abs" style="left:1786px;top:960.2px;width:8px;height:8px;background:#6ddbdb;"></div>
<span class="t" style="font-size:10.3px;color:#2f2b28;letter-spacing:-0.243px;left:1800.30px;top:960.00px;">Ahmed Al-Farsi</span>
<div class="abs" style="left:1786px;top:976.2px;width:8px;height:8px;background:#8561c8;"></div>
<span class="t" style="font-size:10.3px;color:#2f2b28;letter-spacing:-0.318px;left:1800.30px;top:976.00px;">Michael Zhang</span>
<div class="abs" style="left:1786px;top:992.2px;width:8px;height:8px;background:#ed6647;"></div>
<span class="t" style="font-size:10.3px;color:#2f2b28;letter-spacing:-0.374px;left:1800.30px;top:992.00px;">James Williams</span>
</body></html>
